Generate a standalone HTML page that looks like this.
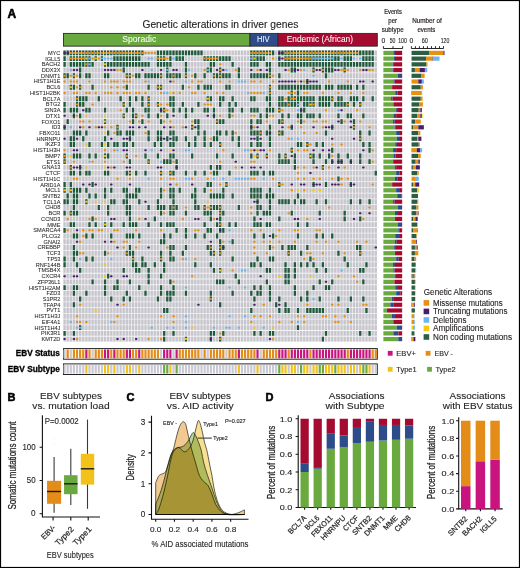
<!DOCTYPE html><html><head><meta charset="utf-8"><style>html,body{margin:0;padding:0;background:#fff;}svg{display:block;}</style></head><body><svg width="520" height="568" viewBox="0 0 520 568" font-family='"Liberation Sans", sans-serif'>
<rect x="0" y="0" width="520" height="568" fill="#fff"/>
<text x="142.4" y="28" font-size="10.4" fill="#231F20" stroke="#231F20" stroke-width="0.12" textLength="155.9" lengthAdjust="spacingAndGlyphs" >Genetic alterations in driver genes</text>
<text x="7.6" y="17.6" font-size="12" fill="#000" stroke="#000" stroke-width="0.55" font-weight="bold" >A</text>
<rect x="63.5" y="33.4" width="186.5" height="12.75" fill="#69A93F" stroke="#2a2a2a" stroke-width="0.9"/>
<rect x="250" y="33.4" width="27.9" height="12.75" fill="#2E4C8A" stroke="#2a2a2a" stroke-width="0.9"/>
<rect x="277.9" y="33.4" width="99.4" height="12.75" fill="#A50A30" stroke="#2a2a2a" stroke-width="0.9"/>
<text x="122.3" y="42.4" font-size="8.4" fill="#fff" stroke="#fff" stroke-width="0.05" textLength="33.9" lengthAdjust="spacingAndGlyphs" >Sporadic</text>
<text x="256.9" y="42.4" font-size="8.4" fill="#fff" stroke="#fff" stroke-width="0.05" textLength="12.7" lengthAdjust="spacingAndGlyphs" >HIV</text>
<text x="286.7" y="42.4" font-size="8.4" fill="#fff" stroke="#fff" stroke-width="0.05" textLength="66.3" lengthAdjust="spacingAndGlyphs" >Endemic (African)</text>
<g>
<rect x="63.33" y="50.45" width="313.71" height="291.1" fill="#EDEDF0"/>
<path fill="#C5C5CB" d="M63.46 50.45h2.25V341.55h-2.25zM66.57 50.45h2.25V341.55h-2.25zM69.69 50.45h2.25V341.55h-2.25zM72.8 50.45h2.25V341.55h-2.25zM75.91 50.45h2.25V341.55h-2.25zM79.02 50.45h2.25V341.55h-2.25zM82.13 50.45h2.25V341.55h-2.25zM85.25 50.45h2.25V341.55h-2.25zM88.36 50.45h2.25V341.55h-2.25zM91.47 50.45h2.25V341.55h-2.25zM94.58 50.45h2.25V341.55h-2.25zM97.69 50.45h2.25V341.55h-2.25zM100.81 50.45h2.25V341.55h-2.25zM103.92 50.45h2.25V341.55h-2.25zM107.03 50.45h2.25V341.55h-2.25zM110.14 50.45h2.25V341.55h-2.25zM113.25 50.45h2.25V341.55h-2.25zM116.37 50.45h2.25V341.55h-2.25zM119.48 50.45h2.25V341.55h-2.25zM122.59 50.45h2.25V341.55h-2.25zM125.7 50.45h2.25V341.55h-2.25zM128.81 50.45h2.25V341.55h-2.25zM131.93 50.45h2.25V341.55h-2.25zM135.04 50.45h2.25V341.55h-2.25zM138.15 50.45h2.25V341.55h-2.25zM141.26 50.45h2.25V341.55h-2.25zM144.37 50.45h2.25V341.55h-2.25zM147.49 50.45h2.25V341.55h-2.25zM150.6 50.45h2.25V341.55h-2.25zM153.71 50.45h2.25V341.55h-2.25zM156.82 50.45h2.25V341.55h-2.25zM159.93 50.45h2.25V341.55h-2.25zM163.05 50.45h2.25V341.55h-2.25zM166.16 50.45h2.25V341.55h-2.25zM169.27 50.45h2.25V341.55h-2.25zM172.38 50.45h2.25V341.55h-2.25zM175.49 50.45h2.25V341.55h-2.25zM178.61 50.45h2.25V341.55h-2.25zM181.72 50.45h2.25V341.55h-2.25zM184.83 50.45h2.25V341.55h-2.25zM187.94 50.45h2.25V341.55h-2.25zM191.05 50.45h2.25V341.55h-2.25zM194.16 50.45h2.25V341.55h-2.25zM197.28 50.45h2.25V341.55h-2.25zM200.39 50.45h2.25V341.55h-2.25zM203.5 50.45h2.25V341.55h-2.25zM206.61 50.45h2.25V341.55h-2.25zM209.72 50.45h2.25V341.55h-2.25zM212.84 50.45h2.25V341.55h-2.25zM215.95 50.45h2.25V341.55h-2.25zM219.06 50.45h2.25V341.55h-2.25zM222.17 50.45h2.25V341.55h-2.25zM225.28 50.45h2.25V341.55h-2.25zM228.4 50.45h2.25V341.55h-2.25zM231.51 50.45h2.25V341.55h-2.25zM234.62 50.45h2.25V341.55h-2.25zM237.73 50.45h2.25V341.55h-2.25zM240.84 50.45h2.25V341.55h-2.25zM243.96 50.45h2.25V341.55h-2.25zM247.07 50.45h2.25V341.55h-2.25zM250.18 50.45h2.25V341.55h-2.25zM253.29 50.45h2.25V341.55h-2.25zM256.4 50.45h2.25V341.55h-2.25zM259.52 50.45h2.25V341.55h-2.25zM262.63 50.45h2.25V341.55h-2.25zM265.74 50.45h2.25V341.55h-2.25zM268.85 50.45h2.25V341.55h-2.25zM271.97 50.45h2.25V341.55h-2.25zM275.08 50.45h2.25V341.55h-2.25zM278.19 50.45h2.25V341.55h-2.25zM281.3 50.45h2.25V341.55h-2.25zM284.41 50.45h2.25V341.55h-2.25zM287.52 50.45h2.25V341.55h-2.25zM290.64 50.45h2.25V341.55h-2.25zM293.75 50.45h2.25V341.55h-2.25zM296.86 50.45h2.25V341.55h-2.25zM299.97 50.45h2.25V341.55h-2.25zM303.09 50.45h2.25V341.55h-2.25zM306.2 50.45h2.25V341.55h-2.25zM309.31 50.45h2.25V341.55h-2.25zM312.42 50.45h2.25V341.55h-2.25zM315.53 50.45h2.25V341.55h-2.25zM318.64 50.45h2.25V341.55h-2.25zM321.76 50.45h2.25V341.55h-2.25zM324.87 50.45h2.25V341.55h-2.25zM327.98 50.45h2.25V341.55h-2.25zM331.09 50.45h2.25V341.55h-2.25zM334.21 50.45h2.25V341.55h-2.25zM337.32 50.45h2.25V341.55h-2.25zM340.43 50.45h2.25V341.55h-2.25zM343.54 50.45h2.25V341.55h-2.25zM346.65 50.45h2.25V341.55h-2.25zM349.76 50.45h2.25V341.55h-2.25zM352.88 50.45h2.25V341.55h-2.25zM355.99 50.45h2.25V341.55h-2.25zM359.1 50.45h2.25V341.55h-2.25zM362.21 50.45h2.25V341.55h-2.25zM365.33 50.45h2.25V341.55h-2.25zM368.44 50.45h2.25V341.55h-2.25zM371.55 50.45h2.25V341.55h-2.25zM374.66 50.45h2.25V341.55h-2.25z"/>
<path fill="#F4F4F6" d="M62 55.35H379V56.17H62zM62 61.07H379V61.9H62zM62 66.8H379V67.62H62zM62 72.52H379V73.35H62zM62 78.25H379V79.07H62zM62 83.97H379V84.79H62zM62 89.69H379V90.52H62zM62 95.42H379V96.24H62zM62 101.14H379V101.97H62zM62 106.87H379V107.69H62zM62 112.59H379V113.41H62zM62 118.31H379V119.14H62zM62 124.04H379V124.86H62zM62 129.76H379V130.59H62zM62 135.49H379V136.31H62zM62 141.21H379V142.03H62zM62 146.93H379V147.76H62zM62 152.66H379V153.48H62zM62 158.38H379V159.21H62zM62 164.11H379V164.93H62zM62 169.83H379V170.65H62zM62 175.55H379V176.38H62zM62 181.28H379V182.1H62zM62 187H379V187.83H62zM62 192.73H379V193.55H62zM62 198.45H379V199.27H62zM62 204.17H379V205H62zM62 209.9H379V210.72H62zM62 215.62H379V216.45H62zM62 221.35H379V222.17H62zM62 227.07H379V227.89H62zM62 232.79H379V233.62H62zM62 238.52H379V239.34H62zM62 244.24H379V245.07H62zM62 249.97H379V250.79H62zM62 255.69H379V256.51H62zM62 261.41H379V262.24H62zM62 267.14H379V267.96H62zM62 272.86H379V273.69H62zM62 278.59H379V279.41H62zM62 284.31H379V285.13H62zM62 290.03H379V290.86H62zM62 295.76H379V296.58H62zM62 301.48H379V302.31H62zM62 307.21H379V308.03H62zM62 312.93H379V313.75H62zM62 318.65H379V319.48H62zM62 324.38H379V325.2H62zM62 330.1H379V330.93H62zM62 335.83H379V336.65H62z"/>
<path fill="#1F5A3B" d="M63.46 50.45h2.25v4.9h-2.25zM66.57 50.45h2.25v4.9h-2.25zM69.69 50.45h2.25v4.9h-2.25zM72.8 50.45h2.25v4.9h-2.25zM75.91 50.45h2.25v4.9h-2.25zM79.02 50.45h2.25v4.9h-2.25zM82.13 50.45h2.25v4.9h-2.25zM85.25 50.45h2.25v4.9h-2.25zM88.36 50.45h2.25v4.9h-2.25zM91.47 50.45h2.25v4.9h-2.25zM94.58 50.45h2.25v4.9h-2.25zM97.69 50.45h2.25v4.9h-2.25zM100.81 50.45h2.25v4.9h-2.25zM103.92 50.45h2.25v4.9h-2.25zM107.03 50.45h2.25v4.9h-2.25zM110.14 50.45h2.25v4.9h-2.25zM113.25 50.45h2.25v4.9h-2.25zM116.37 50.45h2.25v4.9h-2.25zM119.48 50.45h2.25v4.9h-2.25zM122.59 50.45h2.25v4.9h-2.25zM125.7 50.45h2.25v4.9h-2.25zM128.81 50.45h2.25v4.9h-2.25zM131.93 50.45h2.25v4.9h-2.25zM135.04 50.45h2.25v4.9h-2.25zM138.15 50.45h2.25v4.9h-2.25zM141.26 50.45h2.25v4.9h-2.25zM156.82 50.45h2.25v4.9h-2.25zM159.93 50.45h2.25v4.9h-2.25zM163.05 50.45h2.25v4.9h-2.25zM166.16 50.45h2.25v4.9h-2.25zM169.27 50.45h2.25v4.9h-2.25zM172.38 50.45h2.25v4.9h-2.25zM175.49 50.45h2.25v4.9h-2.25zM178.61 50.45h2.25v4.9h-2.25zM181.72 50.45h2.25v4.9h-2.25zM184.83 50.45h2.25v4.9h-2.25zM187.94 50.45h2.25v4.9h-2.25zM191.05 50.45h2.25v4.9h-2.25zM194.16 50.45h2.25v4.9h-2.25zM197.28 50.45h2.25v4.9h-2.25zM200.39 50.45h2.25v4.9h-2.25zM250.18 50.45h2.25v4.9h-2.25zM253.29 50.45h2.25v4.9h-2.25zM256.4 50.45h2.25v4.9h-2.25zM259.52 50.45h2.25v4.9h-2.25zM262.63 50.45h2.25v4.9h-2.25zM265.74 50.45h2.25v4.9h-2.25zM268.85 50.45h2.25v4.9h-2.25zM271.97 50.45h2.25v4.9h-2.25zM278.19 50.45h2.25v4.9h-2.25zM281.3 50.45h2.25v4.9h-2.25zM284.41 50.45h2.25v4.9h-2.25zM287.52 50.45h2.25v4.9h-2.25zM290.64 50.45h2.25v4.9h-2.25zM293.75 50.45h2.25v4.9h-2.25zM296.86 50.45h2.25v4.9h-2.25zM299.97 50.45h2.25v4.9h-2.25zM303.09 50.45h2.25v4.9h-2.25zM306.2 50.45h2.25v4.9h-2.25zM309.31 50.45h2.25v4.9h-2.25zM312.42 50.45h2.25v4.9h-2.25zM315.53 50.45h2.25v4.9h-2.25zM318.64 50.45h2.25v4.9h-2.25zM321.76 50.45h2.25v4.9h-2.25zM324.87 50.45h2.25v4.9h-2.25zM327.98 50.45h2.25v4.9h-2.25zM331.09 50.45h2.25v4.9h-2.25zM334.21 50.45h2.25v4.9h-2.25zM337.32 50.45h2.25v4.9h-2.25zM340.43 50.45h2.25v4.9h-2.25zM343.54 50.45h2.25v4.9h-2.25zM346.65 50.45h2.25v4.9h-2.25zM349.76 50.45h2.25v4.9h-2.25zM352.88 50.45h2.25v4.9h-2.25zM355.99 50.45h2.25v4.9h-2.25zM359.1 50.45h2.25v4.9h-2.25zM362.21 50.45h2.25v4.9h-2.25zM365.33 50.45h2.25v4.9h-2.25zM368.44 50.45h2.25v4.9h-2.25zM371.55 50.45h2.25v4.9h-2.25zM63.46 56.17h2.25v4.9h-2.25zM69.69 56.17h2.25v4.9h-2.25zM72.8 56.17h2.25v4.9h-2.25zM75.91 56.17h2.25v4.9h-2.25zM79.02 56.17h2.25v4.9h-2.25zM82.13 56.17h2.25v4.9h-2.25zM85.25 56.17h2.25v4.9h-2.25zM88.36 56.17h2.25v4.9h-2.25zM94.58 56.17h2.25v4.9h-2.25zM100.81 56.17h2.25v4.9h-2.25zM113.25 56.17h2.25v4.9h-2.25zM116.37 56.17h2.25v4.9h-2.25zM119.48 56.17h2.25v4.9h-2.25zM122.59 56.17h2.25v4.9h-2.25zM125.7 56.17h2.25v4.9h-2.25zM128.81 56.17h2.25v4.9h-2.25zM131.93 56.17h2.25v4.9h-2.25zM135.04 56.17h2.25v4.9h-2.25zM138.15 56.17h2.25v4.9h-2.25zM156.82 56.17h2.25v4.9h-2.25zM159.93 56.17h2.25v4.9h-2.25zM163.05 56.17h2.25v4.9h-2.25zM169.27 56.17h2.25v4.9h-2.25zM175.49 56.17h2.25v4.9h-2.25zM178.61 56.17h2.25v4.9h-2.25zM181.72 56.17h2.25v4.9h-2.25zM203.5 56.17h2.25v4.9h-2.25zM206.61 56.17h2.25v4.9h-2.25zM209.72 56.17h2.25v4.9h-2.25zM212.84 56.17h2.25v4.9h-2.25zM215.95 56.17h2.25v4.9h-2.25zM219.06 56.17h2.25v4.9h-2.25zM222.17 56.17h2.25v4.9h-2.25zM225.28 56.17h2.25v4.9h-2.25zM228.4 56.17h2.25v4.9h-2.25zM250.18 56.17h2.25v4.9h-2.25zM253.29 56.17h2.25v4.9h-2.25zM256.4 56.17h2.25v4.9h-2.25zM259.52 56.17h2.25v4.9h-2.25zM262.63 56.17h2.25v4.9h-2.25zM278.19 56.17h2.25v4.9h-2.25zM284.41 56.17h2.25v4.9h-2.25zM287.52 56.17h2.25v4.9h-2.25zM290.64 56.17h2.25v4.9h-2.25zM293.75 56.17h2.25v4.9h-2.25zM296.86 56.17h2.25v4.9h-2.25zM299.97 56.17h2.25v4.9h-2.25zM303.09 56.17h2.25v4.9h-2.25zM306.2 56.17h2.25v4.9h-2.25zM309.31 56.17h2.25v4.9h-2.25zM312.42 56.17h2.25v4.9h-2.25zM315.53 56.17h2.25v4.9h-2.25zM318.64 56.17h2.25v4.9h-2.25zM321.76 56.17h2.25v4.9h-2.25zM324.87 56.17h2.25v4.9h-2.25zM327.98 56.17h2.25v4.9h-2.25zM331.09 56.17h2.25v4.9h-2.25zM334.21 56.17h2.25v4.9h-2.25zM337.32 56.17h2.25v4.9h-2.25zM343.54 56.17h2.25v4.9h-2.25zM346.65 56.17h2.25v4.9h-2.25zM349.76 56.17h2.25v4.9h-2.25zM362.21 56.17h2.25v4.9h-2.25zM365.33 56.17h2.25v4.9h-2.25zM368.44 56.17h2.25v4.9h-2.25zM371.55 56.17h2.25v4.9h-2.25zM63.46 61.9h2.25v4.9h-2.25zM69.69 61.9h2.25v4.9h-2.25zM72.8 61.9h2.25v4.9h-2.25zM75.91 61.9h2.25v4.9h-2.25zM79.02 61.9h2.25v4.9h-2.25zM82.13 61.9h2.25v4.9h-2.25zM85.25 61.9h2.25v4.9h-2.25zM88.36 61.9h2.25v4.9h-2.25zM91.47 61.9h2.25v4.9h-2.25zM103.92 61.9h2.25v4.9h-2.25zM107.03 61.9h2.25v4.9h-2.25zM110.14 61.9h2.25v4.9h-2.25zM113.25 61.9h2.25v4.9h-2.25zM116.37 61.9h2.25v4.9h-2.25zM119.48 61.9h2.25v4.9h-2.25zM122.59 61.9h2.25v4.9h-2.25zM125.7 61.9h2.25v4.9h-2.25zM128.81 61.9h2.25v4.9h-2.25zM131.93 61.9h2.25v4.9h-2.25zM135.04 61.9h2.25v4.9h-2.25zM138.15 61.9h2.25v4.9h-2.25zM141.26 61.9h2.25v4.9h-2.25zM144.37 61.9h2.25v4.9h-2.25zM147.49 61.9h2.25v4.9h-2.25zM156.82 61.9h2.25v4.9h-2.25zM159.93 61.9h2.25v4.9h-2.25zM163.05 61.9h2.25v4.9h-2.25zM166.16 61.9h2.25v4.9h-2.25zM169.27 61.9h2.25v4.9h-2.25zM184.83 61.9h2.25v4.9h-2.25zM209.72 61.9h2.25v4.9h-2.25zM212.84 61.9h2.25v4.9h-2.25zM231.51 61.9h2.25v4.9h-2.25zM250.18 61.9h2.25v4.9h-2.25zM253.29 61.9h2.25v4.9h-2.25zM256.4 61.9h2.25v4.9h-2.25zM265.74 61.9h2.25v4.9h-2.25zM268.85 61.9h2.25v4.9h-2.25zM278.19 61.9h2.25v4.9h-2.25zM281.3 61.9h2.25v4.9h-2.25zM284.41 61.9h2.25v4.9h-2.25zM287.52 61.9h2.25v4.9h-2.25zM290.64 61.9h2.25v4.9h-2.25zM293.75 61.9h2.25v4.9h-2.25zM296.86 61.9h2.25v4.9h-2.25zM299.97 61.9h2.25v4.9h-2.25zM303.09 61.9h2.25v4.9h-2.25zM306.2 61.9h2.25v4.9h-2.25zM309.31 61.9h2.25v4.9h-2.25zM312.42 61.9h2.25v4.9h-2.25zM315.53 61.9h2.25v4.9h-2.25zM318.64 61.9h2.25v4.9h-2.25zM321.76 61.9h2.25v4.9h-2.25zM324.87 61.9h2.25v4.9h-2.25zM327.98 61.9h2.25v4.9h-2.25zM331.09 61.9h2.25v4.9h-2.25zM334.21 61.9h2.25v4.9h-2.25zM337.32 61.9h2.25v4.9h-2.25zM340.43 61.9h2.25v4.9h-2.25zM343.54 61.9h2.25v4.9h-2.25zM346.65 61.9h2.25v4.9h-2.25zM349.76 61.9h2.25v4.9h-2.25zM352.88 61.9h2.25v4.9h-2.25zM355.99 61.9h2.25v4.9h-2.25zM359.1 61.9h2.25v4.9h-2.25zM362.21 61.9h2.25v4.9h-2.25zM365.33 61.9h2.25v4.9h-2.25zM368.44 61.9h2.25v4.9h-2.25zM371.55 61.9h2.25v4.9h-2.25zM79.02 67.62h2.25v4.9h-2.25zM122.59 67.62h2.25v4.9h-2.25zM166.16 67.62h2.25v4.9h-2.25zM184.83 67.62h2.25v4.9h-2.25zM206.61 67.62h2.25v4.9h-2.25zM209.72 67.62h2.25v4.9h-2.25zM219.06 67.62h2.25v4.9h-2.25zM237.73 67.62h2.25v4.9h-2.25zM268.85 67.62h2.25v4.9h-2.25zM290.64 67.62h2.25v4.9h-2.25zM293.75 67.62h2.25v4.9h-2.25zM312.42 67.62h2.25v4.9h-2.25zM321.76 67.62h2.25v4.9h-2.25zM324.87 67.62h2.25v4.9h-2.25zM327.98 67.62h2.25v4.9h-2.25zM331.09 67.62h2.25v4.9h-2.25zM343.54 67.62h2.25v4.9h-2.25zM63.46 73.35h2.25v4.9h-2.25zM66.57 73.35h2.25v4.9h-2.25zM72.8 73.35h2.25v4.9h-2.25zM79.02 73.35h2.25v4.9h-2.25zM85.25 73.35h2.25v4.9h-2.25zM88.36 73.35h2.25v4.9h-2.25zM103.92 73.35h2.25v4.9h-2.25zM107.03 73.35h2.25v4.9h-2.25zM125.7 73.35h2.25v4.9h-2.25zM128.81 73.35h2.25v4.9h-2.25zM135.04 73.35h2.25v4.9h-2.25zM138.15 73.35h2.25v4.9h-2.25zM144.37 73.35h2.25v4.9h-2.25zM147.49 73.35h2.25v4.9h-2.25zM150.6 73.35h2.25v4.9h-2.25zM153.71 73.35h2.25v4.9h-2.25zM156.82 73.35h2.25v4.9h-2.25zM159.93 73.35h2.25v4.9h-2.25zM166.16 73.35h2.25v4.9h-2.25zM169.27 73.35h2.25v4.9h-2.25zM172.38 73.35h2.25v4.9h-2.25zM175.49 73.35h2.25v4.9h-2.25zM178.61 73.35h2.25v4.9h-2.25zM184.83 73.35h2.25v4.9h-2.25zM194.16 73.35h2.25v4.9h-2.25zM203.5 73.35h2.25v4.9h-2.25zM212.84 73.35h2.25v4.9h-2.25zM215.95 73.35h2.25v4.9h-2.25zM219.06 73.35h2.25v4.9h-2.25zM222.17 73.35h2.25v4.9h-2.25zM225.28 73.35h2.25v4.9h-2.25zM228.4 73.35h2.25v4.9h-2.25zM237.73 73.35h2.25v4.9h-2.25zM250.18 73.35h2.25v4.9h-2.25zM253.29 73.35h2.25v4.9h-2.25zM256.4 73.35h2.25v4.9h-2.25zM259.52 73.35h2.25v4.9h-2.25zM262.63 73.35h2.25v4.9h-2.25zM265.74 73.35h2.25v4.9h-2.25zM268.85 73.35h2.25v4.9h-2.25zM278.19 73.35h2.25v4.9h-2.25zM324.87 73.35h2.25v4.9h-2.25zM306.2 79.07h2.25v4.9h-2.25zM69.69 84.79h2.25v4.9h-2.25zM72.8 84.79h2.25v4.9h-2.25zM79.02 84.79h2.25v4.9h-2.25zM91.47 84.79h2.25v4.9h-2.25zM125.7 84.79h2.25v4.9h-2.25zM147.49 84.79h2.25v4.9h-2.25zM156.82 84.79h2.25v4.9h-2.25zM159.93 84.79h2.25v4.9h-2.25zM181.72 84.79h2.25v4.9h-2.25zM197.28 84.79h2.25v4.9h-2.25zM203.5 84.79h2.25v4.9h-2.25zM206.61 84.79h2.25v4.9h-2.25zM209.72 84.79h2.25v4.9h-2.25zM225.28 84.79h2.25v4.9h-2.25zM228.4 84.79h2.25v4.9h-2.25zM268.85 84.79h2.25v4.9h-2.25zM278.19 84.79h2.25v4.9h-2.25zM281.3 84.79h2.25v4.9h-2.25zM284.41 84.79h2.25v4.9h-2.25zM287.52 84.79h2.25v4.9h-2.25zM290.64 84.79h2.25v4.9h-2.25zM293.75 84.79h2.25v4.9h-2.25zM296.86 84.79h2.25v4.9h-2.25zM299.97 84.79h2.25v4.9h-2.25zM303.09 84.79h2.25v4.9h-2.25zM306.2 84.79h2.25v4.9h-2.25zM309.31 84.79h2.25v4.9h-2.25zM312.42 84.79h2.25v4.9h-2.25zM315.53 84.79h2.25v4.9h-2.25zM318.64 84.79h2.25v4.9h-2.25zM324.87 84.79h2.25v4.9h-2.25zM327.98 84.79h2.25v4.9h-2.25zM331.09 84.79h2.25v4.9h-2.25zM337.32 84.79h2.25v4.9h-2.25zM340.43 84.79h2.25v4.9h-2.25zM343.54 84.79h2.25v4.9h-2.25zM346.65 84.79h2.25v4.9h-2.25zM349.76 84.79h2.25v4.9h-2.25zM355.99 84.79h2.25v4.9h-2.25zM362.21 84.79h2.25v4.9h-2.25zM268.85 90.52h2.25v4.9h-2.25zM290.64 90.52h2.25v4.9h-2.25zM296.86 90.52h2.25v4.9h-2.25zM75.91 96.24h2.25v4.9h-2.25zM79.02 96.24h2.25v4.9h-2.25zM82.13 96.24h2.25v4.9h-2.25zM85.25 96.24h2.25v4.9h-2.25zM97.69 96.24h2.25v4.9h-2.25zM119.48 96.24h2.25v4.9h-2.25zM128.81 96.24h2.25v4.9h-2.25zM135.04 96.24h2.25v4.9h-2.25zM141.26 96.24h2.25v4.9h-2.25zM147.49 96.24h2.25v4.9h-2.25zM169.27 96.24h2.25v4.9h-2.25zM172.38 96.24h2.25v4.9h-2.25zM206.61 96.24h2.25v4.9h-2.25zM209.72 96.24h2.25v4.9h-2.25zM219.06 96.24h2.25v4.9h-2.25zM222.17 96.24h2.25v4.9h-2.25zM231.51 96.24h2.25v4.9h-2.25zM250.18 96.24h2.25v4.9h-2.25zM253.29 96.24h2.25v4.9h-2.25zM265.74 96.24h2.25v4.9h-2.25zM268.85 96.24h2.25v4.9h-2.25zM278.19 96.24h2.25v4.9h-2.25zM281.3 96.24h2.25v4.9h-2.25zM287.52 96.24h2.25v4.9h-2.25zM290.64 96.24h2.25v4.9h-2.25zM293.75 96.24h2.25v4.9h-2.25zM296.86 96.24h2.25v4.9h-2.25zM299.97 96.24h2.25v4.9h-2.25zM303.09 96.24h2.25v4.9h-2.25zM306.2 96.24h2.25v4.9h-2.25zM309.31 96.24h2.25v4.9h-2.25zM312.42 96.24h2.25v4.9h-2.25zM318.64 96.24h2.25v4.9h-2.25zM321.76 96.24h2.25v4.9h-2.25zM324.87 96.24h2.25v4.9h-2.25zM327.98 96.24h2.25v4.9h-2.25zM331.09 96.24h2.25v4.9h-2.25zM337.32 96.24h2.25v4.9h-2.25zM340.43 96.24h2.25v4.9h-2.25zM349.76 96.24h2.25v4.9h-2.25zM352.88 96.24h2.25v4.9h-2.25zM355.99 96.24h2.25v4.9h-2.25zM362.21 96.24h2.25v4.9h-2.25zM371.55 96.24h2.25v4.9h-2.25zM63.46 101.97h2.25v4.9h-2.25zM75.91 101.97h2.25v4.9h-2.25zM79.02 101.97h2.25v4.9h-2.25zM82.13 101.97h2.25v4.9h-2.25zM122.59 101.97h2.25v4.9h-2.25zM128.81 101.97h2.25v4.9h-2.25zM141.26 101.97h2.25v4.9h-2.25zM147.49 101.97h2.25v4.9h-2.25zM156.82 101.97h2.25v4.9h-2.25zM169.27 101.97h2.25v4.9h-2.25zM172.38 101.97h2.25v4.9h-2.25zM181.72 101.97h2.25v4.9h-2.25zM197.28 101.97h2.25v4.9h-2.25zM219.06 101.97h2.25v4.9h-2.25zM228.4 101.97h2.25v4.9h-2.25zM234.62 101.97h2.25v4.9h-2.25zM268.85 101.97h2.25v4.9h-2.25zM278.19 101.97h2.25v4.9h-2.25zM281.3 101.97h2.25v4.9h-2.25zM284.41 101.97h2.25v4.9h-2.25zM287.52 101.97h2.25v4.9h-2.25zM290.64 101.97h2.25v4.9h-2.25zM293.75 101.97h2.25v4.9h-2.25zM296.86 101.97h2.25v4.9h-2.25zM303.09 101.97h2.25v4.9h-2.25zM306.2 101.97h2.25v4.9h-2.25zM309.31 101.97h2.25v4.9h-2.25zM312.42 101.97h2.25v4.9h-2.25zM318.64 101.97h2.25v4.9h-2.25zM321.76 101.97h2.25v4.9h-2.25zM324.87 101.97h2.25v4.9h-2.25zM327.98 101.97h2.25v4.9h-2.25zM334.21 101.97h2.25v4.9h-2.25zM337.32 101.97h2.25v4.9h-2.25zM340.43 101.97h2.25v4.9h-2.25zM343.54 101.97h2.25v4.9h-2.25zM346.65 101.97h2.25v4.9h-2.25zM352.88 101.97h2.25v4.9h-2.25zM359.1 101.97h2.25v4.9h-2.25zM63.46 107.69h2.25v4.9h-2.25zM69.69 107.69h2.25v4.9h-2.25zM72.8 107.69h2.25v4.9h-2.25zM75.91 107.69h2.25v4.9h-2.25zM85.25 107.69h2.25v4.9h-2.25zM88.36 107.69h2.25v4.9h-2.25zM103.92 107.69h2.25v4.9h-2.25zM125.7 107.69h2.25v4.9h-2.25zM131.93 107.69h2.25v4.9h-2.25zM144.37 107.69h2.25v4.9h-2.25zM147.49 107.69h2.25v4.9h-2.25zM159.93 107.69h2.25v4.9h-2.25zM163.05 107.69h2.25v4.9h-2.25zM172.38 107.69h2.25v4.9h-2.25zM178.61 107.69h2.25v4.9h-2.25zM184.83 107.69h2.25v4.9h-2.25zM191.05 107.69h2.25v4.9h-2.25zM203.5 107.69h2.25v4.9h-2.25zM206.61 107.69h2.25v4.9h-2.25zM212.84 107.69h2.25v4.9h-2.25zM228.4 107.69h2.25v4.9h-2.25zM231.51 107.69h2.25v4.9h-2.25zM240.84 107.69h2.25v4.9h-2.25zM250.18 107.69h2.25v4.9h-2.25zM253.29 107.69h2.25v4.9h-2.25zM256.4 107.69h2.25v4.9h-2.25zM265.74 107.69h2.25v4.9h-2.25zM268.85 107.69h2.25v4.9h-2.25zM271.97 107.69h2.25v4.9h-2.25zM278.19 107.69h2.25v4.9h-2.25zM299.97 107.69h2.25v4.9h-2.25zM303.09 107.69h2.25v4.9h-2.25zM72.8 113.41h2.25v4.9h-2.25zM79.02 113.41h2.25v4.9h-2.25zM122.59 113.41h2.25v4.9h-2.25zM131.93 113.41h2.25v4.9h-2.25zM135.04 113.41h2.25v4.9h-2.25zM147.49 113.41h2.25v4.9h-2.25zM156.82 113.41h2.25v4.9h-2.25zM166.16 113.41h2.25v4.9h-2.25zM184.83 113.41h2.25v4.9h-2.25zM212.84 113.41h2.25v4.9h-2.25zM228.4 113.41h2.25v4.9h-2.25zM259.52 113.41h2.25v4.9h-2.25zM265.74 113.41h2.25v4.9h-2.25zM281.3 113.41h2.25v4.9h-2.25zM287.52 113.41h2.25v4.9h-2.25zM296.86 113.41h2.25v4.9h-2.25zM299.97 113.41h2.25v4.9h-2.25zM306.2 113.41h2.25v4.9h-2.25zM309.31 113.41h2.25v4.9h-2.25zM312.42 113.41h2.25v4.9h-2.25zM318.64 113.41h2.25v4.9h-2.25zM337.32 113.41h2.25v4.9h-2.25zM346.65 113.41h2.25v4.9h-2.25zM349.76 113.41h2.25v4.9h-2.25zM362.21 113.41h2.25v4.9h-2.25zM66.57 119.14h2.25v4.9h-2.25zM103.92 119.14h2.25v4.9h-2.25zM131.93 119.14h2.25v4.9h-2.25zM141.26 119.14h2.25v4.9h-2.25zM159.93 119.14h2.25v4.9h-2.25zM194.16 119.14h2.25v4.9h-2.25zM197.28 119.14h2.25v4.9h-2.25zM215.95 119.14h2.25v4.9h-2.25zM219.06 119.14h2.25v4.9h-2.25zM222.17 119.14h2.25v4.9h-2.25zM250.18 119.14h2.25v4.9h-2.25zM256.4 119.14h2.25v4.9h-2.25zM259.52 119.14h2.25v4.9h-2.25zM278.19 119.14h2.25v4.9h-2.25zM281.3 119.14h2.25v4.9h-2.25zM299.97 119.14h2.25v4.9h-2.25zM340.43 119.14h2.25v4.9h-2.25zM352.88 119.14h2.25v4.9h-2.25zM63.46 124.86h2.25v4.9h-2.25zM116.37 124.86h2.25v4.9h-2.25zM191.05 124.86h2.25v4.9h-2.25zM197.28 124.86h2.25v4.9h-2.25zM250.18 124.86h2.25v4.9h-2.25zM268.85 124.86h2.25v4.9h-2.25zM290.64 124.86h2.25v4.9h-2.25zM331.09 124.86h2.25v4.9h-2.25zM352.88 124.86h2.25v4.9h-2.25zM72.8 130.59h2.25v4.9h-2.25zM75.91 130.59h2.25v4.9h-2.25zM79.02 130.59h2.25v4.9h-2.25zM85.25 130.59h2.25v4.9h-2.25zM107.03 130.59h2.25v4.9h-2.25zM116.37 130.59h2.25v4.9h-2.25zM119.48 130.59h2.25v4.9h-2.25zM125.7 130.59h2.25v4.9h-2.25zM128.81 130.59h2.25v4.9h-2.25zM131.93 130.59h2.25v4.9h-2.25zM147.49 130.59h2.25v4.9h-2.25zM156.82 130.59h2.25v4.9h-2.25zM159.93 130.59h2.25v4.9h-2.25zM169.27 130.59h2.25v4.9h-2.25zM172.38 130.59h2.25v4.9h-2.25zM197.28 130.59h2.25v4.9h-2.25zM203.5 130.59h2.25v4.9h-2.25zM215.95 130.59h2.25v4.9h-2.25zM219.06 130.59h2.25v4.9h-2.25zM225.28 130.59h2.25v4.9h-2.25zM231.51 130.59h2.25v4.9h-2.25zM250.18 130.59h2.25v4.9h-2.25zM253.29 130.59h2.25v4.9h-2.25zM256.4 130.59h2.25v4.9h-2.25zM259.52 130.59h2.25v4.9h-2.25zM265.74 130.59h2.25v4.9h-2.25zM268.85 130.59h2.25v4.9h-2.25zM278.19 130.59h2.25v4.9h-2.25zM281.3 130.59h2.25v4.9h-2.25zM324.87 130.59h2.25v4.9h-2.25zM359.1 130.59h2.25v4.9h-2.25zM368.44 130.59h2.25v4.9h-2.25zM69.69 136.31h2.25v4.9h-2.25zM72.8 136.31h2.25v4.9h-2.25zM82.13 136.31h2.25v4.9h-2.25zM103.92 136.31h2.25v4.9h-2.25zM128.81 136.31h2.25v4.9h-2.25zM147.49 136.31h2.25v4.9h-2.25zM156.82 136.31h2.25v4.9h-2.25zM159.93 136.31h2.25v4.9h-2.25zM166.16 136.31h2.25v4.9h-2.25zM172.38 136.31h2.25v4.9h-2.25zM175.49 136.31h2.25v4.9h-2.25zM184.83 136.31h2.25v4.9h-2.25zM194.16 136.31h2.25v4.9h-2.25zM203.5 136.31h2.25v4.9h-2.25zM212.84 136.31h2.25v4.9h-2.25zM215.95 136.31h2.25v4.9h-2.25zM231.51 136.31h2.25v4.9h-2.25zM237.73 136.31h2.25v4.9h-2.25zM256.4 136.31h2.25v4.9h-2.25zM268.85 136.31h2.25v4.9h-2.25zM359.1 136.31h2.25v4.9h-2.25zM69.69 142.03h2.25v4.9h-2.25zM72.8 142.03h2.25v4.9h-2.25zM88.36 142.03h2.25v4.9h-2.25zM100.81 142.03h2.25v4.9h-2.25zM107.03 142.03h2.25v4.9h-2.25zM113.25 142.03h2.25v4.9h-2.25zM116.37 142.03h2.25v4.9h-2.25zM122.59 142.03h2.25v4.9h-2.25zM125.7 142.03h2.25v4.9h-2.25zM131.93 142.03h2.25v4.9h-2.25zM153.71 142.03h2.25v4.9h-2.25zM159.93 142.03h2.25v4.9h-2.25zM169.27 142.03h2.25v4.9h-2.25zM172.38 142.03h2.25v4.9h-2.25zM187.94 142.03h2.25v4.9h-2.25zM194.16 142.03h2.25v4.9h-2.25zM203.5 142.03h2.25v4.9h-2.25zM209.72 142.03h2.25v4.9h-2.25zM219.06 142.03h2.25v4.9h-2.25zM237.73 142.03h2.25v4.9h-2.25zM250.18 142.03h2.25v4.9h-2.25zM256.4 142.03h2.25v4.9h-2.25zM259.52 142.03h2.25v4.9h-2.25zM268.85 142.03h2.25v4.9h-2.25zM296.86 142.03h2.25v4.9h-2.25zM299.97 142.03h2.25v4.9h-2.25zM306.2 142.03h2.25v4.9h-2.25zM315.53 142.03h2.25v4.9h-2.25zM321.76 142.03h2.25v4.9h-2.25zM362.21 142.03h2.25v4.9h-2.25zM368.44 142.03h2.25v4.9h-2.25zM290.64 147.76h2.25v4.9h-2.25zM331.09 147.76h2.25v4.9h-2.25zM368.44 147.76h2.25v4.9h-2.25zM63.46 153.48h2.25v4.9h-2.25zM72.8 153.48h2.25v4.9h-2.25zM75.91 153.48h2.25v4.9h-2.25zM79.02 153.48h2.25v4.9h-2.25zM88.36 153.48h2.25v4.9h-2.25zM94.58 153.48h2.25v4.9h-2.25zM103.92 153.48h2.25v4.9h-2.25zM107.03 153.48h2.25v4.9h-2.25zM125.7 153.48h2.25v4.9h-2.25zM144.37 153.48h2.25v4.9h-2.25zM156.82 153.48h2.25v4.9h-2.25zM169.27 153.48h2.25v4.9h-2.25zM172.38 153.48h2.25v4.9h-2.25zM191.05 153.48h2.25v4.9h-2.25zM215.95 153.48h2.25v4.9h-2.25zM231.51 153.48h2.25v4.9h-2.25zM250.18 153.48h2.25v4.9h-2.25zM256.4 153.48h2.25v4.9h-2.25zM265.74 153.48h2.25v4.9h-2.25zM278.19 153.48h2.25v4.9h-2.25zM284.41 153.48h2.25v4.9h-2.25zM293.75 153.48h2.25v4.9h-2.25zM309.31 153.48h2.25v4.9h-2.25zM312.42 153.48h2.25v4.9h-2.25zM318.64 153.48h2.25v4.9h-2.25zM327.98 153.48h2.25v4.9h-2.25zM337.32 153.48h2.25v4.9h-2.25zM346.65 153.48h2.25v4.9h-2.25zM359.1 153.48h2.25v4.9h-2.25zM63.46 159.21h2.25v4.9h-2.25zM128.81 159.21h2.25v4.9h-2.25zM147.49 159.21h2.25v4.9h-2.25zM163.05 159.21h2.25v4.9h-2.25zM166.16 159.21h2.25v4.9h-2.25zM169.27 159.21h2.25v4.9h-2.25zM175.49 159.21h2.25v4.9h-2.25zM278.19 159.21h2.25v4.9h-2.25zM281.3 159.21h2.25v4.9h-2.25zM284.41 159.21h2.25v4.9h-2.25zM287.52 159.21h2.25v4.9h-2.25zM293.75 159.21h2.25v4.9h-2.25zM312.42 159.21h2.25v4.9h-2.25zM324.87 159.21h2.25v4.9h-2.25zM331.09 159.21h2.25v4.9h-2.25zM337.32 159.21h2.25v4.9h-2.25zM340.43 159.21h2.25v4.9h-2.25zM349.76 159.21h2.25v4.9h-2.25zM359.1 159.21h2.25v4.9h-2.25zM368.44 159.21h2.25v4.9h-2.25zM69.69 164.93h2.25v4.9h-2.25zM79.02 164.93h2.25v4.9h-2.25zM175.49 164.93h2.25v4.9h-2.25zM209.72 164.93h2.25v4.9h-2.25zM215.95 164.93h2.25v4.9h-2.25zM219.06 164.93h2.25v4.9h-2.25zM293.75 164.93h2.25v4.9h-2.25zM321.76 164.93h2.25v4.9h-2.25zM69.69 170.65h2.25v4.9h-2.25zM72.8 170.65h2.25v4.9h-2.25zM79.02 170.65h2.25v4.9h-2.25zM85.25 170.65h2.25v4.9h-2.25zM88.36 170.65h2.25v4.9h-2.25zM103.92 170.65h2.25v4.9h-2.25zM107.03 170.65h2.25v4.9h-2.25zM125.7 170.65h2.25v4.9h-2.25zM128.81 170.65h2.25v4.9h-2.25zM135.04 170.65h2.25v4.9h-2.25zM144.37 170.65h2.25v4.9h-2.25zM159.93 170.65h2.25v4.9h-2.25zM169.27 170.65h2.25v4.9h-2.25zM172.38 170.65h2.25v4.9h-2.25zM184.83 170.65h2.25v4.9h-2.25zM194.16 170.65h2.25v4.9h-2.25zM203.5 170.65h2.25v4.9h-2.25zM212.84 170.65h2.25v4.9h-2.25zM215.95 170.65h2.25v4.9h-2.25zM228.4 170.65h2.25v4.9h-2.25zM250.18 170.65h2.25v4.9h-2.25zM253.29 170.65h2.25v4.9h-2.25zM256.4 170.65h2.25v4.9h-2.25zM262.63 170.65h2.25v4.9h-2.25zM268.85 170.65h2.25v4.9h-2.25zM271.97 170.65h2.25v4.9h-2.25zM374.66 170.65h2.25v4.9h-2.25zM337.32 176.38h2.25v4.9h-2.25zM63.46 182.1h2.25v4.9h-2.25zM69.69 182.1h2.25v4.9h-2.25zM91.47 182.1h2.25v4.9h-2.25zM206.61 182.1h2.25v4.9h-2.25zM209.72 182.1h2.25v4.9h-2.25zM225.28 182.1h2.25v4.9h-2.25zM278.19 182.1h2.25v4.9h-2.25zM312.42 182.1h2.25v4.9h-2.25zM324.87 182.1h2.25v4.9h-2.25zM349.76 182.1h2.25v4.9h-2.25zM63.46 187.83h2.25v4.9h-2.25zM69.69 187.83h2.25v4.9h-2.25zM72.8 187.83h2.25v4.9h-2.25zM75.91 187.83h2.25v4.9h-2.25zM79.02 187.83h2.25v4.9h-2.25zM85.25 187.83h2.25v4.9h-2.25zM103.92 187.83h2.25v4.9h-2.25zM110.14 187.83h2.25v4.9h-2.25zM122.59 187.83h2.25v4.9h-2.25zM125.7 187.83h2.25v4.9h-2.25zM135.04 187.83h2.25v4.9h-2.25zM138.15 187.83h2.25v4.9h-2.25zM159.93 187.83h2.25v4.9h-2.25zM169.27 187.83h2.25v4.9h-2.25zM172.38 187.83h2.25v4.9h-2.25zM178.61 187.83h2.25v4.9h-2.25zM194.16 187.83h2.25v4.9h-2.25zM203.5 187.83h2.25v4.9h-2.25zM222.17 187.83h2.25v4.9h-2.25zM250.18 187.83h2.25v4.9h-2.25zM253.29 187.83h2.25v4.9h-2.25zM256.4 187.83h2.25v4.9h-2.25zM259.52 187.83h2.25v4.9h-2.25zM268.85 187.83h2.25v4.9h-2.25zM66.57 193.55h2.25v4.9h-2.25zM72.8 193.55h2.25v4.9h-2.25zM75.91 193.55h2.25v4.9h-2.25zM88.36 193.55h2.25v4.9h-2.25zM94.58 193.55h2.25v4.9h-2.25zM103.92 193.55h2.25v4.9h-2.25zM125.7 193.55h2.25v4.9h-2.25zM128.81 193.55h2.25v4.9h-2.25zM131.93 193.55h2.25v4.9h-2.25zM135.04 193.55h2.25v4.9h-2.25zM159.93 193.55h2.25v4.9h-2.25zM169.27 193.55h2.25v4.9h-2.25zM172.38 193.55h2.25v4.9h-2.25zM191.05 193.55h2.25v4.9h-2.25zM194.16 193.55h2.25v4.9h-2.25zM209.72 193.55h2.25v4.9h-2.25zM212.84 193.55h2.25v4.9h-2.25zM215.95 193.55h2.25v4.9h-2.25zM219.06 193.55h2.25v4.9h-2.25zM222.17 193.55h2.25v4.9h-2.25zM231.51 193.55h2.25v4.9h-2.25zM250.18 193.55h2.25v4.9h-2.25zM253.29 193.55h2.25v4.9h-2.25zM256.4 193.55h2.25v4.9h-2.25zM259.52 193.55h2.25v4.9h-2.25zM265.74 193.55h2.25v4.9h-2.25zM268.85 193.55h2.25v4.9h-2.25zM271.97 193.55h2.25v4.9h-2.25zM296.86 193.55h2.25v4.9h-2.25zM63.46 199.27h2.25v4.9h-2.25zM66.57 199.27h2.25v4.9h-2.25zM72.8 199.27h2.25v4.9h-2.25zM75.91 199.27h2.25v4.9h-2.25zM85.25 199.27h2.25v4.9h-2.25zM110.14 199.27h2.25v4.9h-2.25zM113.25 199.27h2.25v4.9h-2.25zM122.59 199.27h2.25v4.9h-2.25zM125.7 199.27h2.25v4.9h-2.25zM138.15 199.27h2.25v4.9h-2.25zM156.82 199.27h2.25v4.9h-2.25zM172.38 199.27h2.25v4.9h-2.25zM194.16 199.27h2.25v4.9h-2.25zM256.4 199.27h2.25v4.9h-2.25zM268.85 199.27h2.25v4.9h-2.25zM278.19 199.27h2.25v4.9h-2.25zM281.3 199.27h2.25v4.9h-2.25zM284.41 199.27h2.25v4.9h-2.25zM287.52 199.27h2.25v4.9h-2.25zM293.75 199.27h2.25v4.9h-2.25zM299.97 199.27h2.25v4.9h-2.25zM303.09 199.27h2.25v4.9h-2.25zM315.53 199.27h2.25v4.9h-2.25zM324.87 199.27h2.25v4.9h-2.25zM349.76 199.27h2.25v4.9h-2.25zM359.1 199.27h2.25v4.9h-2.25zM368.44 199.27h2.25v4.9h-2.25zM72.8 205h2.25v4.9h-2.25zM97.69 205h2.25v4.9h-2.25zM107.03 205h2.25v4.9h-2.25zM125.7 205h2.25v4.9h-2.25zM128.81 205h2.25v4.9h-2.25zM147.49 205h2.25v4.9h-2.25zM156.82 205h2.25v4.9h-2.25zM159.93 205h2.25v4.9h-2.25zM163.05 205h2.25v4.9h-2.25zM169.27 205h2.25v4.9h-2.25zM172.38 205h2.25v4.9h-2.25zM175.49 205h2.25v4.9h-2.25zM194.16 205h2.25v4.9h-2.25zM197.28 205h2.25v4.9h-2.25zM203.5 205h2.25v4.9h-2.25zM209.72 205h2.25v4.9h-2.25zM212.84 205h2.25v4.9h-2.25zM215.95 205h2.25v4.9h-2.25zM219.06 205h2.25v4.9h-2.25zM237.73 205h2.25v4.9h-2.25zM256.4 205h2.25v4.9h-2.25zM259.52 205h2.25v4.9h-2.25zM268.85 205h2.25v4.9h-2.25zM63.46 210.72h2.25v4.9h-2.25zM69.69 210.72h2.25v4.9h-2.25zM72.8 210.72h2.25v4.9h-2.25zM75.91 210.72h2.25v4.9h-2.25zM107.03 210.72h2.25v4.9h-2.25zM125.7 210.72h2.25v4.9h-2.25zM128.81 210.72h2.25v4.9h-2.25zM159.93 210.72h2.25v4.9h-2.25zM169.27 210.72h2.25v4.9h-2.25zM172.38 210.72h2.25v4.9h-2.25zM184.83 210.72h2.25v4.9h-2.25zM203.5 210.72h2.25v4.9h-2.25zM206.61 210.72h2.25v4.9h-2.25zM209.72 210.72h2.25v4.9h-2.25zM219.06 210.72h2.25v4.9h-2.25zM222.17 210.72h2.25v4.9h-2.25zM256.4 210.72h2.25v4.9h-2.25zM262.63 210.72h2.25v4.9h-2.25zM265.74 210.72h2.25v4.9h-2.25zM268.85 210.72h2.25v4.9h-2.25zM290.64 210.72h2.25v4.9h-2.25zM318.64 210.72h2.25v4.9h-2.25zM343.54 210.72h2.25v4.9h-2.25zM91.47 216.45h2.25v4.9h-2.25zM128.81 216.45h2.25v4.9h-2.25zM153.71 216.45h2.25v4.9h-2.25zM209.72 216.45h2.25v4.9h-2.25zM219.06 216.45h2.25v4.9h-2.25zM253.29 216.45h2.25v4.9h-2.25zM278.19 216.45h2.25v4.9h-2.25zM343.54 216.45h2.25v4.9h-2.25zM359.1 216.45h2.25v4.9h-2.25zM69.69 222.17h2.25v4.9h-2.25zM72.8 222.17h2.25v4.9h-2.25zM88.36 222.17h2.25v4.9h-2.25zM94.58 222.17h2.25v4.9h-2.25zM103.92 222.17h2.25v4.9h-2.25zM110.14 222.17h2.25v4.9h-2.25zM122.59 222.17h2.25v4.9h-2.25zM128.81 222.17h2.25v4.9h-2.25zM131.93 222.17h2.25v4.9h-2.25zM135.04 222.17h2.25v4.9h-2.25zM147.49 222.17h2.25v4.9h-2.25zM159.93 222.17h2.25v4.9h-2.25zM166.16 222.17h2.25v4.9h-2.25zM169.27 222.17h2.25v4.9h-2.25zM172.38 222.17h2.25v4.9h-2.25zM203.5 222.17h2.25v4.9h-2.25zM215.95 222.17h2.25v4.9h-2.25zM219.06 222.17h2.25v4.9h-2.25zM228.4 222.17h2.25v4.9h-2.25zM234.62 222.17h2.25v4.9h-2.25zM253.29 222.17h2.25v4.9h-2.25zM256.4 222.17h2.25v4.9h-2.25zM259.52 222.17h2.25v4.9h-2.25zM265.74 222.17h2.25v4.9h-2.25zM268.85 222.17h2.25v4.9h-2.25zM296.86 222.17h2.25v4.9h-2.25zM306.2 222.17h2.25v4.9h-2.25zM63.46 227.89h2.25v4.9h-2.25zM175.49 227.89h2.25v4.9h-2.25zM184.83 227.89h2.25v4.9h-2.25zM206.61 227.89h2.25v4.9h-2.25zM209.72 227.89h2.25v4.9h-2.25zM219.06 227.89h2.25v4.9h-2.25zM222.17 227.89h2.25v4.9h-2.25zM72.8 233.62h2.25v4.9h-2.25zM75.91 233.62h2.25v4.9h-2.25zM85.25 233.62h2.25v4.9h-2.25zM91.47 233.62h2.25v4.9h-2.25zM110.14 233.62h2.25v4.9h-2.25zM125.7 233.62h2.25v4.9h-2.25zM128.81 233.62h2.25v4.9h-2.25zM131.93 233.62h2.25v4.9h-2.25zM138.15 233.62h2.25v4.9h-2.25zM163.05 233.62h2.25v4.9h-2.25zM169.27 233.62h2.25v4.9h-2.25zM184.83 233.62h2.25v4.9h-2.25zM194.16 233.62h2.25v4.9h-2.25zM203.5 233.62h2.25v4.9h-2.25zM215.95 233.62h2.25v4.9h-2.25zM253.29 233.62h2.25v4.9h-2.25zM262.63 233.62h2.25v4.9h-2.25zM271.97 233.62h2.25v4.9h-2.25zM296.86 233.62h2.25v4.9h-2.25zM315.53 233.62h2.25v4.9h-2.25zM321.76 233.62h2.25v4.9h-2.25zM331.09 233.62h2.25v4.9h-2.25zM159.93 239.34h2.25v4.9h-2.25zM163.05 239.34h2.25v4.9h-2.25zM219.06 239.34h2.25v4.9h-2.25zM231.51 239.34h2.25v4.9h-2.25zM72.8 245.07h2.25v4.9h-2.25zM128.81 245.07h2.25v4.9h-2.25zM169.27 245.07h2.25v4.9h-2.25zM172.38 245.07h2.25v4.9h-2.25zM184.83 245.07h2.25v4.9h-2.25zM206.61 245.07h2.25v4.9h-2.25zM209.72 245.07h2.25v4.9h-2.25zM219.06 245.07h2.25v4.9h-2.25zM222.17 245.07h2.25v4.9h-2.25zM268.85 245.07h2.25v4.9h-2.25zM281.3 245.07h2.25v4.9h-2.25zM287.52 245.07h2.25v4.9h-2.25zM290.64 245.07h2.25v4.9h-2.25zM293.75 245.07h2.25v4.9h-2.25zM306.2 245.07h2.25v4.9h-2.25zM355.99 245.07h2.25v4.9h-2.25zM359.1 245.07h2.25v4.9h-2.25zM72.8 250.79h2.25v4.9h-2.25zM75.91 250.79h2.25v4.9h-2.25zM103.92 250.79h2.25v4.9h-2.25zM125.7 250.79h2.25v4.9h-2.25zM128.81 250.79h2.25v4.9h-2.25zM131.93 250.79h2.25v4.9h-2.25zM159.93 250.79h2.25v4.9h-2.25zM169.27 250.79h2.25v4.9h-2.25zM181.72 250.79h2.25v4.9h-2.25zM209.72 250.79h2.25v4.9h-2.25zM212.84 250.79h2.25v4.9h-2.25zM219.06 250.79h2.25v4.9h-2.25zM287.52 250.79h2.25v4.9h-2.25zM299.97 250.79h2.25v4.9h-2.25zM337.32 250.79h2.25v4.9h-2.25zM359.1 250.79h2.25v4.9h-2.25zM63.46 256.51h2.25v4.9h-2.25zM72.8 256.51h2.25v4.9h-2.25zM85.25 256.51h2.25v4.9h-2.25zM91.47 256.51h2.25v4.9h-2.25zM131.93 256.51h2.25v4.9h-2.25zM141.26 256.51h2.25v4.9h-2.25zM159.93 256.51h2.25v4.9h-2.25zM169.27 256.51h2.25v4.9h-2.25zM172.38 256.51h2.25v4.9h-2.25zM231.51 256.51h2.25v4.9h-2.25zM256.4 256.51h2.25v4.9h-2.25zM268.85 256.51h2.25v4.9h-2.25zM271.97 256.51h2.25v4.9h-2.25zM309.31 256.51h2.25v4.9h-2.25zM343.54 256.51h2.25v4.9h-2.25zM63.46 262.24h2.25v4.9h-2.25zM75.91 262.24h2.25v4.9h-2.25zM131.93 262.24h2.25v4.9h-2.25zM135.04 262.24h2.25v4.9h-2.25zM141.26 262.24h2.25v4.9h-2.25zM144.37 262.24h2.25v4.9h-2.25zM153.71 262.24h2.25v4.9h-2.25zM163.05 262.24h2.25v4.9h-2.25zM194.16 262.24h2.25v4.9h-2.25zM209.72 262.24h2.25v4.9h-2.25zM250.18 262.24h2.25v4.9h-2.25zM253.29 262.24h2.25v4.9h-2.25zM259.52 262.24h2.25v4.9h-2.25zM284.41 262.24h2.25v4.9h-2.25zM293.75 262.24h2.25v4.9h-2.25zM299.97 262.24h2.25v4.9h-2.25zM306.2 262.24h2.25v4.9h-2.25zM312.42 262.24h2.25v4.9h-2.25zM321.76 262.24h2.25v4.9h-2.25zM346.65 262.24h2.25v4.9h-2.25zM365.33 262.24h2.25v4.9h-2.25zM79.02 267.96h2.25v4.9h-2.25zM122.59 267.96h2.25v4.9h-2.25zM135.04 267.96h2.25v4.9h-2.25zM138.15 267.96h2.25v4.9h-2.25zM147.49 267.96h2.25v4.9h-2.25zM163.05 267.96h2.25v4.9h-2.25zM212.84 267.96h2.25v4.9h-2.25zM219.06 267.96h2.25v4.9h-2.25zM265.74 267.96h2.25v4.9h-2.25zM268.85 267.96h2.25v4.9h-2.25zM284.41 267.96h2.25v4.9h-2.25zM287.52 267.96h2.25v4.9h-2.25zM293.75 267.96h2.25v4.9h-2.25zM315.53 267.96h2.25v4.9h-2.25zM324.87 267.96h2.25v4.9h-2.25zM359.1 267.96h2.25v4.9h-2.25zM362.21 267.96h2.25v4.9h-2.25zM107.03 273.69h2.25v4.9h-2.25zM147.49 273.69h2.25v4.9h-2.25zM159.93 273.69h2.25v4.9h-2.25zM234.62 273.69h2.25v4.9h-2.25zM284.41 273.69h2.25v4.9h-2.25zM287.52 273.69h2.25v4.9h-2.25zM293.75 273.69h2.25v4.9h-2.25zM91.47 279.41h2.25v4.9h-2.25zM103.92 279.41h2.25v4.9h-2.25zM116.37 279.41h2.25v4.9h-2.25zM128.81 279.41h2.25v4.9h-2.25zM147.49 279.41h2.25v4.9h-2.25zM169.27 279.41h2.25v4.9h-2.25zM215.95 279.41h2.25v4.9h-2.25zM219.06 279.41h2.25v4.9h-2.25zM222.17 279.41h2.25v4.9h-2.25zM237.73 279.41h2.25v4.9h-2.25zM265.74 279.41h2.25v4.9h-2.25zM284.41 279.41h2.25v4.9h-2.25zM287.52 279.41h2.25v4.9h-2.25zM318.64 279.41h2.25v4.9h-2.25zM331.09 279.41h2.25v4.9h-2.25zM362.21 279.41h2.25v4.9h-2.25zM63.46 285.13h2.25v4.9h-2.25zM72.8 285.13h2.25v4.9h-2.25zM75.91 285.13h2.25v4.9h-2.25zM103.92 285.13h2.25v4.9h-2.25zM113.25 285.13h2.25v4.9h-2.25zM116.37 285.13h2.25v4.9h-2.25zM138.15 285.13h2.25v4.9h-2.25zM159.93 285.13h2.25v4.9h-2.25zM172.38 285.13h2.25v4.9h-2.25zM253.29 285.13h2.25v4.9h-2.25zM259.52 285.13h2.25v4.9h-2.25zM268.85 285.13h2.25v4.9h-2.25zM293.75 285.13h2.25v4.9h-2.25zM312.42 285.13h2.25v4.9h-2.25zM324.87 285.13h2.25v4.9h-2.25zM327.98 285.13h2.25v4.9h-2.25zM72.8 290.86h2.25v4.9h-2.25zM85.25 290.86h2.25v4.9h-2.25zM103.92 290.86h2.25v4.9h-2.25zM125.7 290.86h2.25v4.9h-2.25zM144.37 290.86h2.25v4.9h-2.25zM159.93 290.86h2.25v4.9h-2.25zM166.16 290.86h2.25v4.9h-2.25zM169.27 290.86h2.25v4.9h-2.25zM172.38 290.86h2.25v4.9h-2.25zM184.83 290.86h2.25v4.9h-2.25zM209.72 290.86h2.25v4.9h-2.25zM231.51 290.86h2.25v4.9h-2.25zM250.18 290.86h2.25v4.9h-2.25zM256.4 290.86h2.25v4.9h-2.25zM259.52 290.86h2.25v4.9h-2.25zM268.85 290.86h2.25v4.9h-2.25zM293.75 290.86h2.25v4.9h-2.25zM306.2 290.86h2.25v4.9h-2.25zM79.02 296.58h2.25v4.9h-2.25zM110.14 296.58h2.25v4.9h-2.25zM122.59 296.58h2.25v4.9h-2.25zM128.81 296.58h2.25v4.9h-2.25zM156.82 296.58h2.25v4.9h-2.25zM166.16 296.58h2.25v4.9h-2.25zM169.27 296.58h2.25v4.9h-2.25zM209.72 296.58h2.25v4.9h-2.25zM253.29 296.58h2.25v4.9h-2.25zM268.85 296.58h2.25v4.9h-2.25zM278.19 296.58h2.25v4.9h-2.25zM299.97 296.58h2.25v4.9h-2.25zM306.2 296.58h2.25v4.9h-2.25zM318.64 296.58h2.25v4.9h-2.25zM337.32 296.58h2.25v4.9h-2.25zM349.76 296.58h2.25v4.9h-2.25zM362.21 296.58h2.25v4.9h-2.25zM72.8 302.31h2.25v4.9h-2.25zM219.06 302.31h2.25v4.9h-2.25zM275.08 302.31h2.25v4.9h-2.25zM284.41 302.31h2.25v4.9h-2.25zM163.05 308.03h2.25v4.9h-2.25zM166.16 308.03h2.25v4.9h-2.25zM250.18 308.03h2.25v4.9h-2.25zM278.19 308.03h2.25v4.9h-2.25zM284.41 308.03h2.25v4.9h-2.25zM287.52 308.03h2.25v4.9h-2.25zM296.86 308.03h2.25v4.9h-2.25zM306.2 308.03h2.25v4.9h-2.25zM309.31 308.03h2.25v4.9h-2.25zM312.42 308.03h2.25v4.9h-2.25zM315.53 308.03h2.25v4.9h-2.25zM318.64 308.03h2.25v4.9h-2.25zM321.76 308.03h2.25v4.9h-2.25zM346.65 308.03h2.25v4.9h-2.25zM365.33 308.03h2.25v4.9h-2.25zM79.02 325.2h2.25v4.9h-2.25zM296.86 325.2h2.25v4.9h-2.25zM63.46 330.93h2.25v4.9h-2.25zM72.8 330.93h2.25v4.9h-2.25zM163.05 330.93h2.25v4.9h-2.25zM172.38 330.93h2.25v4.9h-2.25zM209.72 330.93h2.25v4.9h-2.25zM212.84 330.93h2.25v4.9h-2.25zM222.17 330.93h2.25v4.9h-2.25zM253.29 330.93h2.25v4.9h-2.25zM259.52 330.93h2.25v4.9h-2.25zM268.85 330.93h2.25v4.9h-2.25zM271.97 330.93h2.25v4.9h-2.25zM324.87 330.93h2.25v4.9h-2.25zM359.1 330.93h2.25v4.9h-2.25zM368.44 330.93h2.25v4.9h-2.25zM163.05 336.65h2.25v4.9h-2.25zM184.83 336.65h2.25v4.9h-2.25zM209.72 336.65h2.25v4.9h-2.25zM219.06 336.65h2.25v4.9h-2.25zM321.76 336.65h2.25v4.9h-2.25z"/>
<g fill="#E8900F"><rect x="69.51" y="51.9" width="2.6" height="2.0" rx="1"/><rect x="72.62" y="51.9" width="2.6" height="2.0" rx="1"/><rect x="75.73" y="51.9" width="2.6" height="2.0" rx="1"/><rect x="78.85" y="51.9" width="2.6" height="2.0" rx="1"/><rect x="81.96" y="51.9" width="2.6" height="2.0" rx="1"/><rect x="85.07" y="51.9" width="2.6" height="2.0" rx="1"/><rect x="88.18" y="51.9" width="2.6" height="2.0" rx="1"/><rect x="91.29" y="51.9" width="2.6" height="2.0" rx="1"/><rect x="94.41" y="51.9" width="2.6" height="2.0" rx="1"/><rect x="97.52" y="51.9" width="2.6" height="2.0" rx="1"/><rect x="100.63" y="51.9" width="2.6" height="2.0" rx="1"/><rect x="103.74" y="51.9" width="2.6" height="2.0" rx="1"/><rect x="106.85" y="51.9" width="2.6" height="2.0" rx="1"/><rect x="109.97" y="51.9" width="2.6" height="2.0" rx="1"/><rect x="113.08" y="51.9" width="2.6" height="2.0" rx="1"/><rect x="116.19" y="51.9" width="2.6" height="2.0" rx="1"/><rect x="119.3" y="51.9" width="2.6" height="2.0" rx="1"/><rect x="122.41" y="51.9" width="2.6" height="2.0" rx="1"/><rect x="125.53" y="51.9" width="2.6" height="2.0" rx="1"/><rect x="128.64" y="51.9" width="2.6" height="2.0" rx="1"/><rect x="131.75" y="51.9" width="2.6" height="2.0" rx="1"/><rect x="134.86" y="51.9" width="2.6" height="2.0" rx="1"/><rect x="137.97" y="51.9" width="2.6" height="2.0" rx="1"/><rect x="141.09" y="51.9" width="2.6" height="2.0" rx="1"/><rect x="144.2" y="51.9" width="2.6" height="2.0" rx="1"/><rect x="147.31" y="51.9" width="2.6" height="2.0" rx="1"/><rect x="150.42" y="51.9" width="2.6" height="2.0" rx="1"/><rect x="153.53" y="51.9" width="2.6" height="2.0" rx="1"/><rect x="250.01" y="51.9" width="2.6" height="2.0" rx="1"/><rect x="253.12" y="51.9" width="2.6" height="2.0" rx="1"/><rect x="256.23" y="51.9" width="2.6" height="2.0" rx="1"/><rect x="259.34" y="51.9" width="2.6" height="2.0" rx="1"/><rect x="262.45" y="51.9" width="2.6" height="2.0" rx="1"/><rect x="265.57" y="51.9" width="2.6" height="2.0" rx="1"/><rect x="268.68" y="51.9" width="2.6" height="2.0" rx="1"/><rect x="284.24" y="51.9" width="2.6" height="2.0" rx="1"/><rect x="287.35" y="51.9" width="2.6" height="2.0" rx="1"/><rect x="290.46" y="51.9" width="2.6" height="2.0" rx="1"/><rect x="293.57" y="51.9" width="2.6" height="2.0" rx="1"/><rect x="296.69" y="51.9" width="2.6" height="2.0" rx="1"/><rect x="299.8" y="51.9" width="2.6" height="2.0" rx="1"/><rect x="302.91" y="51.9" width="2.6" height="2.0" rx="1"/><rect x="306.02" y="51.9" width="2.6" height="2.0" rx="1"/><rect x="309.13" y="51.9" width="2.6" height="2.0" rx="1"/><rect x="312.25" y="51.9" width="2.6" height="2.0" rx="1"/><rect x="315.36" y="51.9" width="2.6" height="2.0" rx="1"/><rect x="318.47" y="51.9" width="2.6" height="2.0" rx="1"/><rect x="321.58" y="51.9" width="2.6" height="2.0" rx="1"/><rect x="324.69" y="51.9" width="2.6" height="2.0" rx="1"/><rect x="327.81" y="51.9" width="2.6" height="2.0" rx="1"/><rect x="330.92" y="51.9" width="2.6" height="2.0" rx="1"/><rect x="334.03" y="51.9" width="2.6" height="2.0" rx="1"/><rect x="337.14" y="51.9" width="2.6" height="2.0" rx="1"/><rect x="340.25" y="51.9" width="2.6" height="2.0" rx="1"/><rect x="343.37" y="51.9" width="2.6" height="2.0" rx="1"/><rect x="346.48" y="51.9" width="2.6" height="2.0" rx="1"/><rect x="349.59" y="51.9" width="2.6" height="2.0" rx="1"/><rect x="352.7" y="51.9" width="2.6" height="2.0" rx="1"/><rect x="355.81" y="51.9" width="2.6" height="2.0" rx="1"/><rect x="69.51" y="57.62" width="2.6" height="2.0" rx="1"/><rect x="72.62" y="57.62" width="2.6" height="2.0" rx="1"/><rect x="75.73" y="57.62" width="2.6" height="2.0" rx="1"/><rect x="78.85" y="57.62" width="2.6" height="2.0" rx="1"/><rect x="81.96" y="57.62" width="2.6" height="2.0" rx="1"/><rect x="91.29" y="57.62" width="2.6" height="2.0" rx="1"/><rect x="97.52" y="57.62" width="2.6" height="2.0" rx="1"/><rect x="156.65" y="57.62" width="2.6" height="2.0" rx="1"/><rect x="159.76" y="57.62" width="2.6" height="2.0" rx="1"/><rect x="162.87" y="57.62" width="2.6" height="2.0" rx="1"/><rect x="165.98" y="57.62" width="2.6" height="2.0" rx="1"/><rect x="203.33" y="57.62" width="2.6" height="2.0" rx="1"/><rect x="206.44" y="57.62" width="2.6" height="2.0" rx="1"/><rect x="209.55" y="57.62" width="2.6" height="2.0" rx="1"/><rect x="212.66" y="57.62" width="2.6" height="2.0" rx="1"/><rect x="215.77" y="57.62" width="2.6" height="2.0" rx="1"/><rect x="271.79" y="57.62" width="2.6" height="2.0" rx="1"/><rect x="284.24" y="57.62" width="2.6" height="2.0" rx="1"/><rect x="287.35" y="57.62" width="2.6" height="2.0" rx="1"/><rect x="290.46" y="57.62" width="2.6" height="2.0" rx="1"/><rect x="293.57" y="57.62" width="2.6" height="2.0" rx="1"/><rect x="296.69" y="57.62" width="2.6" height="2.0" rx="1"/><rect x="299.8" y="57.62" width="2.6" height="2.0" rx="1"/><rect x="302.91" y="57.62" width="2.6" height="2.0" rx="1"/><rect x="306.02" y="57.62" width="2.6" height="2.0" rx="1"/><rect x="309.13" y="57.62" width="2.6" height="2.0" rx="1"/><rect x="85.07" y="63.35" width="2.6" height="2.0" rx="1"/><rect x="218.89" y="63.35" width="2.6" height="2.0" rx="1"/><rect x="116.19" y="69.07" width="2.6" height="2.0" rx="1"/><rect x="119.3" y="69.07" width="2.6" height="2.0" rx="1"/><rect x="203.33" y="69.07" width="2.6" height="2.0" rx="1"/><rect x="218.89" y="69.07" width="2.6" height="2.0" rx="1"/><rect x="234.45" y="69.07" width="2.6" height="2.0" rx="1"/><rect x="256.23" y="69.07" width="2.6" height="2.0" rx="1"/><rect x="287.35" y="69.07" width="2.6" height="2.0" rx="1"/><rect x="299.8" y="69.07" width="2.6" height="2.0" rx="1"/><rect x="312.25" y="69.07" width="2.6" height="2.0" rx="1"/><rect x="321.58" y="69.07" width="2.6" height="2.0" rx="1"/><rect x="340.25" y="69.07" width="2.6" height="2.0" rx="1"/><rect x="343.37" y="69.07" width="2.6" height="2.0" rx="1"/><rect x="346.48" y="69.07" width="2.6" height="2.0" rx="1"/><rect x="358.93" y="69.07" width="2.6" height="2.0" rx="1"/><rect x="368.26" y="69.07" width="2.6" height="2.0" rx="1"/><rect x="371.37" y="69.07" width="2.6" height="2.0" rx="1"/><rect x="63.29" y="74.8" width="2.6" height="2.0" rx="1"/><rect x="69.51" y="74.8" width="2.6" height="2.0" rx="1"/><rect x="72.62" y="74.8" width="2.6" height="2.0" rx="1"/><rect x="75.73" y="74.8" width="2.6" height="2.0" rx="1"/><rect x="125.53" y="74.8" width="2.6" height="2.0" rx="1"/><rect x="128.64" y="74.8" width="2.6" height="2.0" rx="1"/><rect x="131.75" y="74.8" width="2.6" height="2.0" rx="1"/><rect x="159.76" y="74.8" width="2.6" height="2.0" rx="1"/><rect x="172.21" y="74.8" width="2.6" height="2.0" rx="1"/><rect x="184.65" y="74.8" width="2.6" height="2.0" rx="1"/><rect x="190.88" y="74.8" width="2.6" height="2.0" rx="1"/><rect x="212.66" y="74.8" width="2.6" height="2.0" rx="1"/><rect x="218.89" y="74.8" width="2.6" height="2.0" rx="1"/><rect x="268.68" y="74.8" width="2.6" height="2.0" rx="1"/><rect x="271.79" y="74.8" width="2.6" height="2.0" rx="1"/><rect x="63.29" y="80.52" width="2.6" height="2.0" rx="1"/><rect x="69.51" y="80.52" width="2.6" height="2.0" rx="1"/><rect x="72.62" y="80.52" width="2.6" height="2.0" rx="1"/><rect x="75.73" y="80.52" width="2.6" height="2.0" rx="1"/><rect x="88.18" y="80.52" width="2.6" height="2.0" rx="1"/><rect x="103.74" y="80.52" width="2.6" height="2.0" rx="1"/><rect x="109.97" y="80.52" width="2.6" height="2.0" rx="1"/><rect x="113.08" y="80.52" width="2.6" height="2.0" rx="1"/><rect x="116.19" y="80.52" width="2.6" height="2.0" rx="1"/><rect x="122.41" y="80.52" width="2.6" height="2.0" rx="1"/><rect x="125.53" y="80.52" width="2.6" height="2.0" rx="1"/><rect x="128.64" y="80.52" width="2.6" height="2.0" rx="1"/><rect x="144.2" y="80.52" width="2.6" height="2.0" rx="1"/><rect x="172.21" y="80.52" width="2.6" height="2.0" rx="1"/><rect x="190.88" y="80.52" width="2.6" height="2.0" rx="1"/><rect x="197.1" y="80.52" width="2.6" height="2.0" rx="1"/><rect x="200.21" y="80.52" width="2.6" height="2.0" rx="1"/><rect x="218.89" y="80.52" width="2.6" height="2.0" rx="1"/><rect x="228.22" y="80.52" width="2.6" height="2.0" rx="1"/><rect x="250.01" y="80.52" width="2.6" height="2.0" rx="1"/><rect x="253.12" y="80.52" width="2.6" height="2.0" rx="1"/><rect x="259.34" y="80.52" width="2.6" height="2.0" rx="1"/><rect x="271.79" y="80.52" width="2.6" height="2.0" rx="1"/><rect x="296.69" y="80.52" width="2.6" height="2.0" rx="1"/><rect x="302.91" y="80.52" width="2.6" height="2.0" rx="1"/><rect x="327.81" y="80.52" width="2.6" height="2.0" rx="1"/><rect x="346.48" y="80.52" width="2.6" height="2.0" rx="1"/><rect x="75.73" y="86.24" width="2.6" height="2.0" rx="1"/><rect x="78.85" y="86.24" width="2.6" height="2.0" rx="1"/><rect x="109.97" y="86.24" width="2.6" height="2.0" rx="1"/><rect x="116.19" y="86.24" width="2.6" height="2.0" rx="1"/><rect x="122.41" y="86.24" width="2.6" height="2.0" rx="1"/><rect x="156.65" y="86.24" width="2.6" height="2.0" rx="1"/><rect x="159.76" y="86.24" width="2.6" height="2.0" rx="1"/><rect x="187.77" y="86.24" width="2.6" height="2.0" rx="1"/><rect x="268.68" y="86.24" width="2.6" height="2.0" rx="1"/><rect x="63.29" y="91.97" width="2.6" height="2.0" rx="1"/><rect x="72.62" y="91.97" width="2.6" height="2.0" rx="1"/><rect x="75.73" y="91.97" width="2.6" height="2.0" rx="1"/><rect x="85.07" y="91.97" width="2.6" height="2.0" rx="1"/><rect x="88.18" y="91.97" width="2.6" height="2.0" rx="1"/><rect x="94.41" y="91.97" width="2.6" height="2.0" rx="1"/><rect x="103.74" y="91.97" width="2.6" height="2.0" rx="1"/><rect x="106.85" y="91.97" width="2.6" height="2.0" rx="1"/><rect x="109.97" y="91.97" width="2.6" height="2.0" rx="1"/><rect x="116.19" y="91.97" width="2.6" height="2.0" rx="1"/><rect x="122.41" y="91.97" width="2.6" height="2.0" rx="1"/><rect x="125.53" y="91.97" width="2.6" height="2.0" rx="1"/><rect x="128.64" y="91.97" width="2.6" height="2.0" rx="1"/><rect x="134.86" y="91.97" width="2.6" height="2.0" rx="1"/><rect x="137.97" y="91.97" width="2.6" height="2.0" rx="1"/><rect x="144.2" y="91.97" width="2.6" height="2.0" rx="1"/><rect x="159.76" y="91.97" width="2.6" height="2.0" rx="1"/><rect x="172.21" y="91.97" width="2.6" height="2.0" rx="1"/><rect x="178.43" y="91.97" width="2.6" height="2.0" rx="1"/><rect x="190.88" y="91.97" width="2.6" height="2.0" rx="1"/><rect x="193.99" y="91.97" width="2.6" height="2.0" rx="1"/><rect x="203.33" y="91.97" width="2.6" height="2.0" rx="1"/><rect x="215.77" y="91.97" width="2.6" height="2.0" rx="1"/><rect x="222" y="91.97" width="2.6" height="2.0" rx="1"/><rect x="250.01" y="91.97" width="2.6" height="2.0" rx="1"/><rect x="253.12" y="91.97" width="2.6" height="2.0" rx="1"/><rect x="256.23" y="91.97" width="2.6" height="2.0" rx="1"/><rect x="259.34" y="91.97" width="2.6" height="2.0" rx="1"/><rect x="268.68" y="91.97" width="2.6" height="2.0" rx="1"/><rect x="287.35" y="91.97" width="2.6" height="2.0" rx="1"/><rect x="290.46" y="91.97" width="2.6" height="2.0" rx="1"/><rect x="293.57" y="91.97" width="2.6" height="2.0" rx="1"/><rect x="302.91" y="91.97" width="2.6" height="2.0" rx="1"/><rect x="306.02" y="91.97" width="2.6" height="2.0" rx="1"/><rect x="321.58" y="91.97" width="2.6" height="2.0" rx="1"/><rect x="337.14" y="91.97" width="2.6" height="2.0" rx="1"/><rect x="349.59" y="91.97" width="2.6" height="2.0" rx="1"/><rect x="362.04" y="91.97" width="2.6" height="2.0" rx="1"/><rect x="75.73" y="97.69" width="2.6" height="2.0" rx="1"/><rect x="147.31" y="97.69" width="2.6" height="2.0" rx="1"/><rect x="284.24" y="97.69" width="2.6" height="2.0" rx="1"/><rect x="290.46" y="97.69" width="2.6" height="2.0" rx="1"/><rect x="293.57" y="97.69" width="2.6" height="2.0" rx="1"/><rect x="330.92" y="97.69" width="2.6" height="2.0" rx="1"/><rect x="75.73" y="103.42" width="2.6" height="2.0" rx="1"/><rect x="91.29" y="103.42" width="2.6" height="2.0" rx="1"/><rect x="122.41" y="103.42" width="2.6" height="2.0" rx="1"/><rect x="147.31" y="103.42" width="2.6" height="2.0" rx="1"/><rect x="156.65" y="103.42" width="2.6" height="2.0" rx="1"/><rect x="159.76" y="103.42" width="2.6" height="2.0" rx="1"/><rect x="165.98" y="103.42" width="2.6" height="2.0" rx="1"/><rect x="203.33" y="103.42" width="2.6" height="2.0" rx="1"/><rect x="206.44" y="103.42" width="2.6" height="2.0" rx="1"/><rect x="209.55" y="103.42" width="2.6" height="2.0" rx="1"/><rect x="287.35" y="103.42" width="2.6" height="2.0" rx="1"/><rect x="312.25" y="103.42" width="2.6" height="2.0" rx="1"/><rect x="346.48" y="103.42" width="2.6" height="2.0" rx="1"/><rect x="358.93" y="103.42" width="2.6" height="2.0" rx="1"/><rect x="119.3" y="109.14" width="2.6" height="2.0" rx="1"/><rect x="162.87" y="109.14" width="2.6" height="2.0" rx="1"/><rect x="165.98" y="109.14" width="2.6" height="2.0" rx="1"/><rect x="278.01" y="109.14" width="2.6" height="2.0" rx="1"/><rect x="281.13" y="109.14" width="2.6" height="2.0" rx="1"/><rect x="324.69" y="109.14" width="2.6" height="2.0" rx="1"/><rect x="355.81" y="109.14" width="2.6" height="2.0" rx="1"/><rect x="75.73" y="114.86" width="2.6" height="2.0" rx="1"/><rect x="122.41" y="114.86" width="2.6" height="2.0" rx="1"/><rect x="134.86" y="114.86" width="2.6" height="2.0" rx="1"/><rect x="141.09" y="114.86" width="2.6" height="2.0" rx="1"/><rect x="159.76" y="114.86" width="2.6" height="2.0" rx="1"/><rect x="218.89" y="114.86" width="2.6" height="2.0" rx="1"/><rect x="231.33" y="114.86" width="2.6" height="2.0" rx="1"/><rect x="250.01" y="114.86" width="2.6" height="2.0" rx="1"/><rect x="253.12" y="114.86" width="2.6" height="2.0" rx="1"/><rect x="268.68" y="114.86" width="2.6" height="2.0" rx="1"/><rect x="271.79" y="114.86" width="2.6" height="2.0" rx="1"/><rect x="78.85" y="120.59" width="2.6" height="2.0" rx="1"/><rect x="81.96" y="120.59" width="2.6" height="2.0" rx="1"/><rect x="88.18" y="120.59" width="2.6" height="2.0" rx="1"/><rect x="128.64" y="120.59" width="2.6" height="2.0" rx="1"/><rect x="137.97" y="120.59" width="2.6" height="2.0" rx="1"/><rect x="147.31" y="120.59" width="2.6" height="2.0" rx="1"/><rect x="162.87" y="120.59" width="2.6" height="2.0" rx="1"/><rect x="169.09" y="120.59" width="2.6" height="2.0" rx="1"/><rect x="190.88" y="120.59" width="2.6" height="2.0" rx="1"/><rect x="215.77" y="120.59" width="2.6" height="2.0" rx="1"/><rect x="265.57" y="120.59" width="2.6" height="2.0" rx="1"/><rect x="281.13" y="120.59" width="2.6" height="2.0" rx="1"/><rect x="296.69" y="120.59" width="2.6" height="2.0" rx="1"/><rect x="302.91" y="120.59" width="2.6" height="2.0" rx="1"/><rect x="312.25" y="120.59" width="2.6" height="2.0" rx="1"/><rect x="315.36" y="120.59" width="2.6" height="2.0" rx="1"/><rect x="321.58" y="120.59" width="2.6" height="2.0" rx="1"/><rect x="324.69" y="120.59" width="2.6" height="2.0" rx="1"/><rect x="343.37" y="120.59" width="2.6" height="2.0" rx="1"/><rect x="358.93" y="120.59" width="2.6" height="2.0" rx="1"/><rect x="81.96" y="126.31" width="2.6" height="2.0" rx="1"/><rect x="94.41" y="126.31" width="2.6" height="2.0" rx="1"/><rect x="103.74" y="126.31" width="2.6" height="2.0" rx="1"/><rect x="109.97" y="126.31" width="2.6" height="2.0" rx="1"/><rect x="116.19" y="126.31" width="2.6" height="2.0" rx="1"/><rect x="172.21" y="126.31" width="2.6" height="2.0" rx="1"/><rect x="181.54" y="126.31" width="2.6" height="2.0" rx="1"/><rect x="190.88" y="126.31" width="2.6" height="2.0" rx="1"/><rect x="253.12" y="126.31" width="2.6" height="2.0" rx="1"/><rect x="287.35" y="126.31" width="2.6" height="2.0" rx="1"/><rect x="299.8" y="126.31" width="2.6" height="2.0" rx="1"/><rect x="321.58" y="126.31" width="2.6" height="2.0" rx="1"/><rect x="352.7" y="126.31" width="2.6" height="2.0" rx="1"/><rect x="368.26" y="126.31" width="2.6" height="2.0" rx="1"/><rect x="113.08" y="132.04" width="2.6" height="2.0" rx="1"/><rect x="144.2" y="132.04" width="2.6" height="2.0" rx="1"/><rect x="234.45" y="132.04" width="2.6" height="2.0" rx="1"/><rect x="259.34" y="132.04" width="2.6" height="2.0" rx="1"/><rect x="278.01" y="132.04" width="2.6" height="2.0" rx="1"/><rect x="302.91" y="132.04" width="2.6" height="2.0" rx="1"/><rect x="315.36" y="132.04" width="2.6" height="2.0" rx="1"/><rect x="209.55" y="137.76" width="2.6" height="2.0" rx="1"/><rect x="287.35" y="137.76" width="2.6" height="2.0" rx="1"/><rect x="358.93" y="137.76" width="2.6" height="2.0" rx="1"/><rect x="218.89" y="143.48" width="2.6" height="2.0" rx="1"/><rect x="306.02" y="143.48" width="2.6" height="2.0" rx="1"/><rect x="309.13" y="143.48" width="2.6" height="2.0" rx="1"/><rect x="330.92" y="143.48" width="2.6" height="2.0" rx="1"/><rect x="340.25" y="143.48" width="2.6" height="2.0" rx="1"/><rect x="63.29" y="149.21" width="2.6" height="2.0" rx="1"/><rect x="103.74" y="149.21" width="2.6" height="2.0" rx="1"/><rect x="113.08" y="149.21" width="2.6" height="2.0" rx="1"/><rect x="222" y="149.21" width="2.6" height="2.0" rx="1"/><rect x="250.01" y="149.21" width="2.6" height="2.0" rx="1"/><rect x="256.23" y="149.21" width="2.6" height="2.0" rx="1"/><rect x="268.68" y="149.21" width="2.6" height="2.0" rx="1"/><rect x="290.46" y="149.21" width="2.6" height="2.0" rx="1"/><rect x="296.69" y="149.21" width="2.6" height="2.0" rx="1"/><rect x="302.91" y="149.21" width="2.6" height="2.0" rx="1"/><rect x="306.02" y="149.21" width="2.6" height="2.0" rx="1"/><rect x="371.37" y="149.21" width="2.6" height="2.0" rx="1"/><rect x="63.29" y="154.93" width="2.6" height="2.0" rx="1"/><rect x="125.53" y="154.93" width="2.6" height="2.0" rx="1"/><rect x="134.86" y="154.93" width="2.6" height="2.0" rx="1"/><rect x="256.23" y="154.93" width="2.6" height="2.0" rx="1"/><rect x="265.57" y="154.93" width="2.6" height="2.0" rx="1"/><rect x="284.24" y="154.93" width="2.6" height="2.0" rx="1"/><rect x="330.92" y="154.93" width="2.6" height="2.0" rx="1"/><rect x="63.29" y="160.66" width="2.6" height="2.0" rx="1"/><rect x="72.62" y="160.66" width="2.6" height="2.0" rx="1"/><rect x="91.29" y="160.66" width="2.6" height="2.0" rx="1"/><rect x="103.74" y="160.66" width="2.6" height="2.0" rx="1"/><rect x="122.41" y="160.66" width="2.6" height="2.0" rx="1"/><rect x="147.31" y="160.66" width="2.6" height="2.0" rx="1"/><rect x="172.21" y="160.66" width="2.6" height="2.0" rx="1"/><rect x="218.89" y="160.66" width="2.6" height="2.0" rx="1"/><rect x="250.01" y="160.66" width="2.6" height="2.0" rx="1"/><rect x="253.12" y="160.66" width="2.6" height="2.0" rx="1"/><rect x="371.37" y="160.66" width="2.6" height="2.0" rx="1"/><rect x="69.51" y="166.38" width="2.6" height="2.0" rx="1"/><rect x="109.97" y="166.38" width="2.6" height="2.0" rx="1"/><rect x="234.45" y="166.38" width="2.6" height="2.0" rx="1"/><rect x="296.69" y="166.38" width="2.6" height="2.0" rx="1"/><rect x="302.91" y="166.38" width="2.6" height="2.0" rx="1"/><rect x="312.25" y="166.38" width="2.6" height="2.0" rx="1"/><rect x="321.58" y="166.38" width="2.6" height="2.0" rx="1"/><rect x="327.81" y="166.38" width="2.6" height="2.0" rx="1"/><rect x="343.37" y="166.38" width="2.6" height="2.0" rx="1"/><rect x="128.64" y="172.1" width="2.6" height="2.0" rx="1"/><rect x="159.76" y="172.1" width="2.6" height="2.0" rx="1"/><rect x="169.09" y="172.1" width="2.6" height="2.0" rx="1"/><rect x="209.55" y="172.1" width="2.6" height="2.0" rx="1"/><rect x="296.69" y="172.1" width="2.6" height="2.0" rx="1"/><rect x="72.62" y="177.83" width="2.6" height="2.0" rx="1"/><rect x="75.73" y="177.83" width="2.6" height="2.0" rx="1"/><rect x="116.19" y="177.83" width="2.6" height="2.0" rx="1"/><rect x="128.64" y="177.83" width="2.6" height="2.0" rx="1"/><rect x="159.76" y="177.83" width="2.6" height="2.0" rx="1"/><rect x="169.09" y="177.83" width="2.6" height="2.0" rx="1"/><rect x="172.21" y="177.83" width="2.6" height="2.0" rx="1"/><rect x="190.88" y="177.83" width="2.6" height="2.0" rx="1"/><rect x="206.44" y="177.83" width="2.6" height="2.0" rx="1"/><rect x="250.01" y="177.83" width="2.6" height="2.0" rx="1"/><rect x="253.12" y="177.83" width="2.6" height="2.0" rx="1"/><rect x="271.79" y="177.83" width="2.6" height="2.0" rx="1"/><rect x="296.69" y="177.83" width="2.6" height="2.0" rx="1"/><rect x="302.91" y="177.83" width="2.6" height="2.0" rx="1"/><rect x="312.25" y="177.83" width="2.6" height="2.0" rx="1"/><rect x="318.47" y="177.83" width="2.6" height="2.0" rx="1"/><rect x="330.92" y="177.83" width="2.6" height="2.0" rx="1"/><rect x="340.25" y="177.83" width="2.6" height="2.0" rx="1"/><rect x="346.48" y="177.83" width="2.6" height="2.0" rx="1"/><rect x="175.32" y="183.55" width="2.6" height="2.0" rx="1"/><rect x="218.89" y="183.55" width="2.6" height="2.0" rx="1"/><rect x="225.11" y="183.55" width="2.6" height="2.0" rx="1"/><rect x="278.01" y="183.55" width="2.6" height="2.0" rx="1"/><rect x="281.13" y="183.55" width="2.6" height="2.0" rx="1"/><rect x="340.25" y="183.55" width="2.6" height="2.0" rx="1"/><rect x="371.37" y="183.55" width="2.6" height="2.0" rx="1"/><rect x="162.87" y="189.28" width="2.6" height="2.0" rx="1"/><rect x="209.55" y="189.28" width="2.6" height="2.0" rx="1"/><rect x="290.46" y="189.28" width="2.6" height="2.0" rx="1"/><rect x="302.91" y="189.28" width="2.6" height="2.0" rx="1"/><rect x="172.21" y="206.45" width="2.6" height="2.0" rx="1"/><rect x="184.65" y="206.45" width="2.6" height="2.0" rx="1"/><rect x="203.33" y="206.45" width="2.6" height="2.0" rx="1"/><rect x="206.44" y="206.45" width="2.6" height="2.0" rx="1"/><rect x="209.55" y="206.45" width="2.6" height="2.0" rx="1"/><rect x="218.89" y="206.45" width="2.6" height="2.0" rx="1"/><rect x="250.01" y="206.45" width="2.6" height="2.0" rx="1"/><rect x="327.81" y="206.45" width="2.6" height="2.0" rx="1"/><rect x="368.26" y="206.45" width="2.6" height="2.0" rx="1"/><rect x="69.51" y="212.17" width="2.6" height="2.0" rx="1"/><rect x="162.87" y="212.17" width="2.6" height="2.0" rx="1"/><rect x="218.89" y="212.17" width="2.6" height="2.0" rx="1"/><rect x="250.01" y="212.17" width="2.6" height="2.0" rx="1"/><rect x="287.35" y="212.17" width="2.6" height="2.0" rx="1"/><rect x="66.4" y="217.9" width="2.6" height="2.0" rx="1"/><rect x="88.18" y="217.9" width="2.6" height="2.0" rx="1"/><rect x="94.41" y="217.9" width="2.6" height="2.0" rx="1"/><rect x="137.97" y="217.9" width="2.6" height="2.0" rx="1"/><rect x="181.54" y="217.9" width="2.6" height="2.0" rx="1"/><rect x="212.66" y="217.9" width="2.6" height="2.0" rx="1"/><rect x="306.02" y="217.9" width="2.6" height="2.0" rx="1"/><rect x="362.04" y="217.9" width="2.6" height="2.0" rx="1"/><rect x="218.89" y="223.62" width="2.6" height="2.0" rx="1"/><rect x="66.4" y="229.34" width="2.6" height="2.0" rx="1"/><rect x="81.96" y="229.34" width="2.6" height="2.0" rx="1"/><rect x="88.18" y="229.34" width="2.6" height="2.0" rx="1"/><rect x="91.29" y="229.34" width="2.6" height="2.0" rx="1"/><rect x="97.52" y="229.34" width="2.6" height="2.0" rx="1"/><rect x="100.63" y="229.34" width="2.6" height="2.0" rx="1"/><rect x="113.08" y="229.34" width="2.6" height="2.0" rx="1"/><rect x="116.19" y="229.34" width="2.6" height="2.0" rx="1"/><rect x="134.86" y="229.34" width="2.6" height="2.0" rx="1"/><rect x="159.76" y="229.34" width="2.6" height="2.0" rx="1"/><rect x="193.99" y="229.34" width="2.6" height="2.0" rx="1"/><rect x="197.1" y="229.34" width="2.6" height="2.0" rx="1"/><rect x="250.01" y="229.34" width="2.6" height="2.0" rx="1"/><rect x="259.34" y="229.34" width="2.6" height="2.0" rx="1"/><rect x="278.01" y="229.34" width="2.6" height="2.0" rx="1"/><rect x="293.57" y="229.34" width="2.6" height="2.0" rx="1"/><rect x="296.69" y="229.34" width="2.6" height="2.0" rx="1"/><rect x="315.36" y="229.34" width="2.6" height="2.0" rx="1"/><rect x="318.47" y="229.34" width="2.6" height="2.0" rx="1"/><rect x="81.96" y="235.07" width="2.6" height="2.0" rx="1"/><rect x="274.9" y="235.07" width="2.6" height="2.0" rx="1"/><rect x="78.85" y="240.79" width="2.6" height="2.0" rx="1"/><rect x="113.08" y="240.79" width="2.6" height="2.0" rx="1"/><rect x="122.41" y="240.79" width="2.6" height="2.0" rx="1"/><rect x="125.53" y="240.79" width="2.6" height="2.0" rx="1"/><rect x="137.97" y="240.79" width="2.6" height="2.0" rx="1"/><rect x="222" y="240.79" width="2.6" height="2.0" rx="1"/><rect x="253.12" y="240.79" width="2.6" height="2.0" rx="1"/><rect x="262.45" y="240.79" width="2.6" height="2.0" rx="1"/><rect x="268.68" y="240.79" width="2.6" height="2.0" rx="1"/><rect x="278.01" y="240.79" width="2.6" height="2.0" rx="1"/><rect x="293.57" y="240.79" width="2.6" height="2.0" rx="1"/><rect x="315.36" y="240.79" width="2.6" height="2.0" rx="1"/><rect x="324.69" y="240.79" width="2.6" height="2.0" rx="1"/><rect x="337.14" y="240.79" width="2.6" height="2.0" rx="1"/><rect x="355.81" y="240.79" width="2.6" height="2.0" rx="1"/><rect x="365.15" y="240.79" width="2.6" height="2.0" rx="1"/><rect x="122.41" y="246.52" width="2.6" height="2.0" rx="1"/><rect x="134.86" y="246.52" width="2.6" height="2.0" rx="1"/><rect x="165.98" y="246.52" width="2.6" height="2.0" rx="1"/><rect x="209.55" y="246.52" width="2.6" height="2.0" rx="1"/><rect x="218.89" y="246.52" width="2.6" height="2.0" rx="1"/><rect x="253.12" y="246.52" width="2.6" height="2.0" rx="1"/><rect x="271.79" y="246.52" width="2.6" height="2.0" rx="1"/><rect x="78.85" y="252.24" width="2.6" height="2.0" rx="1"/><rect x="81.96" y="252.24" width="2.6" height="2.0" rx="1"/><rect x="106.85" y="252.24" width="2.6" height="2.0" rx="1"/><rect x="125.53" y="252.24" width="2.6" height="2.0" rx="1"/><rect x="212.66" y="252.24" width="2.6" height="2.0" rx="1"/><rect x="218.89" y="252.24" width="2.6" height="2.0" rx="1"/><rect x="253.12" y="252.24" width="2.6" height="2.0" rx="1"/><rect x="265.57" y="252.24" width="2.6" height="2.0" rx="1"/><rect x="287.35" y="252.24" width="2.6" height="2.0" rx="1"/><rect x="306.02" y="252.24" width="2.6" height="2.0" rx="1"/><rect x="309.13" y="252.24" width="2.6" height="2.0" rx="1"/><rect x="321.58" y="252.24" width="2.6" height="2.0" rx="1"/><rect x="343.37" y="252.24" width="2.6" height="2.0" rx="1"/><rect x="358.93" y="252.24" width="2.6" height="2.0" rx="1"/><rect x="131.75" y="257.96" width="2.6" height="2.0" rx="1"/><rect x="159.76" y="257.96" width="2.6" height="2.0" rx="1"/><rect x="181.54" y="257.96" width="2.6" height="2.0" rx="1"/><rect x="193.99" y="257.96" width="2.6" height="2.0" rx="1"/><rect x="302.91" y="257.96" width="2.6" height="2.0" rx="1"/><rect x="312.25" y="257.96" width="2.6" height="2.0" rx="1"/><rect x="231.33" y="269.41" width="2.6" height="2.0" rx="1"/><rect x="190.88" y="275.14" width="2.6" height="2.0" rx="1"/><rect x="337.14" y="275.14" width="2.6" height="2.0" rx="1"/><rect x="352.7" y="275.14" width="2.6" height="2.0" rx="1"/><rect x="172.21" y="280.86" width="2.6" height="2.0" rx="1"/><rect x="355.81" y="280.86" width="2.6" height="2.0" rx="1"/><rect x="209.55" y="298.03" width="2.6" height="2.0" rx="1"/><rect x="78.85" y="303.76" width="2.6" height="2.0" rx="1"/><rect x="122.41" y="303.76" width="2.6" height="2.0" rx="1"/><rect x="262.45" y="303.76" width="2.6" height="2.0" rx="1"/><rect x="306.02" y="303.76" width="2.6" height="2.0" rx="1"/><rect x="330.92" y="303.76" width="2.6" height="2.0" rx="1"/><rect x="337.14" y="303.76" width="2.6" height="2.0" rx="1"/><rect x="362.04" y="303.76" width="2.6" height="2.0" rx="1"/><rect x="365.15" y="303.76" width="2.6" height="2.0" rx="1"/><rect x="75.73" y="315.2" width="2.6" height="2.0" rx="1"/><rect x="116.19" y="315.2" width="2.6" height="2.0" rx="1"/><rect x="159.76" y="315.2" width="2.6" height="2.0" rx="1"/><rect x="172.21" y="315.2" width="2.6" height="2.0" rx="1"/><rect x="253.12" y="315.2" width="2.6" height="2.0" rx="1"/><rect x="259.34" y="315.2" width="2.6" height="2.0" rx="1"/><rect x="268.68" y="315.2" width="2.6" height="2.0" rx="1"/><rect x="296.69" y="315.2" width="2.6" height="2.0" rx="1"/><rect x="302.91" y="315.2" width="2.6" height="2.0" rx="1"/><rect x="321.58" y="315.2" width="2.6" height="2.0" rx="1"/><rect x="324.69" y="315.2" width="2.6" height="2.0" rx="1"/><rect x="334.03" y="315.2" width="2.6" height="2.0" rx="1"/><rect x="343.37" y="315.2" width="2.6" height="2.0" rx="1"/><rect x="75.73" y="320.93" width="2.6" height="2.0" rx="1"/><rect x="78.85" y="320.93" width="2.6" height="2.0" rx="1"/><rect x="85.07" y="320.93" width="2.6" height="2.0" rx="1"/><rect x="113.08" y="320.93" width="2.6" height="2.0" rx="1"/><rect x="172.21" y="320.93" width="2.6" height="2.0" rx="1"/><rect x="250.01" y="320.93" width="2.6" height="2.0" rx="1"/><rect x="278.01" y="320.93" width="2.6" height="2.0" rx="1"/><rect x="290.46" y="320.93" width="2.6" height="2.0" rx="1"/><rect x="302.91" y="320.93" width="2.6" height="2.0" rx="1"/><rect x="334.03" y="320.93" width="2.6" height="2.0" rx="1"/><rect x="337.14" y="320.93" width="2.6" height="2.0" rx="1"/><rect x="349.59" y="320.93" width="2.6" height="2.0" rx="1"/><rect x="218.89" y="332.38" width="2.6" height="2.0" rx="1"/><rect x="75.73" y="338.1" width="2.6" height="2.0" rx="1"/><rect x="147.31" y="338.1" width="2.6" height="2.0" rx="1"/><rect x="159.76" y="338.1" width="2.6" height="2.0" rx="1"/><rect x="218.89" y="338.1" width="2.6" height="2.0" rx="1"/><rect x="271.79" y="338.1" width="2.6" height="2.0" rx="1"/></g>
<g fill="#4A1D6C"><rect x="63.29" y="51.9" width="2.6" height="2.0" rx="1"/><rect x="66.4" y="51.9" width="2.6" height="2.0" rx="1"/><rect x="278.01" y="51.9" width="2.6" height="2.0" rx="1"/><rect x="281.13" y="51.9" width="2.6" height="2.0" rx="1"/><rect x="278.01" y="57.62" width="2.6" height="2.0" rx="1"/><rect x="281.13" y="57.62" width="2.6" height="2.0" rx="1"/><rect x="72.62" y="69.07" width="2.6" height="2.0" rx="1"/><rect x="75.73" y="69.07" width="2.6" height="2.0" rx="1"/><rect x="103.74" y="69.07" width="2.6" height="2.0" rx="1"/><rect x="106.85" y="69.07" width="2.6" height="2.0" rx="1"/><rect x="109.97" y="69.07" width="2.6" height="2.0" rx="1"/><rect x="113.08" y="69.07" width="2.6" height="2.0" rx="1"/><rect x="141.09" y="69.07" width="2.6" height="2.0" rx="1"/><rect x="159.76" y="69.07" width="2.6" height="2.0" rx="1"/><rect x="172.21" y="69.07" width="2.6" height="2.0" rx="1"/><rect x="175.32" y="69.07" width="2.6" height="2.0" rx="1"/><rect x="215.77" y="69.07" width="2.6" height="2.0" rx="1"/><rect x="222" y="69.07" width="2.6" height="2.0" rx="1"/><rect x="250.01" y="69.07" width="2.6" height="2.0" rx="1"/><rect x="259.34" y="69.07" width="2.6" height="2.0" rx="1"/><rect x="265.57" y="69.07" width="2.6" height="2.0" rx="1"/><rect x="284.24" y="69.07" width="2.6" height="2.0" rx="1"/><rect x="293.57" y="69.07" width="2.6" height="2.0" rx="1"/><rect x="296.69" y="69.07" width="2.6" height="2.0" rx="1"/><rect x="315.36" y="69.07" width="2.6" height="2.0" rx="1"/><rect x="318.47" y="69.07" width="2.6" height="2.0" rx="1"/><rect x="334.03" y="69.07" width="2.6" height="2.0" rx="1"/><rect x="337.14" y="69.07" width="2.6" height="2.0" rx="1"/><rect x="362.04" y="69.07" width="2.6" height="2.0" rx="1"/><rect x="365.15" y="69.07" width="2.6" height="2.0" rx="1"/><rect x="169.09" y="80.52" width="2.6" height="2.0" rx="1"/><rect x="278.01" y="80.52" width="2.6" height="2.0" rx="1"/><rect x="281.13" y="80.52" width="2.6" height="2.0" rx="1"/><rect x="284.24" y="80.52" width="2.6" height="2.0" rx="1"/><rect x="287.35" y="80.52" width="2.6" height="2.0" rx="1"/><rect x="290.46" y="80.52" width="2.6" height="2.0" rx="1"/><rect x="293.57" y="80.52" width="2.6" height="2.0" rx="1"/><rect x="299.8" y="80.52" width="2.6" height="2.0" rx="1"/><rect x="306.02" y="80.52" width="2.6" height="2.0" rx="1"/><rect x="309.13" y="80.52" width="2.6" height="2.0" rx="1"/><rect x="312.25" y="80.52" width="2.6" height="2.0" rx="1"/><rect x="315.36" y="80.52" width="2.6" height="2.0" rx="1"/><rect x="358.93" y="80.52" width="2.6" height="2.0" rx="1"/><rect x="362.04" y="80.52" width="2.6" height="2.0" rx="1"/><rect x="371.37" y="80.52" width="2.6" height="2.0" rx="1"/><rect x="81.96" y="109.14" width="2.6" height="2.0" rx="1"/><rect x="159.76" y="109.14" width="2.6" height="2.0" rx="1"/><rect x="299.8" y="109.14" width="2.6" height="2.0" rx="1"/><rect x="340.25" y="109.14" width="2.6" height="2.0" rx="1"/><rect x="63.29" y="114.86" width="2.6" height="2.0" rx="1"/><rect x="72.62" y="114.86" width="2.6" height="2.0" rx="1"/><rect x="172.21" y="114.86" width="2.6" height="2.0" rx="1"/><rect x="206.44" y="114.86" width="2.6" height="2.0" rx="1"/><rect x="212.66" y="114.86" width="2.6" height="2.0" rx="1"/><rect x="337.14" y="120.59" width="2.6" height="2.0" rx="1"/><rect x="349.59" y="120.59" width="2.6" height="2.0" rx="1"/><rect x="63.29" y="126.31" width="2.6" height="2.0" rx="1"/><rect x="78.85" y="126.31" width="2.6" height="2.0" rx="1"/><rect x="88.18" y="126.31" width="2.6" height="2.0" rx="1"/><rect x="97.52" y="126.31" width="2.6" height="2.0" rx="1"/><rect x="100.63" y="126.31" width="2.6" height="2.0" rx="1"/><rect x="128.64" y="126.31" width="2.6" height="2.0" rx="1"/><rect x="131.75" y="126.31" width="2.6" height="2.0" rx="1"/><rect x="137.97" y="126.31" width="2.6" height="2.0" rx="1"/><rect x="144.2" y="126.31" width="2.6" height="2.0" rx="1"/><rect x="162.87" y="126.31" width="2.6" height="2.0" rx="1"/><rect x="169.09" y="126.31" width="2.6" height="2.0" rx="1"/><rect x="184.65" y="126.31" width="2.6" height="2.0" rx="1"/><rect x="193.99" y="126.31" width="2.6" height="2.0" rx="1"/><rect x="250.01" y="126.31" width="2.6" height="2.0" rx="1"/><rect x="256.23" y="126.31" width="2.6" height="2.0" rx="1"/><rect x="281.13" y="126.31" width="2.6" height="2.0" rx="1"/><rect x="290.46" y="126.31" width="2.6" height="2.0" rx="1"/><rect x="312.25" y="126.31" width="2.6" height="2.0" rx="1"/><rect x="324.69" y="126.31" width="2.6" height="2.0" rx="1"/><rect x="327.81" y="126.31" width="2.6" height="2.0" rx="1"/><rect x="330.92" y="126.31" width="2.6" height="2.0" rx="1"/><rect x="349.59" y="126.31" width="2.6" height="2.0" rx="1"/><rect x="268.68" y="132.04" width="2.6" height="2.0" rx="1"/><rect x="63.29" y="137.76" width="2.6" height="2.0" rx="1"/><rect x="75.73" y="137.76" width="2.6" height="2.0" rx="1"/><rect x="109.97" y="137.76" width="2.6" height="2.0" rx="1"/><rect x="122.41" y="137.76" width="2.6" height="2.0" rx="1"/><rect x="125.53" y="137.76" width="2.6" height="2.0" rx="1"/><rect x="128.64" y="137.76" width="2.6" height="2.0" rx="1"/><rect x="159.76" y="137.76" width="2.6" height="2.0" rx="1"/><rect x="162.87" y="137.76" width="2.6" height="2.0" rx="1"/><rect x="169.09" y="137.76" width="2.6" height="2.0" rx="1"/><rect x="250.01" y="137.76" width="2.6" height="2.0" rx="1"/><rect x="253.12" y="137.76" width="2.6" height="2.0" rx="1"/><rect x="259.34" y="137.76" width="2.6" height="2.0" rx="1"/><rect x="330.92" y="137.76" width="2.6" height="2.0" rx="1"/><rect x="352.7" y="137.76" width="2.6" height="2.0" rx="1"/><rect x="72.62" y="149.21" width="2.6" height="2.0" rx="1"/><rect x="75.73" y="149.21" width="2.6" height="2.0" rx="1"/><rect x="122.41" y="149.21" width="2.6" height="2.0" rx="1"/><rect x="125.53" y="149.21" width="2.6" height="2.0" rx="1"/><rect x="144.2" y="149.21" width="2.6" height="2.0" rx="1"/><rect x="159.76" y="149.21" width="2.6" height="2.0" rx="1"/><rect x="172.21" y="149.21" width="2.6" height="2.0" rx="1"/><rect x="253.12" y="149.21" width="2.6" height="2.0" rx="1"/><rect x="259.34" y="149.21" width="2.6" height="2.0" rx="1"/><rect x="262.45" y="149.21" width="2.6" height="2.0" rx="1"/><rect x="312.25" y="149.21" width="2.6" height="2.0" rx="1"/><rect x="321.58" y="149.21" width="2.6" height="2.0" rx="1"/><rect x="327.81" y="149.21" width="2.6" height="2.0" rx="1"/><rect x="362.04" y="149.21" width="2.6" height="2.0" rx="1"/><rect x="290.46" y="154.93" width="2.6" height="2.0" rx="1"/><rect x="234.45" y="160.66" width="2.6" height="2.0" rx="1"/><rect x="330.92" y="160.66" width="2.6" height="2.0" rx="1"/><rect x="337.14" y="160.66" width="2.6" height="2.0" rx="1"/><rect x="340.25" y="160.66" width="2.6" height="2.0" rx="1"/><rect x="349.59" y="160.66" width="2.6" height="2.0" rx="1"/><rect x="72.62" y="166.38" width="2.6" height="2.0" rx="1"/><rect x="75.73" y="166.38" width="2.6" height="2.0" rx="1"/><rect x="78.85" y="166.38" width="2.6" height="2.0" rx="1"/><rect x="106.85" y="166.38" width="2.6" height="2.0" rx="1"/><rect x="113.08" y="166.38" width="2.6" height="2.0" rx="1"/><rect x="125.53" y="166.38" width="2.6" height="2.0" rx="1"/><rect x="128.64" y="166.38" width="2.6" height="2.0" rx="1"/><rect x="156.65" y="166.38" width="2.6" height="2.0" rx="1"/><rect x="159.76" y="166.38" width="2.6" height="2.0" rx="1"/><rect x="175.32" y="166.38" width="2.6" height="2.0" rx="1"/><rect x="240.67" y="166.38" width="2.6" height="2.0" rx="1"/><rect x="250.01" y="166.38" width="2.6" height="2.0" rx="1"/><rect x="253.12" y="166.38" width="2.6" height="2.0" rx="1"/><rect x="259.34" y="166.38" width="2.6" height="2.0" rx="1"/><rect x="315.36" y="166.38" width="2.6" height="2.0" rx="1"/><rect x="337.14" y="166.38" width="2.6" height="2.0" rx="1"/><rect x="362.04" y="166.38" width="2.6" height="2.0" rx="1"/><rect x="309.13" y="172.1" width="2.6" height="2.0" rx="1"/><rect x="81.96" y="183.55" width="2.6" height="2.0" rx="1"/><rect x="88.18" y="183.55" width="2.6" height="2.0" rx="1"/><rect x="94.41" y="183.55" width="2.6" height="2.0" rx="1"/><rect x="109.97" y="183.55" width="2.6" height="2.0" rx="1"/><rect x="128.64" y="183.55" width="2.6" height="2.0" rx="1"/><rect x="169.09" y="183.55" width="2.6" height="2.0" rx="1"/><rect x="190.88" y="183.55" width="2.6" height="2.0" rx="1"/><rect x="290.46" y="183.55" width="2.6" height="2.0" rx="1"/><rect x="299.8" y="183.55" width="2.6" height="2.0" rx="1"/><rect x="302.91" y="183.55" width="2.6" height="2.0" rx="1"/><rect x="312.25" y="183.55" width="2.6" height="2.0" rx="1"/><rect x="315.36" y="183.55" width="2.6" height="2.0" rx="1"/><rect x="318.47" y="183.55" width="2.6" height="2.0" rx="1"/><rect x="330.92" y="183.55" width="2.6" height="2.0" rx="1"/><rect x="334.03" y="183.55" width="2.6" height="2.0" rx="1"/><rect x="337.14" y="183.55" width="2.6" height="2.0" rx="1"/><rect x="349.59" y="183.55" width="2.6" height="2.0" rx="1"/><rect x="352.7" y="183.55" width="2.6" height="2.0" rx="1"/><rect x="144.2" y="200.72" width="2.6" height="2.0" rx="1"/><rect x="253.12" y="200.72" width="2.6" height="2.0" rx="1"/><rect x="256.23" y="200.72" width="2.6" height="2.0" rx="1"/><rect x="358.93" y="212.17" width="2.6" height="2.0" rx="1"/><rect x="368.26" y="212.17" width="2.6" height="2.0" rx="1"/><rect x="109.97" y="217.9" width="2.6" height="2.0" rx="1"/><rect x="113.08" y="217.9" width="2.6" height="2.0" rx="1"/><rect x="144.2" y="217.9" width="2.6" height="2.0" rx="1"/><rect x="193.99" y="217.9" width="2.6" height="2.0" rx="1"/><rect x="197.1" y="217.9" width="2.6" height="2.0" rx="1"/><rect x="215.77" y="217.9" width="2.6" height="2.0" rx="1"/><rect x="259.34" y="217.9" width="2.6" height="2.0" rx="1"/><rect x="293.57" y="217.9" width="2.6" height="2.0" rx="1"/><rect x="296.69" y="217.9" width="2.6" height="2.0" rx="1"/><rect x="318.47" y="217.9" width="2.6" height="2.0" rx="1"/><rect x="352.7" y="217.9" width="2.6" height="2.0" rx="1"/><rect x="75.73" y="229.34" width="2.6" height="2.0" rx="1"/><rect x="218.89" y="229.34" width="2.6" height="2.0" rx="1"/><rect x="268.68" y="235.07" width="2.6" height="2.0" rx="1"/><rect x="75.73" y="240.79" width="2.6" height="2.0" rx="1"/><rect x="103.74" y="240.79" width="2.6" height="2.0" rx="1"/><rect x="109.97" y="240.79" width="2.6" height="2.0" rx="1"/><rect x="209.55" y="240.79" width="2.6" height="2.0" rx="1"/><rect x="116.19" y="246.52" width="2.6" height="2.0" rx="1"/><rect x="147.31" y="246.52" width="2.6" height="2.0" rx="1"/><rect x="222" y="246.52" width="2.6" height="2.0" rx="1"/><rect x="374.49" y="246.52" width="2.6" height="2.0" rx="1"/><rect x="63.29" y="275.14" width="2.6" height="2.0" rx="1"/><rect x="72.62" y="275.14" width="2.6" height="2.0" rx="1"/><rect x="75.73" y="275.14" width="2.6" height="2.0" rx="1"/><rect x="109.97" y="275.14" width="2.6" height="2.0" rx="1"/><rect x="122.41" y="275.14" width="2.6" height="2.0" rx="1"/><rect x="125.53" y="275.14" width="2.6" height="2.0" rx="1"/><rect x="259.34" y="275.14" width="2.6" height="2.0" rx="1"/><rect x="324.69" y="280.86" width="2.6" height="2.0" rx="1"/><rect x="116.19" y="303.76" width="2.6" height="2.0" rx="1"/><rect x="197.1" y="303.76" width="2.6" height="2.0" rx="1"/><rect x="253.12" y="303.76" width="2.6" height="2.0" rx="1"/><rect x="278.01" y="303.76" width="2.6" height="2.0" rx="1"/><rect x="63.29" y="338.1" width="2.6" height="2.0" rx="1"/><rect x="72.62" y="338.1" width="2.6" height="2.0" rx="1"/><rect x="116.19" y="338.1" width="2.6" height="2.0" rx="1"/><rect x="122.41" y="338.1" width="2.6" height="2.0" rx="1"/><rect x="134.86" y="338.1" width="2.6" height="2.0" rx="1"/><rect x="209.55" y="338.1" width="2.6" height="2.0" rx="1"/><rect x="268.68" y="338.1" width="2.6" height="2.0" rx="1"/></g>
<g fill="#6DB5EE"><rect x="88.18" y="57.62" width="2.6" height="2.0" rx="1"/><rect x="100.63" y="57.62" width="2.6" height="2.0" rx="1"/><rect x="103.74" y="57.62" width="2.6" height="2.0" rx="1"/><rect x="106.85" y="57.62" width="2.6" height="2.0" rx="1"/><rect x="109.97" y="57.62" width="2.6" height="2.0" rx="1"/><rect x="147.31" y="57.62" width="2.6" height="2.0" rx="1"/><rect x="150.42" y="57.62" width="2.6" height="2.0" rx="1"/><rect x="172.21" y="57.62" width="2.6" height="2.0" rx="1"/><rect x="250.01" y="57.62" width="2.6" height="2.0" rx="1"/><rect x="312.25" y="57.62" width="2.6" height="2.0" rx="1"/><rect x="315.36" y="57.62" width="2.6" height="2.0" rx="1"/><rect x="318.47" y="57.62" width="2.6" height="2.0" rx="1"/><rect x="321.58" y="57.62" width="2.6" height="2.0" rx="1"/><rect x="324.69" y="57.62" width="2.6" height="2.0" rx="1"/><rect x="327.81" y="57.62" width="2.6" height="2.0" rx="1"/><rect x="330.92" y="57.62" width="2.6" height="2.0" rx="1"/><rect x="340.25" y="57.62" width="2.6" height="2.0" rx="1"/><rect x="352.7" y="57.62" width="2.6" height="2.0" rx="1"/><rect x="358.93" y="57.62" width="2.6" height="2.0" rx="1"/><rect x="88.18" y="63.35" width="2.6" height="2.0" rx="1"/><rect x="69.51" y="69.07" width="2.6" height="2.0" rx="1"/><rect x="150.42" y="69.07" width="2.6" height="2.0" rx="1"/><rect x="165.98" y="69.07" width="2.6" height="2.0" rx="1"/><rect x="187.77" y="69.07" width="2.6" height="2.0" rx="1"/><rect x="206.44" y="69.07" width="2.6" height="2.0" rx="1"/><rect x="225.11" y="69.07" width="2.6" height="2.0" rx="1"/><rect x="302.91" y="69.07" width="2.6" height="2.0" rx="1"/><rect x="312.25" y="74.8" width="2.6" height="2.0" rx="1"/><rect x="147.31" y="80.52" width="2.6" height="2.0" rx="1"/><rect x="184.65" y="80.52" width="2.6" height="2.0" rx="1"/><rect x="237.56" y="80.52" width="2.6" height="2.0" rx="1"/><rect x="240.67" y="80.52" width="2.6" height="2.0" rx="1"/><rect x="243.78" y="80.52" width="2.6" height="2.0" rx="1"/><rect x="162.87" y="91.97" width="2.6" height="2.0" rx="1"/><rect x="165.98" y="91.97" width="2.6" height="2.0" rx="1"/><rect x="246.89" y="91.97" width="2.6" height="2.0" rx="1"/><rect x="262.45" y="91.97" width="2.6" height="2.0" rx="1"/><rect x="296.69" y="103.42" width="2.6" height="2.0" rx="1"/><rect x="296.69" y="109.14" width="2.6" height="2.0" rx="1"/><rect x="337.14" y="109.14" width="2.6" height="2.0" rx="1"/><rect x="69.51" y="126.31" width="2.6" height="2.0" rx="1"/><rect x="290.46" y="137.76" width="2.6" height="2.0" rx="1"/><rect x="296.69" y="137.76" width="2.6" height="2.0" rx="1"/><rect x="116.19" y="149.21" width="2.6" height="2.0" rx="1"/><rect x="150.42" y="149.21" width="2.6" height="2.0" rx="1"/><rect x="184.65" y="149.21" width="2.6" height="2.0" rx="1"/><rect x="187.77" y="149.21" width="2.6" height="2.0" rx="1"/><rect x="243.78" y="149.21" width="2.6" height="2.0" rx="1"/><rect x="246.89" y="149.21" width="2.6" height="2.0" rx="1"/><rect x="88.18" y="160.66" width="2.6" height="2.0" rx="1"/><rect x="159.76" y="160.66" width="2.6" height="2.0" rx="1"/><rect x="147.31" y="177.83" width="2.6" height="2.0" rx="1"/><rect x="184.65" y="177.83" width="2.6" height="2.0" rx="1"/><rect x="187.77" y="177.83" width="2.6" height="2.0" rx="1"/><rect x="212.66" y="177.83" width="2.6" height="2.0" rx="1"/><rect x="222" y="177.83" width="2.6" height="2.0" rx="1"/><rect x="234.45" y="177.83" width="2.6" height="2.0" rx="1"/><rect x="237.56" y="177.83" width="2.6" height="2.0" rx="1"/><rect x="240.67" y="177.83" width="2.6" height="2.0" rx="1"/><rect x="243.78" y="177.83" width="2.6" height="2.0" rx="1"/><rect x="246.89" y="177.83" width="2.6" height="2.0" rx="1"/><rect x="262.45" y="177.83" width="2.6" height="2.0" rx="1"/><rect x="228.22" y="229.34" width="2.6" height="2.0" rx="1"/><rect x="228.22" y="240.79" width="2.6" height="2.0" rx="1"/><rect x="78.85" y="257.96" width="2.6" height="2.0" rx="1"/><rect x="109.97" y="257.96" width="2.6" height="2.0" rx="1"/><rect x="184.65" y="257.96" width="2.6" height="2.0" rx="1"/><rect x="240.67" y="269.41" width="2.6" height="2.0" rx="1"/><rect x="243.78" y="269.41" width="2.6" height="2.0" rx="1"/><rect x="340.25" y="269.41" width="2.6" height="2.0" rx="1"/><rect x="184.65" y="286.58" width="2.6" height="2.0" rx="1"/><rect x="228.22" y="286.58" width="2.6" height="2.0" rx="1"/><rect x="243.78" y="286.58" width="2.6" height="2.0" rx="1"/><rect x="312.25" y="298.03" width="2.6" height="2.0" rx="1"/><rect x="184.65" y="315.2" width="2.6" height="2.0" rx="1"/><rect x="228.22" y="315.2" width="2.6" height="2.0" rx="1"/><rect x="243.78" y="315.2" width="2.6" height="2.0" rx="1"/><rect x="69.51" y="320.93" width="2.6" height="2.0" rx="1"/><rect x="109.97" y="320.93" width="2.6" height="2.0" rx="1"/><rect x="184.65" y="320.93" width="2.6" height="2.0" rx="1"/><rect x="296.69" y="320.93" width="2.6" height="2.0" rx="1"/><rect x="75.73" y="326.65" width="2.6" height="2.0" rx="1"/><rect x="78.85" y="326.65" width="2.6" height="2.0" rx="1"/><rect x="150.42" y="326.65" width="2.6" height="2.0" rx="1"/><rect x="165.98" y="326.65" width="2.6" height="2.0" rx="1"/><rect x="172.21" y="326.65" width="2.6" height="2.0" rx="1"/><rect x="184.65" y="326.65" width="2.6" height="2.0" rx="1"/><rect x="212.66" y="326.65" width="2.6" height="2.0" rx="1"/><rect x="225.11" y="326.65" width="2.6" height="2.0" rx="1"/><rect x="228.22" y="326.65" width="2.6" height="2.0" rx="1"/><rect x="237.56" y="326.65" width="2.6" height="2.0" rx="1"/><rect x="262.45" y="326.65" width="2.6" height="2.0" rx="1"/></g>
<g fill="#F3C912"><rect x="85.07" y="57.62" width="2.6" height="2.0" rx="1"/><rect x="94.41" y="57.62" width="2.6" height="2.0" rx="1"/><rect x="253.12" y="57.62" width="2.6" height="2.0" rx="1"/><rect x="103.74" y="63.35" width="2.6" height="2.0" rx="1"/><rect x="69.51" y="86.24" width="2.6" height="2.0" rx="1"/><rect x="169.09" y="91.97" width="2.6" height="2.0" rx="1"/><rect x="206.44" y="97.69" width="2.6" height="2.0" rx="1"/><rect x="309.13" y="103.42" width="2.6" height="2.0" rx="1"/><rect x="85.07" y="114.86" width="2.6" height="2.0" rx="1"/><rect x="103.74" y="114.86" width="2.6" height="2.0" rx="1"/><rect x="103.74" y="120.59" width="2.6" height="2.0" rx="1"/><rect x="103.74" y="132.04" width="2.6" height="2.0" rx="1"/><rect x="85.07" y="143.48" width="2.6" height="2.0" rx="1"/><rect x="103.74" y="143.48" width="2.6" height="2.0" rx="1"/><rect x="169.09" y="149.21" width="2.6" height="2.0" rx="1"/><rect x="69.51" y="154.93" width="2.6" height="2.0" rx="1"/><rect x="103.74" y="154.93" width="2.6" height="2.0" rx="1"/><rect x="253.12" y="154.93" width="2.6" height="2.0" rx="1"/><rect x="309.13" y="154.93" width="2.6" height="2.0" rx="1"/><rect x="85.07" y="166.38" width="2.6" height="2.0" rx="1"/><rect x="103.74" y="166.38" width="2.6" height="2.0" rx="1"/><rect x="63.29" y="189.28" width="2.6" height="2.0" rx="1"/><rect x="69.51" y="189.28" width="2.6" height="2.0" rx="1"/><rect x="296.69" y="189.28" width="2.6" height="2.0" rx="1"/><rect x="312.25" y="189.28" width="2.6" height="2.0" rx="1"/><rect x="318.47" y="189.28" width="2.6" height="2.0" rx="1"/><rect x="85.07" y="200.72" width="2.6" height="2.0" rx="1"/><rect x="94.41" y="200.72" width="2.6" height="2.0" rx="1"/><rect x="103.74" y="200.72" width="2.6" height="2.0" rx="1"/><rect x="206.44" y="200.72" width="2.6" height="2.0" rx="1"/><rect x="103.74" y="223.62" width="2.6" height="2.0" rx="1"/><rect x="103.74" y="263.69" width="2.6" height="2.0" rx="1"/><rect x="218.89" y="269.41" width="2.6" height="2.0" rx="1"/><rect x="103.74" y="275.14" width="2.6" height="2.0" rx="1"/><rect x="278.01" y="275.14" width="2.6" height="2.0" rx="1"/><rect x="309.13" y="275.14" width="2.6" height="2.0" rx="1"/><rect x="94.41" y="309.48" width="2.6" height="2.0" rx="1"/><rect x="190.88" y="326.65" width="2.6" height="2.0" rx="1"/><rect x="253.12" y="326.65" width="2.6" height="2.0" rx="1"/><rect x="271.79" y="326.65" width="2.6" height="2.0" rx="1"/><rect x="184.65" y="338.1" width="2.6" height="2.0" rx="1"/></g>
</g>
<text x="60.4" y="54.85" font-size="5.6" fill="#231F20" stroke="#231F20" stroke-width="0.06" text-anchor="end" >MYC</text>
<text x="60.4" y="60.57" font-size="5.6" fill="#231F20" stroke="#231F20" stroke-width="0.06" text-anchor="end" >IGLL5</text>
<text x="60.4" y="66.3" font-size="5.6" fill="#231F20" stroke="#231F20" stroke-width="0.06" text-anchor="end" >BACH2</text>
<text x="60.4" y="72.02" font-size="5.6" fill="#231F20" stroke="#231F20" stroke-width="0.06" text-anchor="end" >DDX3X</text>
<text x="60.4" y="77.75" font-size="5.6" fill="#231F20" stroke="#231F20" stroke-width="0.06" text-anchor="end" >DNMT1</text>
<text x="60.4" y="83.47" font-size="5.6" fill="#231F20" stroke="#231F20" stroke-width="0.06" text-anchor="end" >HIST1H1E</text>
<text x="60.4" y="89.19" font-size="5.6" fill="#231F20" stroke="#231F20" stroke-width="0.06" text-anchor="end" >BCL6</text>
<text x="60.4" y="94.92" font-size="5.6" fill="#231F20" stroke="#231F20" stroke-width="0.06" text-anchor="end" >HIST1H2BK</text>
<text x="60.4" y="100.64" font-size="5.6" fill="#231F20" stroke="#231F20" stroke-width="0.06" text-anchor="end" >BCL7A</text>
<text x="60.4" y="106.37" font-size="5.6" fill="#231F20" stroke="#231F20" stroke-width="0.06" text-anchor="end" >BTG2</text>
<text x="60.4" y="112.09" font-size="5.6" fill="#231F20" stroke="#231F20" stroke-width="0.06" text-anchor="end" >SIN3A</text>
<text x="60.4" y="117.81" font-size="5.6" fill="#231F20" stroke="#231F20" stroke-width="0.06" text-anchor="end" >DTX1</text>
<text x="60.4" y="123.54" font-size="5.6" fill="#231F20" stroke="#231F20" stroke-width="0.06" text-anchor="end" >FOXO1</text>
<text x="60.4" y="129.26" font-size="5.6" fill="#231F20" stroke="#231F20" stroke-width="0.06" text-anchor="end" >ID3</text>
<text x="60.4" y="134.99" font-size="5.6" fill="#231F20" stroke="#231F20" stroke-width="0.06" text-anchor="end" >FBXO11</text>
<text x="60.4" y="140.71" font-size="5.6" fill="#231F20" stroke="#231F20" stroke-width="0.06" text-anchor="end" >HNRNPU</text>
<text x="60.4" y="146.43" font-size="5.6" fill="#231F20" stroke="#231F20" stroke-width="0.06" text-anchor="end" >IKZF3</text>
<text x="60.4" y="152.16" font-size="5.6" fill="#231F20" stroke="#231F20" stroke-width="0.06" text-anchor="end" >HIST1H3H</text>
<text x="60.4" y="157.88" font-size="5.6" fill="#231F20" stroke="#231F20" stroke-width="0.06" text-anchor="end" >BMP7</text>
<text x="60.4" y="163.61" font-size="5.6" fill="#231F20" stroke="#231F20" stroke-width="0.06" text-anchor="end" >ETS1</text>
<text x="60.4" y="169.33" font-size="5.6" fill="#231F20" stroke="#231F20" stroke-width="0.06" text-anchor="end" >GNA13</text>
<text x="60.4" y="175.05" font-size="5.6" fill="#231F20" stroke="#231F20" stroke-width="0.06" text-anchor="end" >CTCF</text>
<text x="60.4" y="180.78" font-size="5.6" fill="#231F20" stroke="#231F20" stroke-width="0.06" text-anchor="end" >HIST1H1C</text>
<text x="60.4" y="186.5" font-size="5.6" fill="#231F20" stroke="#231F20" stroke-width="0.06" text-anchor="end" >ARID1A</text>
<text x="60.4" y="192.23" font-size="5.6" fill="#231F20" stroke="#231F20" stroke-width="0.06" text-anchor="end" >MCL1</text>
<text x="60.4" y="197.95" font-size="5.6" fill="#231F20" stroke="#231F20" stroke-width="0.06" text-anchor="end" >SNTB2</text>
<text x="60.4" y="203.67" font-size="5.6" fill="#231F20" stroke="#231F20" stroke-width="0.06" text-anchor="end" >TCL1A</text>
<text x="60.4" y="209.4" font-size="5.6" fill="#231F20" stroke="#231F20" stroke-width="0.06" text-anchor="end" >CHD8</text>
<text x="60.4" y="215.12" font-size="5.6" fill="#231F20" stroke="#231F20" stroke-width="0.06" text-anchor="end" >BCR</text>
<text x="60.4" y="220.85" font-size="5.6" fill="#231F20" stroke="#231F20" stroke-width="0.06" text-anchor="end" >CCND3</text>
<text x="60.4" y="226.57" font-size="5.6" fill="#231F20" stroke="#231F20" stroke-width="0.06" text-anchor="end" >MME</text>
<text x="60.4" y="232.29" font-size="5.6" fill="#231F20" stroke="#231F20" stroke-width="0.06" text-anchor="end" >SMARCA4</text>
<text x="60.4" y="238.02" font-size="5.6" fill="#231F20" stroke="#231F20" stroke-width="0.06" text-anchor="end" >PLCG2</text>
<text x="60.4" y="243.74" font-size="5.6" fill="#231F20" stroke="#231F20" stroke-width="0.06" text-anchor="end" >GNAI2</text>
<text x="60.4" y="249.47" font-size="5.6" fill="#231F20" stroke="#231F20" stroke-width="0.06" text-anchor="end" >CREBBP</text>
<text x="60.4" y="255.19" font-size="5.6" fill="#231F20" stroke="#231F20" stroke-width="0.06" text-anchor="end" >TCF3</text>
<text x="60.4" y="260.91" font-size="5.6" fill="#231F20" stroke="#231F20" stroke-width="0.06" text-anchor="end" >TP53</text>
<text x="60.4" y="266.64" font-size="5.6" fill="#231F20" stroke="#231F20" stroke-width="0.06" text-anchor="end" >RNF144B</text>
<text x="60.4" y="272.36" font-size="5.6" fill="#231F20" stroke="#231F20" stroke-width="0.06" text-anchor="end" >TMSB4X</text>
<text x="60.4" y="278.09" font-size="5.6" fill="#231F20" stroke="#231F20" stroke-width="0.06" text-anchor="end" >CXCR4</text>
<text x="60.4" y="283.81" font-size="5.6" fill="#231F20" stroke="#231F20" stroke-width="0.06" text-anchor="end" >ZFP36L1</text>
<text x="60.4" y="289.53" font-size="5.6" fill="#231F20" stroke="#231F20" stroke-width="0.06" text-anchor="end" >HIST1H2AM</text>
<text x="60.4" y="295.26" font-size="5.6" fill="#231F20" stroke="#231F20" stroke-width="0.06" text-anchor="end" >FZD3</text>
<text x="60.4" y="300.98" font-size="5.6" fill="#231F20" stroke="#231F20" stroke-width="0.06" text-anchor="end" >S1PR2</text>
<text x="60.4" y="306.71" font-size="5.6" fill="#231F20" stroke="#231F20" stroke-width="0.06" text-anchor="end" >TFAP4</text>
<text x="60.4" y="312.43" font-size="5.6" fill="#231F20" stroke="#231F20" stroke-width="0.06" text-anchor="end" >PVT1</text>
<text x="60.4" y="318.15" font-size="5.6" fill="#231F20" stroke="#231F20" stroke-width="0.06" text-anchor="end" >HIST1H3J</text>
<text x="60.4" y="323.88" font-size="5.6" fill="#231F20" stroke="#231F20" stroke-width="0.06" text-anchor="end" >EIF4A1</text>
<text x="60.4" y="329.6" font-size="5.6" fill="#231F20" stroke="#231F20" stroke-width="0.06" text-anchor="end" >HIST1H4J</text>
<text x="60.4" y="335.33" font-size="5.6" fill="#231F20" stroke="#231F20" stroke-width="0.06" text-anchor="end" >PIK3R1</text>
<text x="60.4" y="341.05" font-size="5.6" fill="#231F20" stroke="#231F20" stroke-width="0.06" text-anchor="end" >KMT2D</text>
<rect x="63.5" y="348.6" width="313.8" height="10.6" fill="#fff" stroke="#222" stroke-width="1"/>
<path fill="#C9C9D3" d="M63.49 349.5h2.2v8.8h-2.2zM69.71 349.5h2.2v8.8h-2.2zM91.49 349.5h2.2v8.8h-2.2zM159.96 349.5h2.2v8.8h-2.2zM172.41 349.5h2.2v8.8h-2.2zM200.41 349.5h2.2v8.8h-2.2zM206.64 349.5h2.2v8.8h-2.2zM225.31 349.5h2.2v8.8h-2.2zM259.54 349.5h2.2v8.8h-2.2z"/>
<path fill="#E38C17" d="M66.6 349.5h2.2v8.8h-2.2zM72.82 349.5h2.2v8.8h-2.2zM75.93 349.5h2.2v8.8h-2.2zM79.05 349.5h2.2v8.8h-2.2zM82.16 349.5h2.2v8.8h-2.2zM88.38 349.5h2.2v8.8h-2.2zM94.61 349.5h2.2v8.8h-2.2zM97.72 349.5h2.2v8.8h-2.2zM100.83 349.5h2.2v8.8h-2.2zM110.17 349.5h2.2v8.8h-2.2zM116.39 349.5h2.2v8.8h-2.2zM119.5 349.5h2.2v8.8h-2.2zM122.61 349.5h2.2v8.8h-2.2zM131.95 349.5h2.2v8.8h-2.2zM135.06 349.5h2.2v8.8h-2.2zM141.29 349.5h2.2v8.8h-2.2zM144.4 349.5h2.2v8.8h-2.2zM147.51 349.5h2.2v8.8h-2.2zM150.62 349.5h2.2v8.8h-2.2zM153.73 349.5h2.2v8.8h-2.2zM156.85 349.5h2.2v8.8h-2.2zM178.63 349.5h2.2v8.8h-2.2zM181.74 349.5h2.2v8.8h-2.2zM184.85 349.5h2.2v8.8h-2.2zM187.97 349.5h2.2v8.8h-2.2zM191.08 349.5h2.2v8.8h-2.2zM194.19 349.5h2.2v8.8h-2.2zM197.3 349.5h2.2v8.8h-2.2zM203.53 349.5h2.2v8.8h-2.2zM209.75 349.5h2.2v8.8h-2.2zM212.86 349.5h2.2v8.8h-2.2zM215.97 349.5h2.2v8.8h-2.2zM219.09 349.5h2.2v8.8h-2.2zM222.2 349.5h2.2v8.8h-2.2zM228.42 349.5h2.2v8.8h-2.2zM231.53 349.5h2.2v8.8h-2.2zM234.65 349.5h2.2v8.8h-2.2zM240.87 349.5h2.2v8.8h-2.2zM243.98 349.5h2.2v8.8h-2.2zM247.09 349.5h2.2v8.8h-2.2zM250.21 349.5h2.2v8.8h-2.2zM253.32 349.5h2.2v8.8h-2.2zM262.65 349.5h2.2v8.8h-2.2zM265.77 349.5h2.2v8.8h-2.2zM268.88 349.5h2.2v8.8h-2.2zM271.99 349.5h2.2v8.8h-2.2zM275.1 349.5h2.2v8.8h-2.2zM287.55 349.5h2.2v8.8h-2.2zM309.33 349.5h2.2v8.8h-2.2zM346.68 349.5h2.2v8.8h-2.2zM371.57 349.5h2.2v8.8h-2.2zM374.69 349.5h2.2v8.8h-2.2z"/>
<path fill="#C9137F" d="M85.27 349.5h2.2v8.8h-2.2zM103.94 349.5h2.2v8.8h-2.2zM107.05 349.5h2.2v8.8h-2.2zM113.28 349.5h2.2v8.8h-2.2zM125.73 349.5h2.2v8.8h-2.2zM128.84 349.5h2.2v8.8h-2.2zM138.17 349.5h2.2v8.8h-2.2zM163.07 349.5h2.2v8.8h-2.2zM166.18 349.5h2.2v8.8h-2.2zM169.29 349.5h2.2v8.8h-2.2zM175.52 349.5h2.2v8.8h-2.2zM237.76 349.5h2.2v8.8h-2.2zM256.43 349.5h2.2v8.8h-2.2zM278.21 349.5h2.2v8.8h-2.2zM281.33 349.5h2.2v8.8h-2.2zM284.44 349.5h2.2v8.8h-2.2zM290.66 349.5h2.2v8.8h-2.2zM293.77 349.5h2.2v8.8h-2.2zM296.89 349.5h2.2v8.8h-2.2zM300 349.5h2.2v8.8h-2.2zM303.11 349.5h2.2v8.8h-2.2zM306.22 349.5h2.2v8.8h-2.2zM312.45 349.5h2.2v8.8h-2.2zM315.56 349.5h2.2v8.8h-2.2zM318.67 349.5h2.2v8.8h-2.2zM321.78 349.5h2.2v8.8h-2.2zM324.89 349.5h2.2v8.8h-2.2zM328.01 349.5h2.2v8.8h-2.2zM331.12 349.5h2.2v8.8h-2.2zM334.23 349.5h2.2v8.8h-2.2zM337.34 349.5h2.2v8.8h-2.2zM340.45 349.5h2.2v8.8h-2.2zM343.57 349.5h2.2v8.8h-2.2zM349.79 349.5h2.2v8.8h-2.2zM352.9 349.5h2.2v8.8h-2.2zM356.01 349.5h2.2v8.8h-2.2zM359.13 349.5h2.2v8.8h-2.2zM362.24 349.5h2.2v8.8h-2.2zM365.35 349.5h2.2v8.8h-2.2zM368.46 349.5h2.2v8.8h-2.2z"/>
<rect x="63.5" y="363.9" width="313.8" height="10.6" fill="#fff" stroke="#222" stroke-width="1"/>
<path fill="#C9C9D3" d="M63.49 364.8h2.2v8.8h-2.2zM66.6 364.8h2.2v8.8h-2.2zM69.71 364.8h2.2v8.8h-2.2zM72.82 364.8h2.2v8.8h-2.2zM75.93 364.8h2.2v8.8h-2.2zM79.05 364.8h2.2v8.8h-2.2zM82.16 364.8h2.2v8.8h-2.2zM88.38 364.8h2.2v8.8h-2.2zM91.49 364.8h2.2v8.8h-2.2zM94.61 364.8h2.2v8.8h-2.2zM97.72 364.8h2.2v8.8h-2.2zM100.83 364.8h2.2v8.8h-2.2zM110.17 364.8h2.2v8.8h-2.2zM116.39 364.8h2.2v8.8h-2.2zM119.5 364.8h2.2v8.8h-2.2zM122.61 364.8h2.2v8.8h-2.2zM131.95 364.8h2.2v8.8h-2.2zM135.06 364.8h2.2v8.8h-2.2zM141.29 364.8h2.2v8.8h-2.2zM144.4 364.8h2.2v8.8h-2.2zM147.51 364.8h2.2v8.8h-2.2zM150.62 364.8h2.2v8.8h-2.2zM153.73 364.8h2.2v8.8h-2.2zM156.85 364.8h2.2v8.8h-2.2zM159.96 364.8h2.2v8.8h-2.2zM172.41 364.8h2.2v8.8h-2.2zM178.63 364.8h2.2v8.8h-2.2zM181.74 364.8h2.2v8.8h-2.2zM184.85 364.8h2.2v8.8h-2.2zM187.97 364.8h2.2v8.8h-2.2zM191.08 364.8h2.2v8.8h-2.2zM194.19 364.8h2.2v8.8h-2.2zM197.3 364.8h2.2v8.8h-2.2zM200.41 364.8h2.2v8.8h-2.2zM203.53 364.8h2.2v8.8h-2.2zM206.64 364.8h2.2v8.8h-2.2zM209.75 364.8h2.2v8.8h-2.2zM212.86 364.8h2.2v8.8h-2.2zM215.97 364.8h2.2v8.8h-2.2zM219.09 364.8h2.2v8.8h-2.2zM222.2 364.8h2.2v8.8h-2.2zM225.31 364.8h2.2v8.8h-2.2zM228.42 364.8h2.2v8.8h-2.2zM231.53 364.8h2.2v8.8h-2.2zM234.65 364.8h2.2v8.8h-2.2zM240.87 364.8h2.2v8.8h-2.2zM243.98 364.8h2.2v8.8h-2.2zM247.09 364.8h2.2v8.8h-2.2zM250.21 364.8h2.2v8.8h-2.2zM253.32 364.8h2.2v8.8h-2.2zM259.54 364.8h2.2v8.8h-2.2zM262.65 364.8h2.2v8.8h-2.2zM265.77 364.8h2.2v8.8h-2.2zM268.88 364.8h2.2v8.8h-2.2zM271.99 364.8h2.2v8.8h-2.2zM275.1 364.8h2.2v8.8h-2.2zM287.55 364.8h2.2v8.8h-2.2zM296.89 364.8h2.2v8.8h-2.2zM309.33 364.8h2.2v8.8h-2.2zM346.68 364.8h2.2v8.8h-2.2zM356.01 364.8h2.2v8.8h-2.2zM371.57 364.8h2.2v8.8h-2.2zM374.69 364.8h2.2v8.8h-2.2z"/>
<path fill="#F2C21A" d="M85.27 364.8h2.2v8.8h-2.2zM103.94 364.8h2.2v8.8h-2.2zM107.05 364.8h2.2v8.8h-2.2zM113.28 364.8h2.2v8.8h-2.2zM125.73 364.8h2.2v8.8h-2.2zM128.84 364.8h2.2v8.8h-2.2zM138.17 364.8h2.2v8.8h-2.2zM169.29 364.8h2.2v8.8h-2.2zM237.76 364.8h2.2v8.8h-2.2zM256.43 364.8h2.2v8.8h-2.2zM281.33 364.8h2.2v8.8h-2.2zM284.44 364.8h2.2v8.8h-2.2zM290.66 364.8h2.2v8.8h-2.2zM293.77 364.8h2.2v8.8h-2.2zM303.11 364.8h2.2v8.8h-2.2zM306.22 364.8h2.2v8.8h-2.2zM312.45 364.8h2.2v8.8h-2.2zM315.56 364.8h2.2v8.8h-2.2zM324.89 364.8h2.2v8.8h-2.2zM328.01 364.8h2.2v8.8h-2.2zM331.12 364.8h2.2v8.8h-2.2zM337.34 364.8h2.2v8.8h-2.2zM340.45 364.8h2.2v8.8h-2.2zM343.57 364.8h2.2v8.8h-2.2zM349.79 364.8h2.2v8.8h-2.2zM352.9 364.8h2.2v8.8h-2.2zM359.13 364.8h2.2v8.8h-2.2zM368.46 364.8h2.2v8.8h-2.2z"/>
<path fill="#69A93F" d="M163.07 364.8h2.2v8.8h-2.2zM166.18 364.8h2.2v8.8h-2.2zM175.52 364.8h2.2v8.8h-2.2zM278.21 364.8h2.2v8.8h-2.2zM300 364.8h2.2v8.8h-2.2zM318.67 364.8h2.2v8.8h-2.2zM321.78 364.8h2.2v8.8h-2.2zM334.23 364.8h2.2v8.8h-2.2zM362.24 364.8h2.2v8.8h-2.2zM365.35 364.8h2.2v8.8h-2.2z"/>
<text x="15.8" y="356.1" font-size="8.6" fill="#000" stroke="#000" stroke-width="0.3" font-weight="bold" textLength="44.1" lengthAdjust="spacingAndGlyphs" >EBV Status</text>
<text x="7.8" y="371.6" font-size="8.6" fill="#000" stroke="#000" stroke-width="0.3" font-weight="bold" textLength="52.1" lengthAdjust="spacingAndGlyphs" >EBV Subtype</text>
<rect x="387.8" y="350.9" width="4.8" height="4.8" fill="#C9137F"/>
<text x="396.3" y="356.3" font-size="7.4" fill="#231F20" stroke="#231F20" stroke-width="0.12" textLength="19.6" lengthAdjust="spacingAndGlyphs" >EBV+</text>
<rect x="425.7" y="350.9" width="4.8" height="4.8" fill="#E38C17"/>
<text x="434.4" y="356.3" font-size="7.4" fill="#231F20" stroke="#231F20" stroke-width="0.12" textLength="18.6" lengthAdjust="spacingAndGlyphs" >EBV -</text>
<rect x="387.8" y="366.9" width="4.8" height="4.8" fill="#F2C21A"/>
<text x="396.3" y="372.3" font-size="7.4" fill="#231F20" stroke="#231F20" stroke-width="0.12" textLength="20.4" lengthAdjust="spacingAndGlyphs" >Type1</text>
<rect x="427.1" y="366.9" width="4.8" height="4.8" fill="#69A93F"/>
<text x="435.4" y="372.3" font-size="7.4" fill="#231F20" stroke="#231F20" stroke-width="0.12" textLength="20.3" lengthAdjust="spacingAndGlyphs" >Type2</text>
<text x="393" y="14.1" font-size="7.2" fill="#231F20" stroke="#231F20" stroke-width="0.2" text-anchor="middle" textLength="17.6" lengthAdjust="spacingAndGlyphs" >Events</text>
<text x="392.7" y="23.2" font-size="7.2" fill="#231F20" stroke="#231F20" stroke-width="0.2" text-anchor="middle" textLength="8.8" lengthAdjust="spacingAndGlyphs" >per</text>
<text x="392.7" y="32.2" font-size="7.2" fill="#231F20" stroke="#231F20" stroke-width="0.2" text-anchor="middle" textLength="21.8" lengthAdjust="spacingAndGlyphs" >subtype</text>
<text x="427" y="23.2" font-size="7.2" fill="#231F20" stroke="#231F20" stroke-width="0.2" text-anchor="middle" textLength="29.6" lengthAdjust="spacingAndGlyphs" >Number of</text>
<text x="426.3" y="32.2" font-size="7.2" fill="#231F20" stroke="#231F20" stroke-width="0.2" text-anchor="middle" textLength="17.8" lengthAdjust="spacingAndGlyphs" >events</text>
<text x="383.3" y="42.8" font-size="6.8" fill="#231F20" stroke="#231F20" stroke-width="0.12" text-anchor="middle" >0</text>
<text x="392.6" y="42.8" font-size="6.8" fill="#231F20" stroke="#231F20" stroke-width="0.12" text-anchor="middle" textLength="5.7" lengthAdjust="spacingAndGlyphs" >50</text>
<text x="402.5" y="42.8" font-size="6.8" fill="#231F20" stroke="#231F20" stroke-width="0.12" text-anchor="middle" textLength="8.7" lengthAdjust="spacingAndGlyphs" >100</text>
<text x="411.3" y="42.8" font-size="6.8" fill="#231F20" stroke="#231F20" stroke-width="0.12" text-anchor="middle" >0</text>
<text x="424.8" y="42.8" font-size="6.8" fill="#231F20" stroke="#231F20" stroke-width="0.12" text-anchor="middle" textLength="6.1" lengthAdjust="spacingAndGlyphs" >60</text>
<text x="445" y="42.8" font-size="6.8" fill="#231F20" stroke="#231F20" stroke-width="0.12" text-anchor="middle" textLength="8.6" lengthAdjust="spacingAndGlyphs" >120</text>
<g stroke="#111" stroke-width="0.9" fill="none">
<path d="M383.4 48.5H402.6M383.4 48.5V46.2M393 48.5V46.2M402.6 48.5V46.2"/>
<path d="M411.4 48.5H443.5M411.4 48.5V46.2M415.41 48.5V46.2M419.42 48.5V46.2M423.44 48.5V46.2M427.45 48.5V46.2M431.46 48.5V46.2M435.48 48.5V46.2M439.49 48.5V46.2M443.5 48.5V46.2"/>
</g>
<rect x="383.38" y="50.8" width="10" height="4.2" fill="#69A93F"/>
<rect x="393.38" y="50.8" width="1.54" height="4.2" fill="#2E4C8A"/>
<rect x="394.92" y="50.8" width="7.23" height="4.2" fill="#A50A30"/>
<rect x="411.54" y="50.8" width="18" height="4.2" fill="#2E5E42"/>
<rect x="429.54" y="50.8" width="13.85" height="4.2" fill="#E8900F"/>
<rect x="443.38" y="50.8" width="1.08" height="4.2" fill="#4A1D6C"/>
<rect x="383.38" y="56.52" width="10.46" height="4.2" fill="#69A93F"/>
<rect x="393.85" y="56.52" width="1.08" height="4.2" fill="#2E4C8A"/>
<rect x="394.92" y="56.52" width="7.23" height="4.2" fill="#A50A30"/>
<rect x="411.54" y="56.52" width="14.46" height="4.2" fill="#2E5E42"/>
<rect x="426" y="56.52" width="6.62" height="4.2" fill="#E8900F"/>
<rect x="432.62" y="56.52" width="0.77" height="4.2" fill="#4A1D6C"/>
<rect x="433.38" y="56.52" width="6.15" height="4.2" fill="#6DB5EE"/>
<rect x="383.38" y="62.25" width="9.23" height="4.2" fill="#69A93F"/>
<rect x="392.62" y="62.25" width="1.23" height="4.2" fill="#2E4C8A"/>
<rect x="393.85" y="62.25" width="8.31" height="4.2" fill="#A50A30"/>
<rect x="411.54" y="62.25" width="14.92" height="4.2" fill="#2E5E42"/>
<rect x="426.46" y="62.25" width="1.08" height="4.2" fill="#E8900F"/>
<rect x="383.38" y="67.97" width="9.23" height="4.2" fill="#69A93F"/>
<rect x="392.62" y="67.97" width="1.23" height="4.2" fill="#2E4C8A"/>
<rect x="393.85" y="67.97" width="8.31" height="4.2" fill="#A50A30"/>
<rect x="411.54" y="67.97" width="3.38" height="4.2" fill="#2E5E42"/>
<rect x="414.92" y="67.97" width="4.62" height="4.2" fill="#E8900F"/>
<rect x="419.54" y="67.97" width="5.38" height="4.2" fill="#4A1D6C"/>
<rect x="424.92" y="67.97" width="2.31" height="4.2" fill="#6DB5EE"/>
<rect x="383.38" y="73.7" width="14.62" height="4.2" fill="#69A93F"/>
<rect x="398" y="73.7" width="3.08" height="4.2" fill="#2E4C8A"/>
<rect x="401.08" y="73.7" width="1.08" height="4.2" fill="#A50A30"/>
<rect x="411.54" y="73.7" width="9.54" height="4.2" fill="#2E5E42"/>
<rect x="421.08" y="73.7" width="3.54" height="4.2" fill="#E8900F"/>
<rect x="383.38" y="79.42" width="10" height="4.2" fill="#69A93F"/>
<rect x="393.38" y="79.42" width="1.23" height="4.2" fill="#2E4C8A"/>
<rect x="394.62" y="79.42" width="7.54" height="4.2" fill="#A50A30"/>
<rect x="411.54" y="79.42" width="6.77" height="4.2" fill="#E8900F"/>
<rect x="418.31" y="79.42" width="3.54" height="4.2" fill="#4A1D6C"/>
<rect x="421.85" y="79.42" width="2" height="4.2" fill="#6DB5EE"/>
<rect x="383.38" y="85.14" width="8.77" height="4.2" fill="#69A93F"/>
<rect x="392.15" y="85.14" width="10" height="4.2" fill="#A50A30"/>
<rect x="411.54" y="85.14" width="9.23" height="4.2" fill="#2E5E42"/>
<rect x="420.77" y="85.14" width="2.15" height="4.2" fill="#E8900F"/>
<rect x="383.38" y="90.87" width="11.85" height="4.2" fill="#69A93F"/>
<rect x="395.23" y="90.87" width="2.46" height="4.2" fill="#2E4C8A"/>
<rect x="397.69" y="90.87" width="4.46" height="4.2" fill="#A50A30"/>
<rect x="411.54" y="90.87" width="0.46" height="4.2" fill="#2E5E42"/>
<rect x="412" y="90.87" width="9.08" height="4.2" fill="#E8900F"/>
<rect x="421.08" y="90.87" width="1.08" height="4.2" fill="#6DB5EE"/>
<rect x="383.38" y="96.59" width="7.69" height="4.2" fill="#69A93F"/>
<rect x="391.08" y="96.59" width="1.54" height="4.2" fill="#2E4C8A"/>
<rect x="392.62" y="96.59" width="9.54" height="4.2" fill="#A50A30"/>
<rect x="411.54" y="96.59" width="9.23" height="4.2" fill="#2E5E42"/>
<rect x="420.77" y="96.59" width="1.85" height="4.2" fill="#E8900F"/>
<rect x="383.38" y="102.32" width="10" height="4.2" fill="#69A93F"/>
<rect x="393.38" y="102.32" width="8.77" height="4.2" fill="#A50A30"/>
<rect x="411.54" y="102.32" width="8" height="4.2" fill="#2E5E42"/>
<rect x="419.54" y="102.32" width="3.38" height="4.2" fill="#E8900F"/>
<rect x="383.38" y="108.04" width="12.77" height="4.2" fill="#69A93F"/>
<rect x="396.15" y="108.04" width="1.85" height="4.2" fill="#2E4C8A"/>
<rect x="398" y="108.04" width="4.15" height="4.2" fill="#A50A30"/>
<rect x="411.54" y="108.04" width="7.23" height="4.2" fill="#2E5E42"/>
<rect x="418.77" y="108.04" width="1.54" height="4.2" fill="#E8900F"/>
<rect x="420.31" y="108.04" width="1.54" height="4.2" fill="#4A1D6C"/>
<rect x="383.38" y="113.76" width="10" height="4.2" fill="#69A93F"/>
<rect x="393.38" y="113.76" width="2.77" height="4.2" fill="#2E4C8A"/>
<rect x="396.15" y="113.76" width="6" height="4.2" fill="#A50A30"/>
<rect x="411.54" y="113.76" width="5.69" height="4.2" fill="#2E5E42"/>
<rect x="417.23" y="113.76" width="3.08" height="4.2" fill="#E8900F"/>
<rect x="420.31" y="113.76" width="1.54" height="4.2" fill="#4A1D6C"/>
<rect x="421.85" y="113.76" width="0.77" height="4.2" fill="#F3C912"/>
<rect x="383.38" y="119.49" width="9.38" height="4.2" fill="#69A93F"/>
<rect x="392.77" y="119.49" width="1.85" height="4.2" fill="#2E4C8A"/>
<rect x="394.62" y="119.49" width="7.54" height="4.2" fill="#A50A30"/>
<rect x="411.54" y="119.49" width="3.69" height="4.2" fill="#2E5E42"/>
<rect x="415.23" y="119.49" width="5.54" height="4.2" fill="#E8900F"/>
<rect x="383.38" y="125.21" width="11.23" height="4.2" fill="#69A93F"/>
<rect x="394.62" y="125.21" width="1.23" height="4.2" fill="#2E4C8A"/>
<rect x="395.85" y="125.21" width="6.31" height="4.2" fill="#A50A30"/>
<rect x="411.54" y="125.21" width="1.54" height="4.2" fill="#2E5E42"/>
<rect x="413.08" y="125.21" width="5.23" height="4.2" fill="#E8900F"/>
<rect x="418.31" y="125.21" width="5.54" height="4.2" fill="#4A1D6C"/>
<rect x="383.38" y="130.94" width="12.77" height="4.2" fill="#69A93F"/>
<rect x="396.15" y="130.94" width="2.92" height="4.2" fill="#2E4C8A"/>
<rect x="399.08" y="130.94" width="3.08" height="4.2" fill="#A50A30"/>
<rect x="411.54" y="130.94" width="6.77" height="4.2" fill="#2E5E42"/>
<rect x="418.31" y="130.94" width="2" height="4.2" fill="#E8900F"/>
<rect x="383.38" y="136.66" width="13.38" height="4.2" fill="#69A93F"/>
<rect x="396.77" y="136.66" width="2.31" height="4.2" fill="#2E4C8A"/>
<rect x="399.08" y="136.66" width="3.08" height="4.2" fill="#A50A30"/>
<rect x="411.54" y="136.66" width="5.69" height="4.2" fill="#2E5E42"/>
<rect x="417.23" y="136.66" width="1.08" height="4.2" fill="#E8900F"/>
<rect x="418.31" y="136.66" width="3.08" height="4.2" fill="#4A1D6C"/>
<rect x="383.38" y="142.38" width="11.85" height="4.2" fill="#69A93F"/>
<rect x="395.23" y="142.38" width="1.69" height="4.2" fill="#2E4C8A"/>
<rect x="396.92" y="142.38" width="5.23" height="4.2" fill="#A50A30"/>
<rect x="411.54" y="142.38" width="7.23" height="4.2" fill="#2E5E42"/>
<rect x="418.77" y="142.38" width="1.08" height="4.2" fill="#E8900F"/>
<rect x="383.38" y="148.11" width="9.69" height="4.2" fill="#69A93F"/>
<rect x="393.08" y="148.11" width="3.08" height="4.2" fill="#2E4C8A"/>
<rect x="396.15" y="148.11" width="6" height="4.2" fill="#A50A30"/>
<rect x="411.54" y="148.11" width="0.31" height="4.2" fill="#2E5E42"/>
<rect x="411.85" y="148.11" width="4.92" height="4.2" fill="#E8900F"/>
<rect x="416.77" y="148.11" width="3.54" height="4.2" fill="#4A1D6C"/>
<rect x="420.31" y="148.11" width="1.85" height="4.2" fill="#6DB5EE"/>
<rect x="383.38" y="153.83" width="10" height="4.2" fill="#69A93F"/>
<rect x="393.38" y="153.83" width="2" height="4.2" fill="#2E4C8A"/>
<rect x="395.38" y="153.83" width="6.77" height="4.2" fill="#A50A30"/>
<rect x="411.54" y="153.83" width="6.46" height="4.2" fill="#2E5E42"/>
<rect x="418" y="153.83" width="2.77" height="4.2" fill="#E8900F"/>
<rect x="383.38" y="159.56" width="9.54" height="4.2" fill="#69A93F"/>
<rect x="392.92" y="159.56" width="0.92" height="4.2" fill="#2E4C8A"/>
<rect x="393.85" y="159.56" width="8.31" height="4.2" fill="#A50A30"/>
<rect x="411.54" y="159.56" width="4.15" height="4.2" fill="#2E5E42"/>
<rect x="415.69" y="159.56" width="2.62" height="4.2" fill="#E8900F"/>
<rect x="418.31" y="159.56" width="1.54" height="4.2" fill="#4A1D6C"/>
<rect x="383.38" y="165.28" width="11.23" height="4.2" fill="#69A93F"/>
<rect x="394.62" y="165.28" width="1.54" height="4.2" fill="#2E4C8A"/>
<rect x="396.15" y="165.28" width="6" height="4.2" fill="#A50A30"/>
<rect x="411.54" y="165.28" width="1.38" height="4.2" fill="#2E5E42"/>
<rect x="412.92" y="165.28" width="3.08" height="4.2" fill="#E8900F"/>
<rect x="416" y="165.28" width="3.85" height="4.2" fill="#4A1D6C"/>
<rect x="383.38" y="171" width="12.77" height="4.2" fill="#69A93F"/>
<rect x="396.15" y="171" width="3.38" height="4.2" fill="#2E4C8A"/>
<rect x="399.54" y="171" width="2.62" height="4.2" fill="#A50A30"/>
<rect x="411.54" y="171" width="5.69" height="4.2" fill="#2E5E42"/>
<rect x="417.23" y="171" width="1.54" height="4.2" fill="#E8900F"/>
<rect x="383.38" y="176.73" width="11.54" height="4.2" fill="#69A93F"/>
<rect x="394.92" y="176.73" width="2.31" height="4.2" fill="#2E4C8A"/>
<rect x="397.23" y="176.73" width="4.92" height="4.2" fill="#A50A30"/>
<rect x="411.54" y="176.73" width="4.31" height="4.2" fill="#E8900F"/>
<rect x="415.85" y="176.73" width="2.92" height="4.2" fill="#6DB5EE"/>
<rect x="383.38" y="182.45" width="8.77" height="4.2" fill="#69A93F"/>
<rect x="392.15" y="182.45" width="10" height="4.2" fill="#A50A30"/>
<rect x="411.54" y="182.45" width="1.54" height="4.2" fill="#2E5E42"/>
<rect x="413.08" y="182.45" width="2.15" height="4.2" fill="#E8900F"/>
<rect x="415.23" y="182.45" width="4" height="4.2" fill="#4A1D6C"/>
<rect x="383.38" y="188.18" width="12.77" height="4.2" fill="#69A93F"/>
<rect x="396.15" y="188.18" width="2.92" height="4.2" fill="#2E4C8A"/>
<rect x="399.08" y="188.18" width="3.08" height="4.2" fill="#A50A30"/>
<rect x="411.54" y="188.18" width="5.69" height="4.2" fill="#2E5E42"/>
<rect x="417.23" y="188.18" width="1.69" height="4.2" fill="#F3C912"/>
<rect x="383.38" y="193.9" width="13.85" height="4.2" fill="#69A93F"/>
<rect x="397.23" y="193.9" width="4.15" height="4.2" fill="#2E4C8A"/>
<rect x="401.38" y="193.9" width="0.77" height="4.2" fill="#A50A30"/>
<rect x="411.54" y="193.9" width="6.46" height="4.2" fill="#2E5E42"/>
<rect x="383.38" y="199.62" width="9.69" height="4.2" fill="#69A93F"/>
<rect x="393.08" y="199.62" width="1.54" height="4.2" fill="#2E4C8A"/>
<rect x="394.62" y="199.62" width="7.54" height="4.2" fill="#A50A30"/>
<rect x="411.54" y="199.62" width="5.69" height="4.2" fill="#2E5E42"/>
<rect x="417.23" y="199.62" width="1.08" height="4.2" fill="#E8900F"/>
<rect x="383.38" y="205.35" width="14.62" height="4.2" fill="#69A93F"/>
<rect x="398" y="205.35" width="3.08" height="4.2" fill="#2E4C8A"/>
<rect x="401.08" y="205.35" width="1.08" height="4.2" fill="#A50A30"/>
<rect x="411.54" y="205.35" width="4.92" height="4.2" fill="#2E5E42"/>
<rect x="416.46" y="205.35" width="2" height="4.2" fill="#E8900F"/>
<rect x="383.38" y="211.07" width="11.54" height="4.2" fill="#69A93F"/>
<rect x="394.92" y="211.07" width="3.08" height="4.2" fill="#2E4C8A"/>
<rect x="398" y="211.07" width="4.15" height="4.2" fill="#A50A30"/>
<rect x="411.54" y="211.07" width="4.92" height="4.2" fill="#2E5E42"/>
<rect x="416.46" y="211.07" width="1.85" height="4.2" fill="#E8900F"/>
<rect x="418.31" y="211.07" width="0.46" height="4.2" fill="#4A1D6C"/>
<rect x="383.38" y="216.8" width="11.54" height="4.2" fill="#69A93F"/>
<rect x="394.92" y="216.8" width="1.08" height="4.2" fill="#2E4C8A"/>
<rect x="396" y="216.8" width="6.15" height="4.2" fill="#A50A30"/>
<rect x="411.54" y="216.8" width="1.85" height="4.2" fill="#2E5E42"/>
<rect x="413.38" y="216.8" width="2" height="4.2" fill="#E8900F"/>
<rect x="415.38" y="216.8" width="2.31" height="4.2" fill="#4A1D6C"/>
<rect x="383.38" y="222.52" width="14.15" height="4.2" fill="#69A93F"/>
<rect x="397.54" y="222.52" width="3.54" height="4.2" fill="#2E4C8A"/>
<rect x="401.08" y="222.52" width="1.08" height="4.2" fill="#A50A30"/>
<rect x="411.54" y="222.52" width="5.69" height="4.2" fill="#2E5E42"/>
<rect x="417.23" y="222.52" width="0.46" height="4.2" fill="#E8900F"/>
<rect x="383.38" y="228.24" width="14.92" height="4.2" fill="#69A93F"/>
<rect x="398.31" y="228.24" width="0.92" height="4.2" fill="#2E4C8A"/>
<rect x="399.23" y="228.24" width="2.92" height="4.2" fill="#A50A30"/>
<rect x="411.54" y="228.24" width="1.54" height="4.2" fill="#2E5E42"/>
<rect x="413.08" y="228.24" width="4.15" height="4.2" fill="#E8900F"/>
<rect x="417.23" y="228.24" width="0.46" height="4.2" fill="#4A1D6C"/>
<rect x="383.38" y="233.97" width="11.85" height="4.2" fill="#69A93F"/>
<rect x="395.23" y="233.97" width="3.85" height="4.2" fill="#2E4C8A"/>
<rect x="399.08" y="233.97" width="3.08" height="4.2" fill="#A50A30"/>
<rect x="411.54" y="233.97" width="4.92" height="4.2" fill="#2E5E42"/>
<rect x="416.46" y="233.97" width="0.46" height="4.2" fill="#E8900F"/>
<rect x="383.38" y="239.69" width="11.54" height="4.2" fill="#69A93F"/>
<rect x="394.92" y="239.69" width="1.85" height="4.2" fill="#2E4C8A"/>
<rect x="396.77" y="239.69" width="5.38" height="4.2" fill="#A50A30"/>
<rect x="411.54" y="239.69" width="4.62" height="4.2" fill="#E8900F"/>
<rect x="416.15" y="239.69" width="0.77" height="4.2" fill="#4A1D6C"/>
<rect x="383.38" y="245.42" width="10.77" height="4.2" fill="#69A93F"/>
<rect x="394.15" y="245.42" width="1.85" height="4.2" fill="#2E4C8A"/>
<rect x="396" y="245.42" width="6.15" height="4.2" fill="#A50A30"/>
<rect x="411.54" y="245.42" width="3.38" height="4.2" fill="#2E5E42"/>
<rect x="414.92" y="245.42" width="1.85" height="4.2" fill="#E8900F"/>
<rect x="416.77" y="245.42" width="0.92" height="4.2" fill="#4A1D6C"/>
<rect x="383.38" y="251.14" width="11.54" height="4.2" fill="#69A93F"/>
<rect x="394.92" y="251.14" width="1.08" height="4.2" fill="#2E4C8A"/>
<rect x="396" y="251.14" width="6.15" height="4.2" fill="#A50A30"/>
<rect x="411.54" y="251.14" width="3.38" height="4.2" fill="#2E5E42"/>
<rect x="414.92" y="251.14" width="3.38" height="4.2" fill="#E8900F"/>
<rect x="383.38" y="256.86" width="12.77" height="4.2" fill="#69A93F"/>
<rect x="396.15" y="256.86" width="2.62" height="4.2" fill="#2E4C8A"/>
<rect x="398.77" y="256.86" width="3.38" height="4.2" fill="#A50A30"/>
<rect x="411.54" y="256.86" width="3.08" height="4.2" fill="#2E5E42"/>
<rect x="414.62" y="256.86" width="1.54" height="4.2" fill="#E8900F"/>
<rect x="383.38" y="262.59" width="9.54" height="4.2" fill="#69A93F"/>
<rect x="392.92" y="262.59" width="2" height="4.2" fill="#2E4C8A"/>
<rect x="394.92" y="262.59" width="7.23" height="4.2" fill="#A50A30"/>
<rect x="411.54" y="262.59" width="4.15" height="4.2" fill="#2E5E42"/>
<rect x="383.38" y="268.31" width="10" height="4.2" fill="#69A93F"/>
<rect x="393.38" y="268.31" width="1.23" height="4.2" fill="#2E4C8A"/>
<rect x="394.62" y="268.31" width="7.54" height="4.2" fill="#A50A30"/>
<rect x="411.54" y="268.31" width="3.85" height="4.2" fill="#2E5E42"/>
<rect x="415.38" y="268.31" width="0.77" height="4.2" fill="#6DB5EE"/>
<rect x="383.38" y="274.04" width="11.23" height="4.2" fill="#69A93F"/>
<rect x="394.62" y="274.04" width="0.62" height="4.2" fill="#2E4C8A"/>
<rect x="395.23" y="274.04" width="6.92" height="4.2" fill="#A50A30"/>
<rect x="411.54" y="274.04" width="1.23" height="4.2" fill="#2E5E42"/>
<rect x="412.77" y="274.04" width="0.62" height="4.2" fill="#E8900F"/>
<rect x="413.38" y="274.04" width="1.23" height="4.2" fill="#4A1D6C"/>
<rect x="414.62" y="274.04" width="0.92" height="4.2" fill="#F3C912"/>
<rect x="383.38" y="279.76" width="11.08" height="4.2" fill="#69A93F"/>
<rect x="394.46" y="279.76" width="7.69" height="4.2" fill="#A50A30"/>
<rect x="411.54" y="279.76" width="3.38" height="4.2" fill="#2E5E42"/>
<rect x="414.92" y="279.76" width="0.62" height="4.2" fill="#E8900F"/>
<rect x="383.38" y="285.48" width="11.85" height="4.2" fill="#69A93F"/>
<rect x="395.23" y="285.48" width="2.77" height="4.2" fill="#2E4C8A"/>
<rect x="398" y="285.48" width="4.15" height="4.2" fill="#A50A30"/>
<rect x="411.54" y="285.48" width="3.38" height="4.2" fill="#2E5E42"/>
<rect x="414.92" y="285.48" width="0.62" height="4.2" fill="#6DB5EE"/>
<rect x="383.38" y="291.21" width="12.77" height="4.2" fill="#69A93F"/>
<rect x="396.15" y="291.21" width="4.15" height="4.2" fill="#2E4C8A"/>
<rect x="400.31" y="291.21" width="1.85" height="4.2" fill="#A50A30"/>
<rect x="411.54" y="291.21" width="3.69" height="4.2" fill="#2E5E42"/>
<rect x="383.38" y="296.93" width="8.46" height="4.2" fill="#69A93F"/>
<rect x="391.85" y="296.93" width="2" height="4.2" fill="#2E4C8A"/>
<rect x="393.85" y="296.93" width="8.31" height="4.2" fill="#A50A30"/>
<rect x="411.54" y="296.93" width="3.69" height="4.2" fill="#2E5E42"/>
<rect x="383.38" y="302.66" width="6.92" height="4.2" fill="#69A93F"/>
<rect x="390.31" y="302.66" width="3.54" height="4.2" fill="#2E4C8A"/>
<rect x="393.85" y="302.66" width="8.31" height="4.2" fill="#A50A30"/>
<rect x="411.54" y="302.66" width="0.62" height="4.2" fill="#2E5E42"/>
<rect x="412.15" y="302.66" width="2" height="4.2" fill="#E8900F"/>
<rect x="414.15" y="302.66" width="0.77" height="4.2" fill="#4A1D6C"/>
<rect x="383.38" y="308.38" width="3.54" height="4.2" fill="#69A93F"/>
<rect x="386.92" y="308.38" width="1.08" height="4.2" fill="#2E4C8A"/>
<rect x="388" y="308.38" width="14.15" height="4.2" fill="#A50A30"/>
<rect x="411.54" y="308.38" width="3.38" height="4.2" fill="#2E5E42"/>
<rect x="383.38" y="314.1" width="8.46" height="4.2" fill="#69A93F"/>
<rect x="391.85" y="314.1" width="3.08" height="4.2" fill="#2E4C8A"/>
<rect x="394.92" y="314.1" width="7.23" height="4.2" fill="#A50A30"/>
<rect x="411.54" y="314.1" width="2.62" height="4.2" fill="#E8900F"/>
<rect x="414.15" y="314.1" width="0.46" height="4.2" fill="#6DB5EE"/>
<rect x="383.38" y="319.83" width="9.54" height="4.2" fill="#69A93F"/>
<rect x="392.92" y="319.83" width="0.77" height="4.2" fill="#2E4C8A"/>
<rect x="393.69" y="319.83" width="8.46" height="4.2" fill="#A50A30"/>
<rect x="411.54" y="319.83" width="2.62" height="4.2" fill="#E8900F"/>
<rect x="414.15" y="319.83" width="0.77" height="4.2" fill="#6DB5EE"/>
<rect x="383.38" y="325.55" width="13.38" height="4.2" fill="#69A93F"/>
<rect x="396.77" y="325.55" width="4.31" height="4.2" fill="#2E4C8A"/>
<rect x="401.08" y="325.55" width="1.08" height="4.2" fill="#A50A30"/>
<rect x="411.54" y="325.55" width="1.54" height="4.2" fill="#F3C912"/>
<rect x="413.08" y="325.55" width="1.85" height="4.2" fill="#6DB5EE"/>
<rect x="383.38" y="331.28" width="10" height="4.2" fill="#69A93F"/>
<rect x="393.38" y="331.28" width="5.08" height="4.2" fill="#2E4C8A"/>
<rect x="398.46" y="331.28" width="3.69" height="4.2" fill="#A50A30"/>
<rect x="411.54" y="331.28" width="2.92" height="4.2" fill="#2E5E42"/>
<rect x="383.38" y="337" width="14.92" height="4.2" fill="#69A93F"/>
<rect x="398.31" y="337" width="2.77" height="4.2" fill="#2E4C8A"/>
<rect x="401.08" y="337" width="1.08" height="4.2" fill="#A50A30"/>
<rect x="411.54" y="337" width="0.62" height="4.2" fill="#2E5E42"/>
<rect x="412.15" y="337" width="1.23" height="4.2" fill="#E8900F"/>
<rect x="413.38" y="337" width="2" height="4.2" fill="#4A1D6C"/>
<text x="423.8" y="295.4" font-size="8.4" fill="#231F20" stroke="#231F20" stroke-width="0.12" textLength="68.2" lengthAdjust="spacingAndGlyphs" >Genetic Alterations</text>
<rect x="423.6" y="300.1" width="5.6" height="5.6" fill="#E8900F"/>
<text x="433" y="305.9" font-size="8.4" fill="#231F20" stroke="#231F20" stroke-width="0.12" textLength="69.7" lengthAdjust="spacingAndGlyphs" >Missense mutations</text>
<rect x="423.6" y="308.62" width="5.6" height="5.6" fill="#4A1D6C"/>
<text x="433" y="314.42" font-size="8.4" fill="#231F20" stroke="#231F20" stroke-width="0.12" textLength="74.5" lengthAdjust="spacingAndGlyphs" >Truncating mutations</text>
<rect x="423.6" y="317.14" width="5.6" height="5.6" fill="#6DB5EE"/>
<text x="433" y="322.94" font-size="8.4" fill="#231F20" stroke="#231F20" stroke-width="0.12" textLength="33.5" lengthAdjust="spacingAndGlyphs" >Deletions</text>
<rect x="423.6" y="325.66" width="5.6" height="5.6" fill="#F3C912"/>
<text x="433" y="331.46" font-size="8.4" fill="#231F20" stroke="#231F20" stroke-width="0.12" textLength="50.5" lengthAdjust="spacingAndGlyphs" >Amplifications</text>
<rect x="423.6" y="334.18" width="5.6" height="5.6" fill="#2E5E42"/>
<text x="433" y="339.98" font-size="8.4" fill="#231F20" stroke="#231F20" stroke-width="0.12" textLength="79" lengthAdjust="spacingAndGlyphs" >Non coding mutations</text>
<text x="7.5" y="400.6" font-size="11" fill="#000" stroke="#000" stroke-width="0.55" font-weight="bold" >B</text>
<text x="71" y="399.4" font-size="9.3" fill="#231F20" stroke="#231F20" stroke-width="0.12" text-anchor="middle" textLength="61.9" lengthAdjust="spacingAndGlyphs" >EBV subtypes</text>
<text x="71" y="409" font-size="9.3" fill="#231F20" stroke="#231F20" stroke-width="0.12" text-anchor="middle" textLength="77.3" lengthAdjust="spacingAndGlyphs" >vs. mutation load</text>
<g stroke="#111" stroke-width="1.1" fill="none"><path d="M42.4 415.3V517H100"/>
<path d="M39.6 447.3H42.4M39.6 480.5H42.4M39.6 513.7H42.4M53.1 517V520.4M70.8 517V520.4M88.2 517V520.4"/></g>
<text x="35.6" y="449.6" font-size="8.2" fill="#231F20" stroke="#231F20" stroke-width="0.12" text-anchor="end" textLength="13.2" lengthAdjust="spacingAndGlyphs" >100</text>
<text x="35.6" y="482.9" font-size="8.2" fill="#231F20" stroke="#231F20" stroke-width="0.12" text-anchor="end" textLength="8.8" lengthAdjust="spacingAndGlyphs" >50</text>
<text x="35.6" y="516.3" font-size="8.2" fill="#231F20" stroke="#231F20" stroke-width="0.12" text-anchor="end" >0</text>
<text x="44.7" y="423.9" font-size="8.3" fill="#231F20" stroke="#231F20" stroke-width="0.12" textLength="34" lengthAdjust="spacingAndGlyphs" >P=0.0002</text>
<path d="M54.1 456.9V512.7" stroke="#3a3a3a" stroke-width="1.1"/>
<rect x="47.05" y="480.8" width="14.1" height="23" fill="#E38C17"/>
<path d="M47.05 491.5H61.15" stroke="#1a1a1a" stroke-width="1.4"/>
<path d="M70.8 448.7V505" stroke="#3a3a3a" stroke-width="1.1"/>
<rect x="64.05" y="475.2" width="13.5" height="19" fill="#69A93F"/>
<path d="M64.05 483.8H77.55" stroke="#1a1a1a" stroke-width="1.4"/>
<path d="M87.5 419.6V508.8" stroke="#3a3a3a" stroke-width="1.1"/>
<rect x="80.8" y="453.8" width="13.4" height="30.8" fill="#F2C21A"/>
<path d="M80.8 468.8H94.2" stroke="#1a1a1a" stroke-width="1.4"/>
<circle cx="54.1" cy="438.6" r="0.4" fill="#bbb"/><circle cx="54.1" cy="444.7" r="0.4" fill="#bbb"/>
<text transform="translate(16.3 465.5) rotate(-90)" text-anchor="middle" font-size="10.2" fill="#231F20" stroke="#231F20" stroke-width="0.25" textLength="88" lengthAdjust="spacingAndGlyphs">Somatic mutations count</text>
<text transform="translate(56 528.3) rotate(-45)" text-anchor="end" font-size="7.9" fill="#231F20" stroke="#231F20" stroke-width="0.22" textLength="16.5" lengthAdjust="spacingAndGlyphs">EBV-</text>
<text transform="translate(74.4 529.8) rotate(-45)" text-anchor="end" font-size="7.9" fill="#231F20" stroke="#231F20" stroke-width="0.22" textLength="22.8" lengthAdjust="spacingAndGlyphs">Type2</text>
<text transform="translate(92.1 529.8) rotate(-45)" text-anchor="end" font-size="7.9" fill="#231F20" stroke="#231F20" stroke-width="0.22" textLength="22.8" lengthAdjust="spacingAndGlyphs">Type1</text>
<text x="70.3" y="558" font-size="9.8" fill="#231F20" stroke="#231F20" stroke-width="0.12" text-anchor="middle" textLength="46.9" lengthAdjust="spacingAndGlyphs" >EBV subtypes</text>
<text x="126.4" y="401.1" font-size="11" fill="#000" stroke="#000" stroke-width="0.55" font-weight="bold" >C</text>
<text x="200.2" y="399.4" font-size="9.3" fill="#231F20" stroke="#231F20" stroke-width="0.12" text-anchor="middle" textLength="61.6" lengthAdjust="spacingAndGlyphs" >EBV subtypes</text>
<text x="200.3" y="409" font-size="9.3" fill="#231F20" stroke="#231F20" stroke-width="0.12" text-anchor="middle" textLength="66.9" lengthAdjust="spacingAndGlyphs" >vs. AID activity</text>
<g style="isolation:isolate">
<path d="M155.7 514.5L155.7 482.78C156.17 481.7 157.57 477.75 158.51 476.31C159.45 474.87 160.4 474.67 161.32 474.15C162.24 473.64 163.26 473.79 164.04 473.23C164.82 472.66 165.3 472.2 166.01 470.76C166.71 469.33 167.41 467.22 168.26 464.6C169.1 461.99 170.19 457.67 171.07 455.06C171.94 452.44 172.71 451.51 173.5 448.9C174.3 446.28 175.03 442.53 175.85 439.35C176.66 436.17 177.52 432.42 178.38 429.8C179.23 427.18 180.12 424.97 181 423.64C181.87 422.31 182.84 421.69 183.62 421.79C184.4 421.89 185.12 422.92 185.68 424.26C186.25 425.59 186.42 427.28 187 429.8C187.57 432.32 188.32 435.91 189.15 439.35C189.98 442.79 190.88 446.48 191.96 450.44C193.04 454.39 194.38 458.91 195.62 463.06C196.85 467.22 198.01 472.3 199.36 475.38C200.72 478.46 202.33 479.85 203.77 481.54C205.2 483.24 206.63 483.44 207.98 485.55C209.34 487.65 210.64 491.04 211.92 494.17C213.2 497.3 214.11 501.41 215.67 504.34C217.23 507.26 219.57 510.14 221.29 511.73C223.01 513.32 224.41 513.42 225.97 513.88C227.54 514.35 229.16 514.5 230.66 514.5C232.16 514.5 233.41 514.29 234.97 513.88C236.53 513.47 238.45 512.7 240.03 512.04C241.61 511.37 243.7 510.24 244.43 509.88L244.43 514.5Z" fill="#F2C990" stroke="#2e2e1c" stroke-width="0.75" style="mix-blend-mode:multiply"/>
<path d="M155.7 514.5L155.7 514.5C156.17 513.73 157.57 512.09 158.51 509.88C159.45 507.67 160.38 504.39 161.32 501.26C162.26 498.12 163.09 495.35 164.13 491.09C165.18 486.83 166.44 481.08 167.6 475.69C168.76 470.3 170.02 462.86 171.07 458.75C172.11 454.65 172.69 452.95 173.88 451.05C175.06 449.15 177 447.66 178.19 447.36C179.37 447.05 180.06 448.49 181 449.2C181.94 449.92 182.87 451.36 183.81 451.67C184.75 451.98 185.53 451.87 186.62 451.05C187.71 450.23 189.28 448.59 190.37 446.74C191.46 444.89 192.24 443.04 193.18 439.96C194.12 436.88 195.15 431.49 195.99 428.26C196.83 425.03 197.54 421.33 198.24 420.56C198.94 419.79 199.49 421.59 200.21 423.64C200.93 425.69 201.85 429.8 202.55 432.88C203.25 435.96 203.71 439.19 204.42 442.12C205.14 445.05 206.03 446.95 206.86 450.44C207.69 453.93 208.55 458.91 209.39 463.06C210.23 467.22 211.15 471.23 211.92 475.38C212.69 479.54 213.09 483.8 213.98 488.01C214.87 492.22 215.84 496.89 217.26 500.64C218.68 504.39 220.18 508.19 222.51 510.5C224.83 512.81 227.57 513.83 231.22 514.5C234.88 515.17 242.23 514.5 244.43 514.5L244.43 514.5Z" fill="#F9DF94" stroke="#2e2e1c" stroke-width="0.75" style="mix-blend-mode:multiply"/>
<path d="M155.7 514.5L155.7 504.03C156.4 502.33 158.51 497.87 159.92 493.86C161.32 489.86 162.85 484.68 164.13 480C165.41 475.33 166.44 470.1 167.6 465.84C168.76 461.58 169.93 457.21 171.07 454.44C172.21 451.67 173.25 450.33 174.44 449.2C175.63 448.07 177.09 448.02 178.19 447.66C179.28 447.3 180.06 447.36 181 447.05C181.94 446.74 182.87 446.48 183.81 445.82C184.75 445.15 185.73 444.12 186.62 443.04C187.51 441.97 188.37 440.68 189.15 439.35C189.93 438.01 190.63 436.17 191.31 435.04C191.98 433.91 192.56 432.67 193.18 432.57C193.8 432.47 194.27 433.09 195.05 434.42C195.83 435.75 196.83 437.91 197.86 440.58C198.9 443.25 200.25 446.69 201.24 450.44C202.22 454.18 202.72 458.91 203.77 463.06C204.81 467.22 206.16 471.23 207.52 475.38C208.87 479.54 210.47 483.8 211.92 488.01C213.37 492.22 214.67 496.89 216.23 500.64C217.79 504.39 219.42 508.19 221.29 510.5C223.16 512.81 225.13 513.83 227.47 514.5C229.82 515.17 232.52 514.5 235.34 514.5C238.17 514.5 242.92 514.5 244.43 514.5L244.43 514.5Z" fill="#B5D69C" stroke="#2e2e1c" stroke-width="0.75" style="mix-blend-mode:multiply"/>
</g>
<g stroke="#111" stroke-width="1.1" fill="none"><path d="M151.5 415.8V519.3H248.5"/>
<path d="M148.5 514.5H151.5M148.5 483.7H151.5M148.5 452.9H151.5M148.5 422.1H151.5M155.7 519.3V521.8M174.44 519.3V521.8M193.18 519.3V521.8M211.92 519.3V521.8M230.66 519.3V521.8"/></g>
<text x="145.2" y="517.4" font-size="8.2" fill="#231F20" stroke="#231F20" stroke-width="0.12" text-anchor="end" >0</text>
<text x="145.2" y="486.6" font-size="8.2" fill="#231F20" stroke="#231F20" stroke-width="0.12" text-anchor="end" >1</text>
<text x="145.2" y="455.8" font-size="8.2" fill="#231F20" stroke="#231F20" stroke-width="0.12" text-anchor="end" >2</text>
<text x="145.2" y="425" font-size="8.2" fill="#231F20" stroke="#231F20" stroke-width="0.12" text-anchor="end" >3</text>
<text x="155.7" y="532.3" font-size="8.0" fill="#231F20" stroke="#231F20" stroke-width="0.12" text-anchor="middle" textLength="11.5" lengthAdjust="spacingAndGlyphs" >0.0</text>
<text x="174.44" y="532.3" font-size="8.0" fill="#231F20" stroke="#231F20" stroke-width="0.12" text-anchor="middle" textLength="11.5" lengthAdjust="spacingAndGlyphs" >0.2</text>
<text x="193.18" y="532.3" font-size="8.0" fill="#231F20" stroke="#231F20" stroke-width="0.12" text-anchor="middle" textLength="11.5" lengthAdjust="spacingAndGlyphs" >0.4</text>
<text x="211.92" y="532.3" font-size="8.0" fill="#231F20" stroke="#231F20" stroke-width="0.12" text-anchor="middle" textLength="11.5" lengthAdjust="spacingAndGlyphs" >0.6</text>
<text x="230.66" y="532.3" font-size="8.0" fill="#231F20" stroke="#231F20" stroke-width="0.12" text-anchor="middle" textLength="11.5" lengthAdjust="spacingAndGlyphs" >0.8</text>
<text x="200" y="546.5" font-size="9.5" fill="#231F20" stroke="#231F20" stroke-width="0.12" text-anchor="middle" textLength="97" lengthAdjust="spacingAndGlyphs" >% AID associated mutations</text>
<text transform="translate(134.3 467.4) rotate(-90)" text-anchor="middle" font-size="10" fill="#231F20" stroke="#231F20" stroke-width="0.25" textLength="26" lengthAdjust="spacingAndGlyphs">Density</text>
<text x="163.1" y="424.5" font-size="4.9" fill="#231F20" stroke="#231F20" stroke-width="0.12" textLength="13.9" lengthAdjust="spacingAndGlyphs" >EBV -</text>
<text x="203.3" y="425.5" font-size="4.9" fill="#231F20" stroke="#231F20" stroke-width="0.12" textLength="14.7" lengthAdjust="spacingAndGlyphs" >Type1</text>
<text x="213.3" y="439.7" font-size="4.9" fill="#231F20" stroke="#231F20" stroke-width="0.12" textLength="14.5" lengthAdjust="spacingAndGlyphs" >Type2</text>
<text x="224.9" y="422.7" font-size="4.9" fill="#231F20" stroke="#231F20" stroke-width="0.12" textLength="20.8" lengthAdjust="spacingAndGlyphs" >P=0.027</text>
<path d="M197.5 438.1H211.8" stroke="#3c3c3c" stroke-width="1.1"/>
<text x="265.5" y="400.8" font-size="11" fill="#000" stroke="#000" stroke-width="0.55" font-weight="bold" >D</text>
<text x="356.7" y="399.4" font-size="9.3" fill="#231F20" stroke="#231F20" stroke-width="0.12" text-anchor="middle" textLength="55.8" lengthAdjust="spacingAndGlyphs" >Associations</text>
<text x="355.1" y="409" font-size="9.3" fill="#231F20" stroke="#231F20" stroke-width="0.12" text-anchor="middle" textLength="59" lengthAdjust="spacingAndGlyphs" >with Subtype</text>
<text x="477.6" y="399.4" font-size="9.3" fill="#231F20" stroke="#231F20" stroke-width="0.12" text-anchor="middle" textLength="56" lengthAdjust="spacingAndGlyphs" >Associations</text>
<text x="477.7" y="409" font-size="9.3" fill="#231F20" stroke="#231F20" stroke-width="0.12" text-anchor="middle" textLength="69.8" lengthAdjust="spacingAndGlyphs" >with EBV status</text>
<g stroke="#111" stroke-width="1.1" fill="none"><path d="M298.2 415.25V507.5H416"/>
<path d="M295.6 507.5H298.2M295.6 489.75H298.2M295.6 472H298.2M295.6 454.25H298.2M295.6 436.5H298.2M295.6 418.75H298.2M304.62 507.5V509.8M317.69 507.5V509.8M330.75 507.5V509.8M343.81 507.5V509.8M356.87 507.5V509.8M369.93 507.5V509.8M382.99 507.5V509.8M396.05 507.5V509.8M409.11 507.5V509.8"/></g>
<rect x="300.5" y="472" width="8.25" height="35.5" fill="#69A93F"/>
<rect x="300.5" y="463.75" width="8.25" height="8.25" fill="#2E4C8A"/>
<rect x="300.5" y="418.75" width="8.25" height="45" fill="#A50A30"/>
<rect x="313.56" y="468.72" width="8.25" height="38.78" fill="#69A93F"/>
<rect x="313.56" y="467.03" width="8.25" height="1.69" fill="#2E4C8A"/>
<rect x="313.56" y="418.75" width="8.25" height="48.28" fill="#A50A30"/>
<rect x="326.62" y="448.75" width="8.25" height="58.75" fill="#69A93F"/>
<rect x="326.62" y="433.75" width="8.25" height="15" fill="#2E4C8A"/>
<rect x="326.62" y="418.75" width="8.25" height="15" fill="#A50A30"/>
<rect x="339.68" y="446.97" width="8.25" height="60.53" fill="#69A93F"/>
<rect x="339.68" y="435.52" width="8.25" height="11.45" fill="#2E4C8A"/>
<rect x="339.68" y="418.75" width="8.25" height="16.77" fill="#A50A30"/>
<rect x="352.74" y="442.98" width="8.25" height="64.52" fill="#69A93F"/>
<rect x="352.74" y="427" width="8.25" height="15.98" fill="#2E4C8A"/>
<rect x="352.74" y="418.75" width="8.25" height="8.25" fill="#A50A30"/>
<rect x="365.8" y="441.74" width="8.25" height="65.76" fill="#69A93F"/>
<rect x="365.8" y="421.77" width="8.25" height="19.97" fill="#2E4C8A"/>
<rect x="365.8" y="418.75" width="8.25" height="3.02" fill="#A50A30"/>
<rect x="378.86" y="440.49" width="8.25" height="67.01" fill="#69A93F"/>
<rect x="378.86" y="424.96" width="8.25" height="15.53" fill="#2E4C8A"/>
<rect x="378.86" y="418.75" width="8.25" height="6.21" fill="#A50A30"/>
<rect x="391.92" y="439.78" width="8.25" height="67.72" fill="#69A93F"/>
<rect x="391.92" y="424.96" width="8.25" height="14.82" fill="#2E4C8A"/>
<rect x="391.92" y="418.75" width="8.25" height="6.21" fill="#A50A30"/>
<rect x="404.98" y="438.72" width="8.25" height="68.78" fill="#69A93F"/>
<rect x="404.98" y="425.5" width="8.25" height="13.22" fill="#2E4C8A"/>
<rect x="404.98" y="418.75" width="8.25" height="6.74" fill="#A50A30"/>
<text x="292.3" y="510.3" font-size="7.9" fill="#231F20" stroke="#231F20" stroke-width="0.12" text-anchor="end" textLength="12.6" lengthAdjust="spacingAndGlyphs" >0.0</text>
<text x="292.3" y="492.55" font-size="7.9" fill="#231F20" stroke="#231F20" stroke-width="0.12" text-anchor="end" textLength="12.6" lengthAdjust="spacingAndGlyphs" >0.2</text>
<text x="292.3" y="474.8" font-size="7.9" fill="#231F20" stroke="#231F20" stroke-width="0.12" text-anchor="end" textLength="12.6" lengthAdjust="spacingAndGlyphs" >0.4</text>
<text x="292.3" y="457.05" font-size="7.9" fill="#231F20" stroke="#231F20" stroke-width="0.12" text-anchor="end" textLength="12.6" lengthAdjust="spacingAndGlyphs" >0.6</text>
<text x="292.3" y="439.3" font-size="7.9" fill="#231F20" stroke="#231F20" stroke-width="0.12" text-anchor="end" textLength="12.6" lengthAdjust="spacingAndGlyphs" >0.8</text>
<text x="292.3" y="421.55" font-size="7.9" fill="#231F20" stroke="#231F20" stroke-width="0.12" text-anchor="end" textLength="12.6" lengthAdjust="spacingAndGlyphs" >1.0</text>
<text transform="translate(274.5 462.5) rotate(-90)" text-anchor="middle" font-size="10" fill="#231F20" stroke="#231F20" stroke-width="0.25" textLength="73.4" lengthAdjust="spacingAndGlyphs">Percent of mutations</text>
<text transform="translate(306.82 518.5) rotate(-45)" text-anchor="end" font-size="7.6" fill="#231F20" stroke="#231F20" stroke-width="0.22" textLength="22.5" lengthAdjust="spacingAndGlyphs">BCL7A</text>
<text transform="translate(319.88 518.5) rotate(-45)" text-anchor="end" font-size="7.6" fill="#231F20" stroke="#231F20" stroke-width="0.22" textLength="17" lengthAdjust="spacingAndGlyphs">BCL6</text>
<text transform="translate(332.94 518.5) rotate(-45)" text-anchor="end" font-size="7.6" fill="#231F20" stroke="#231F20" stroke-width="0.22" textLength="26.5" lengthAdjust="spacingAndGlyphs">FBXO11</text>
<text transform="translate(346 518.5) rotate(-45)" text-anchor="end" font-size="7.6" fill="#231F20" stroke="#231F20" stroke-width="0.22" textLength="31.5" lengthAdjust="spacingAndGlyphs">HNRNPU</text>
<text transform="translate(359.06 518.5) rotate(-45)" text-anchor="end" font-size="7.6" fill="#231F20" stroke="#231F20" stroke-width="0.22" textLength="18.5" lengthAdjust="spacingAndGlyphs">CTCF</text>
<text transform="translate(372.12 518.5) rotate(-45)" text-anchor="end" font-size="7.6" fill="#231F20" stroke="#231F20" stroke-width="0.22" textLength="24" lengthAdjust="spacingAndGlyphs">SNTB2</text>
<text transform="translate(385.19 518.5) rotate(-45)" text-anchor="end" font-size="7.6" fill="#231F20" stroke="#231F20" stroke-width="0.22" textLength="25.5" lengthAdjust="spacingAndGlyphs">DNMT1</text>
<text transform="translate(398.25 518.5) rotate(-45)" text-anchor="end" font-size="7.6" fill="#231F20" stroke="#231F20" stroke-width="0.22" textLength="17" lengthAdjust="spacingAndGlyphs">MME</text>
<text transform="translate(411.31 518.5) rotate(-45)" text-anchor="end" font-size="7.6" fill="#231F20" stroke="#231F20" stroke-width="0.22" textLength="19.5" lengthAdjust="spacingAndGlyphs">CHD8</text>
<g stroke="#111" stroke-width="1.1" fill="none"><path d="M458.7 417.2V508.9H502.7"/>
<path d="M456.1 508.9H458.7M456.1 491.26H458.7M456.1 473.62H458.7M456.1 455.98H458.7M456.1 438.34H458.7M456.1 420.7H458.7M465.75 508.9V511.2M480.4 508.9V511.2M495.05 508.9V511.2"/></g>
<rect x="461" y="486.14" width="9.5" height="22.76" fill="#C9137F"/>
<rect x="461" y="420.7" width="9.5" height="65.44" fill="#E38C17"/>
<rect x="475.65" y="461.27" width="9.5" height="47.63" fill="#C9137F"/>
<rect x="475.65" y="420.7" width="9.5" height="40.57" fill="#E38C17"/>
<rect x="490.3" y="459.77" width="9.5" height="49.13" fill="#C9137F"/>
<rect x="490.3" y="420.7" width="9.5" height="39.07" fill="#E38C17"/>
<text x="454.2" y="511.7" font-size="7.9" fill="#231F20" stroke="#231F20" stroke-width="0.12" text-anchor="end" textLength="12.6" lengthAdjust="spacingAndGlyphs" >0.0</text>
<text x="454.2" y="494.06" font-size="7.9" fill="#231F20" stroke="#231F20" stroke-width="0.12" text-anchor="end" textLength="12.6" lengthAdjust="spacingAndGlyphs" >0.2</text>
<text x="454.2" y="476.42" font-size="7.9" fill="#231F20" stroke="#231F20" stroke-width="0.12" text-anchor="end" textLength="12.6" lengthAdjust="spacingAndGlyphs" >0.4</text>
<text x="454.2" y="458.78" font-size="7.9" fill="#231F20" stroke="#231F20" stroke-width="0.12" text-anchor="end" textLength="12.6" lengthAdjust="spacingAndGlyphs" >0.6</text>
<text x="454.2" y="441.14" font-size="7.9" fill="#231F20" stroke="#231F20" stroke-width="0.12" text-anchor="end" textLength="12.6" lengthAdjust="spacingAndGlyphs" >0.8</text>
<text x="454.2" y="423.5" font-size="7.9" fill="#231F20" stroke="#231F20" stroke-width="0.12" text-anchor="end" textLength="12.6" lengthAdjust="spacingAndGlyphs" >1.0</text>
<text transform="translate(434.5 462.5) rotate(-90)" text-anchor="middle" font-size="10" fill="#231F20" stroke="#231F20" stroke-width="0.25" textLength="73.4" lengthAdjust="spacingAndGlyphs">Percent of mutations</text>
<text transform="translate(467.95 519.3) rotate(-45)" text-anchor="end" font-size="7.6" fill="#231F20" stroke="#231F20" stroke-width="0.22" textLength="24" lengthAdjust="spacingAndGlyphs">SNTB2</text>
<text transform="translate(482.6 519.3) rotate(-45)" text-anchor="end" font-size="7.6" fill="#231F20" stroke="#231F20" stroke-width="0.22" textLength="24.5" lengthAdjust="spacingAndGlyphs">BACH2</text>
<text transform="translate(497.25 519.3) rotate(-45)" text-anchor="end" font-size="7.6" fill="#231F20" stroke="#231F20" stroke-width="0.22" textLength="20" lengthAdjust="spacingAndGlyphs">IGLL5</text>
<rect x="0.5" y="0.5" width="519" height="567" fill="none" stroke="#000" stroke-width="1.2"/>
</svg></body></html>
